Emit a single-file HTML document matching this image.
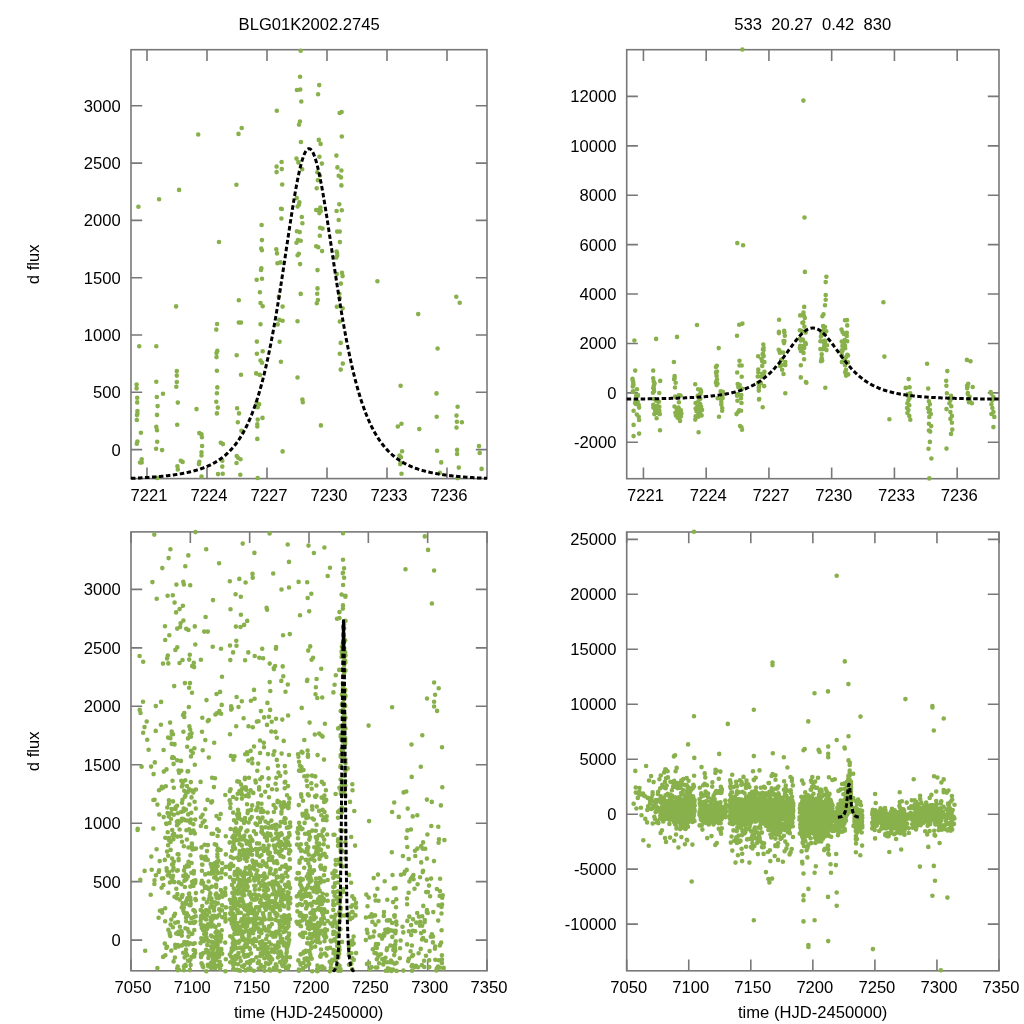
<!DOCTYPE html><html><head><meta charset="utf-8"><style>html,body{margin:0;padding:0;background:#fff}svg{display:block;will-change:transform}</style></head><body>
<svg width="1024" height="1024" viewBox="0 0 1024 1024" font-family="Liberation Sans, Arial, sans-serif" font-size="16.6">
<rect width="1024" height="1024" fill="#fff"/>
<path d="M147.00 478.6v-11.2M147.00 49.7v11.2M207.00 478.6v-11.2M207.00 49.7v11.2M267.00 478.6v-11.2M267.00 49.7v11.2M327.00 478.6v-11.2M327.00 49.7v11.2M387.00 478.6v-11.2M387.00 49.7v11.2M447.00 478.6v-11.2M447.00 49.7v11.2M131.0 449.60h11.2M487.0 449.60h-11.2M131.0 392.30h11.2M487.0 392.30h-11.2M131.0 335.00h11.2M487.0 335.00h-11.2M131.0 277.70h11.2M487.0 277.70h-11.2M131.0 220.40h11.2M487.0 220.40h-11.2M131.0 163.10h11.2M487.0 163.10h-11.2M131.0 105.80h11.2M487.0 105.80h-11.2" stroke="#787878" stroke-width="1.6" fill="none"/>
<rect x="131.0" y="49.7" width="356.00" height="428.90" fill="none" stroke="#787878" stroke-width="1.6"/>
<path d="M300.7 50.7h0M300.1 76.7h0M296.9 90h0M300.3 89.5h0M301.3 101.5h0M276.8 110.8h0M299.9 121.5h0M299 124.6h0M241.7 128h0M238.5 133.9h0M198.2 134.5h0M300.9 142h0M296.5 158.6h0M298.4 162.4h0M281.6 162h0M276.6 166.6h0M281.8 169.1h0M276.6 172.1h0M302.2 169.3h0M236.4 184.7h0M282.2 184.5h0M179.1 189.9h0M159.1 199.2h0M296.7 198.1h0M299.4 202.3h0M299 204.8h0M297.6 206.5h0M138.4 206.7h0M281 208.8h0M281.8 209h0M281.4 218.5h0M301.8 217h0M302.4 223.3h0M261.6 225h0M296.9 231.3h0M299.7 232.1h0M219 242h0M261.9 240.1h0M300.7 240.8h0M298 240.1h0M296.5 242.7h0M261.2 248.5h0M261.9 250.2h0M276.3 249.2h0M277 253.4h0M298.8 253.8h0M297.6 255.2h0M277.4 263.2h0M280.5 262.4h0M300.1 264.1h0M319.2 85.1h0M318.1 94.3h0M339.7 113h0M341.6 112h0M341.8 136.5h0M318.8 139.9h0M320.6 143.9h0M336.4 155.6h0M319.4 156.7h0M321.9 163.6h0M337.4 167.4h0M341.4 170.5h0M338.7 175.8h0M341 177.4h0M317.3 172.2h0M320 175.5h0M317.9 180.2h0M341.4 185.4h0M316.7 188.3h0M339.3 204.3h0M336.6 211h0M341.8 210.2h0M316.2 210h0M319.4 209.5h0M320.4 207.5h0M319.4 213.1h0M320.8 211h0M338.7 220h0M320 227.8h0M322.5 228.6h0M337.2 231.6h0M339.7 231.6h0M319.8 235.8h0M339.9 242.1h0M316.2 246.3h0M318.3 247.3h0M322.1 251.1h0M336.6 251.5h0M337.2 253.6h0M336.2 257.4h0M337.2 255.7h0M261.4 268.2h0M261 269.9h0M256.7 279.8h0M262 278.7h0M259.9 292.2h0M300.7 293.9h0M278.8 296.5h0M238.8 300.2h0M260.5 303h0M262.7 306.2h0M176.1 306.4h0M282.6 306.6h0M279.2 319.7h0M282.6 320.8h0M277.7 324.4h0M297.5 321.2h0M238.8 322.5h0M241 322.5h0M260.5 324.2h0M217.1 324h0M216.3 329.6h0M139.2 346.3h0M156.3 346.3h0M256.9 341.6h0M279.6 341.8h0M217.3 350.9h0M216.5 353h0M216.5 357.1h0M236.7 355.2h0M256.9 353.7h0M262.7 351.3h0M260.5 360.5h0M262 362.7h0M280.9 361.8h0M176.8 371.1h0M176.8 375.6h0M176.8 382h0M176.3 386.7h0M216.9 370.8h0M241 374.7h0M256.2 373.4h0M259.9 374.9h0M297.5 377.5h0M136.6 384.6h0M136.6 388.4h0M156.3 381.8h0M217.3 387.4h0M216.9 393.2h0M137.2 397.7h0M137.2 402.4h0M156.8 397h0M163 393.8h0M157.6 406.1h0M177.8 402.6h0M216.3 401.8h0M217.8 407.6h0M216.9 413.4h0M196.5 409.1h0M237.1 408.2h0M239 413.4h0M256.7 402.8h0M259.2 404.3h0M257.7 407.3h0M302.4 399.6h0M302.8 402.2h0M137.4 411h0M137.4 413.6h0M137 415.1h0M136.8 420h0M157 414.9h0M262.5 417.9h0M257.7 419.6h0M237.8 422.2h0M257.3 424.3h0M257.3 426.5h0M177.2 424.8h0M156.3 426.9h0M157 430.3h0M140.9 432.7h0M199.3 433.1h0M201.5 434.4h0M201.9 437.2h0M241.4 430.8h0M257.3 438.9h0M137.4 441.5h0M136.8 443.7h0M157.2 441.7h0M220.8 442.8h0M222.9 444.1h0M202.1 446h0M156.1 448.8h0M162.1 450.1h0M282.6 451.4h0M201.5 452.2h0M201.5 455.5h0M236.7 456.1h0M240.5 459.3h0M237.8 457.6h0M141.7 459.3h0M140 462.5h0M141.7 462.5h0M180.8 460.8h0M182.6 461.9h0M222.3 460.8h0M199.3 461.9h0M198.9 464.1h0M236.5 463h0M177.4 466.2h0M177.8 469.4h0M222.3 466.6h0M218 474.1h0M222.7 473.7h0M240.3 474.8h0M201.5 476.5h0M257.7 478h0M317.5 270.1h0M336.8 274h0M342 272.9h0M342.6 276.1h0M340.9 283.6h0M377.4 281.3h0M317.5 288.4h0M317.2 293.7h0M317.9 300h0M316.8 303.2h0M339.4 293.7h0M339.8 298.2h0M336.8 306.8h0M342.6 308.3h0M339.8 321.5h0M418.2 314.1h0M456.3 296.7h0M459.7 302.8h0M340.7 342.9h0M437.6 348.5h0M339.8 353.7h0M342.8 363.6h0M340.7 369.6h0M400.6 385.7h0M436.5 393.4h0M457.6 406.8h0M436.7 416.8h0M456.5 415.6h0M456.9 421.8h0M461.9 422.2h0M456.5 427.6h0M320.9 425.4h0M397.8 426.5h0M401.5 423.7h0M419.3 429.1h0M479 446.1h0M479.7 452.9h0M402.1 451.2h0M399.5 455.5h0M401 457.2h0M400.2 464.1h0M401 463.1h0M437.1 450.8h0M457.1 449.9h0M457.1 454h0M441.2 462.4h0M458.8 467.6h0M481.6 468.9h0M401.5 473.8h0M439.9 472.7h0M457.6 478.1h0M157.2 478h0" stroke="#88b04b" stroke-width="4.6" stroke-linecap="round" fill="none"/>
<clipPath id="cTL"><rect x="129.5" y="48.2" width="359.00" height="431.90"/></clipPath>
<polyline clip-path="url(#cTL)" points="131.00,478.36 131.59,478.33 132.19,478.30 132.78,478.28 133.38,478.25 133.97,478.22 134.57,478.19 135.16,478.17 135.75,478.14 136.35,478.11 136.94,478.08 137.54,478.05 138.13,478.02 138.73,477.99 139.32,477.95 139.91,477.92 140.51,477.89 141.10,477.86 141.70,477.82 142.29,477.79 142.89,477.75 143.48,477.72 144.08,477.68 144.67,477.65 145.26,477.61 145.86,477.57 146.45,477.54 147.05,477.50 147.64,477.46 148.24,477.42 148.83,477.38 149.42,477.34 150.02,477.29 150.61,477.25 151.21,477.21 151.80,477.16 152.40,477.12 152.99,477.07 153.58,477.03 154.18,476.98 154.77,476.93 155.37,476.89 155.96,476.84 156.56,476.79 157.15,476.74 157.74,476.68 158.34,476.63 158.93,476.58 159.53,476.52 160.12,476.47 160.72,476.41 161.31,476.35 161.90,476.30 162.50,476.24 163.09,476.18 163.69,476.11 164.28,476.05 164.88,475.99 165.47,475.92 166.07,475.86 166.66,475.79 167.25,475.72 167.85,475.65 168.44,475.58 169.04,475.51 169.63,475.44 170.23,475.36 170.82,475.29 171.41,475.21 172.01,475.13 172.60,475.05 173.20,474.97 173.79,474.89 174.39,474.80 174.98,474.72 175.57,474.63 176.17,474.54 176.76,474.45 177.36,474.36 177.95,474.26 178.55,474.17 179.14,474.07 179.73,473.97 180.33,473.87 180.92,473.76 181.52,473.66 182.11,473.55 182.71,473.44 183.30,473.33 183.89,473.22 184.49,473.10 185.08,472.98 185.68,472.86 186.27,472.74 186.87,472.61 187.46,472.48 188.06,472.35 188.65,472.22 189.24,472.08 189.84,471.95 190.43,471.80 191.03,471.66 191.62,471.51 192.22,471.36 192.81,471.21 193.40,471.06 194.00,470.90 194.59,470.73 195.19,470.57 195.78,470.40 196.38,470.23 196.97,470.05 197.56,469.87 198.16,469.69 198.75,469.50 199.35,469.31 199.94,469.11 200.54,468.91 201.13,468.71 201.72,468.50 202.32,468.29 202.91,468.07 203.51,467.85 204.10,467.62 204.70,467.39 205.29,467.15 205.88,466.91 206.48,466.67 207.07,466.41 207.67,466.16 208.26,465.89 208.86,465.62 209.45,465.35 210.05,465.07 210.64,464.78 211.23,464.49 211.83,464.19 212.42,463.88 213.02,463.57 213.61,463.24 214.21,462.92 214.80,462.58 215.39,462.24 215.99,461.89 216.58,461.53 217.18,461.16 217.77,460.78 218.37,460.40 218.96,460.00 219.55,459.60 220.15,459.19 220.74,458.77 221.34,458.34 221.93,457.89 222.53,457.44 223.12,456.98 223.71,456.51 224.31,456.02 224.90,455.53 225.50,455.02 226.09,454.50 226.69,453.97 227.28,453.42 227.87,452.86 228.47,452.29 229.06,451.71 229.66,451.11 230.25,450.49 230.85,449.86 231.44,449.22 232.04,448.56 232.63,447.88 233.22,447.19 233.82,446.48 234.41,445.76 235.01,445.01 235.60,444.25 236.20,443.47 236.79,442.67 237.38,441.85 237.98,441.01 238.57,440.14 239.17,439.26 239.76,438.36 240.36,437.43 240.95,436.48 241.54,435.51 242.14,434.51 242.73,433.49 243.33,432.44 243.92,431.37 244.52,430.27 245.11,429.14 245.70,427.99 246.30,426.80 246.89,425.59 247.49,424.35 248.08,423.08 248.68,421.77 249.27,420.43 249.86,419.06 250.46,417.66 251.05,416.22 251.65,414.75 252.24,413.24 252.84,411.70 253.43,410.11 254.03,408.49 254.62,406.83 255.21,405.13 255.81,403.39 256.40,401.60 257.00,399.78 257.59,397.91 258.19,396.00 258.78,394.04 259.37,392.04 259.97,389.99 260.56,387.90 261.16,385.75 261.75,383.56 262.35,381.32 262.94,379.03 263.53,376.69 264.13,374.30 264.72,371.85 265.32,369.36 265.91,366.81 266.51,364.21 267.10,361.55 267.69,358.84 268.29,356.08 268.88,353.26 269.48,350.39 270.07,347.46 270.67,344.48 271.26,341.44 271.85,338.35 272.45,335.20 273.04,332.00 273.64,328.75 274.23,325.45 274.83,322.09 275.42,318.68 276.02,315.23 276.61,311.72 277.20,308.17 277.80,304.57 278.39,300.92 278.99,297.24 279.58,293.51 280.18,289.74 280.77,285.94 281.36,282.11 281.96,278.24 282.55,274.34 283.15,270.43 283.74,266.49 284.34,262.53 284.93,258.56 285.52,254.57 286.12,250.58 286.71,246.59 287.31,242.61 287.90,238.63 288.50,234.66 289.09,230.71 289.68,226.79 290.28,222.89 290.87,219.02 291.47,215.20 292.06,211.43 292.66,207.70 293.25,204.03 293.84,200.43 294.44,196.90 295.03,193.45 295.63,190.08 296.22,186.80 296.82,183.61 297.41,180.53 298.01,177.56 298.60,174.70 299.19,171.96 299.79,169.35 300.38,166.88 300.98,164.54 301.57,162.34 302.17,160.29 302.76,158.40 303.35,156.66 303.95,155.08 304.54,153.67 305.14,152.43 305.73,151.36 306.33,150.46 306.92,149.74 307.51,149.20 308.11,148.84 308.70,148.66 309.30,148.66 309.89,148.84 310.49,149.20 311.08,149.74 311.67,150.46 312.27,151.36 312.86,152.43 313.46,153.67 314.05,155.08 314.65,156.66 315.24,158.40 315.83,160.29 316.43,162.34 317.02,164.54 317.62,166.88 318.21,169.35 318.81,171.96 319.40,174.70 319.99,177.56 320.59,180.53 321.18,183.61 321.78,186.80 322.37,190.08 322.97,193.45 323.56,196.90 324.16,200.43 324.75,204.03 325.34,207.70 325.94,211.43 326.53,215.20 327.13,219.02 327.72,222.89 328.32,226.79 328.91,230.71 329.50,234.66 330.10,238.63 330.69,242.61 331.29,246.59 331.88,250.58 332.48,254.57 333.07,258.56 333.66,262.53 334.26,266.49 334.85,270.43 335.45,274.34 336.04,278.24 336.64,282.11 337.23,285.94 337.82,289.74 338.42,293.51 339.01,297.24 339.61,300.92 340.20,304.57 340.80,308.17 341.39,311.72 341.98,315.23 342.58,318.68 343.17,322.09 343.77,325.45 344.36,328.75 344.96,332.00 345.55,335.20 346.15,338.35 346.74,341.44 347.33,344.48 347.93,347.46 348.52,350.39 349.12,353.26 349.71,356.08 350.31,358.84 350.90,361.55 351.49,364.21 352.09,366.81 352.68,369.36 353.28,371.85 353.87,374.30 354.47,376.69 355.06,379.03 355.65,381.32 356.25,383.56 356.84,385.75 357.44,387.90 358.03,389.99 358.63,392.04 359.22,394.04 359.81,396.00 360.41,397.91 361.00,399.78 361.60,401.60 362.19,403.39 362.79,405.13 363.38,406.83 363.97,408.49 364.57,410.11 365.16,411.70 365.76,413.24 366.35,414.75 366.95,416.22 367.54,417.66 368.14,419.06 368.73,420.43 369.32,421.77 369.92,423.08 370.51,424.35 371.11,425.59 371.70,426.80 372.30,427.99 372.89,429.14 373.48,430.27 374.08,431.37 374.67,432.44 375.27,433.49 375.86,434.51 376.46,435.51 377.05,436.48 377.64,437.43 378.24,438.36 378.83,439.26 379.43,440.14 380.02,441.01 380.62,441.85 381.21,442.67 381.80,443.47 382.40,444.25 382.99,445.01 383.59,445.76 384.18,446.48 384.78,447.19 385.37,447.88 385.96,448.56 386.56,449.22 387.15,449.86 387.75,450.49 388.34,451.11 388.94,451.71 389.53,452.29 390.13,452.86 390.72,453.42 391.31,453.97 391.91,454.50 392.50,455.02 393.10,455.53 393.69,456.02 394.29,456.51 394.88,456.98 395.47,457.44 396.07,457.89 396.66,458.34 397.26,458.77 397.85,459.19 398.45,459.60 399.04,460.00 399.63,460.40 400.23,460.78 400.82,461.16 401.42,461.53 402.01,461.89 402.61,462.24 403.20,462.58 403.79,462.92 404.39,463.24 404.98,463.57 405.58,463.88 406.17,464.19 406.77,464.49 407.36,464.78 407.95,465.07 408.55,465.35 409.14,465.62 409.74,465.89 410.33,466.16 410.93,466.41 411.52,466.67 412.12,466.91 412.71,467.15 413.30,467.39 413.90,467.62 414.49,467.85 415.09,468.07 415.68,468.29 416.28,468.50 416.87,468.71 417.46,468.91 418.06,469.11 418.65,469.31 419.25,469.50 419.84,469.69 420.44,469.87 421.03,470.05 421.62,470.23 422.22,470.40 422.81,470.57 423.41,470.73 424.00,470.90 424.60,471.06 425.19,471.21 425.78,471.36 426.38,471.51 426.97,471.66 427.57,471.80 428.16,471.95 428.76,472.08 429.35,472.22 429.94,472.35 430.54,472.48 431.13,472.61 431.73,472.74 432.32,472.86 432.92,472.98 433.51,473.10 434.11,473.22 434.70,473.33 435.29,473.44 435.89,473.55 436.48,473.66 437.08,473.76 437.67,473.87 438.27,473.97 438.86,474.07 439.45,474.17 440.05,474.26 440.64,474.36 441.24,474.45 441.83,474.54 442.43,474.63 443.02,474.72 443.61,474.80 444.21,474.89 444.80,474.97 445.40,475.05 445.99,475.13 446.59,475.21 447.18,475.29 447.77,475.36 448.37,475.44 448.96,475.51 449.56,475.58 450.15,475.65 450.75,475.72 451.34,475.79 451.93,475.86 452.53,475.92 453.12,475.99 453.72,476.05 454.31,476.11 454.91,476.18 455.50,476.24 456.10,476.30 456.69,476.35 457.28,476.41 457.88,476.47 458.47,476.52 459.07,476.58 459.66,476.63 460.26,476.68 460.85,476.74 461.44,476.79 462.04,476.84 462.63,476.89 463.23,476.93 463.82,476.98 464.42,477.03 465.01,477.07 465.60,477.12 466.20,477.16 466.79,477.21 467.39,477.25 467.98,477.29 468.58,477.34 469.17,477.38 469.76,477.42 470.36,477.46 470.95,477.50 471.55,477.54 472.14,477.57 472.74,477.61 473.33,477.65 473.92,477.68 474.52,477.72 475.11,477.75 475.71,477.79 476.30,477.82 476.90,477.86 477.49,477.89 478.09,477.92 478.68,477.95 479.27,477.99 479.87,478.02 480.46,478.05 481.06,478.08 481.65,478.11 482.25,478.14 482.84,478.17 483.43,478.19 484.03,478.22 484.62,478.25 485.22,478.28 485.81,478.30 486.41,478.33 487.00,478.36" fill="none" stroke="#000" stroke-width="3" stroke-dasharray="4.5 2.5"/>
<text x="149.00" y="500.6" text-anchor="middle">7221</text>
<text x="209.00" y="500.6" text-anchor="middle">7224</text>
<text x="269.00" y="500.6" text-anchor="middle">7227</text>
<text x="329.00" y="500.6" text-anchor="middle">7230</text>
<text x="389.00" y="500.6" text-anchor="middle">7233</text>
<text x="449.00" y="500.6" text-anchor="middle">7236</text>
<text x="120.70" y="455.60" text-anchor="end">0</text>
<text x="120.70" y="398.30" text-anchor="end">500</text>
<text x="120.70" y="341.00" text-anchor="end">1000</text>
<text x="120.70" y="283.70" text-anchor="end">1500</text>
<text x="120.70" y="226.40" text-anchor="end">2000</text>
<text x="120.70" y="169.10" text-anchor="end">2500</text>
<text x="120.70" y="111.80" text-anchor="end">3000</text>
<path d="M643.43 478.7v-11.2M643.43 49.7v11.2M706.18 478.7v-11.2M706.18 49.7v11.2M768.93 478.7v-11.2M768.93 49.7v11.2M831.67 478.7v-11.2M831.67 49.7v11.2M894.42 478.7v-11.2M894.42 49.7v11.2M957.17 478.7v-11.2M957.17 49.7v11.2M626.7 442.31h11.2M999.0 442.31h-11.2M626.7 392.90h11.2M999.0 392.90h-11.2M626.7 343.49h11.2M999.0 343.49h-11.2M626.7 294.07h11.2M999.0 294.07h-11.2M626.7 244.66h11.2M999.0 244.66h-11.2M626.7 195.24h11.2M999.0 195.24h-11.2M626.7 145.83h11.2M999.0 145.83h-11.2M626.7 96.42h11.2M999.0 96.42h-11.2" stroke="#787878" stroke-width="1.6" fill="none"/>
<rect x="626.7" y="49.7" width="372.30" height="429.00" fill="none" stroke="#787878" stroke-width="1.6"/>
<path d="M804.2 306.9h0M803.5 312.5h0M800.2 315.4h0M803.7 315.3h0M804.8 317.9h0M779.1 319.8h0M803.3 322.2h0M802.4 322.8h0M742.4 323.6h0M739.2 324.8h0M697 325h0M804.4 326.6h0M799.8 330.2h0M801.8 331h0M784.2 330.9h0M778.9 331.9h0M784.4 332.4h0M778.9 333.1h0M805.7 332.5h0M737 335.8h0M784.8 335.7h0M677 336.9h0M656.1 338.9h0M800 338.7h0M802.9 339.6h0M802.4 340.1h0M800.9 340.5h0M634.4 340.5h0M783.5 341h0M784.4 341h0M784 343.1h0M805.3 342.8h0M805.9 344.1h0M763.3 344.5h0M800.2 345.8h0M803.1 346h0M718.7 348.1h0M763.6 347.7h0M804.2 347.9h0M801.3 347.7h0M799.8 348.3h0M762.9 349.6h0M763.6 349.9h0M778.7 349.7h0M779.4 350.6h0M802.2 350.7h0M800.9 351h0M779.8 352.7h0M783.1 352.5h0M803.5 352.9h0M823.5 314.3h0M822.4 316.3h0M845 320.3h0M847 320.1h0M847.2 325.4h0M823.1 326.1h0M825 327h0M841.5 329.5h0M823.7 329.7h0M826.3 331.2h0M842.6 332.1h0M846.8 332.7h0M843.9 333.9h0M846.3 334.2h0M821.5 333.1h0M824.4 333.8h0M822.2 334.8h0M846.8 335.9h0M820.9 336.6h0M844.6 340h0M841.7 341.5h0M847.2 341.3h0M820.4 341.2h0M823.7 341.1h0M824.8 340.7h0M823.7 341.9h0M825.2 341.5h0M843.9 343.4h0M824.4 345.1h0M827 345.3h0M842.4 345.9h0M845 345.9h0M824.1 346.8h0M845.2 348.2h0M820.4 349.1h0M822.6 349.3h0M826.5 350.1h0M841.7 350.2h0M842.4 350.6h0M841.3 351.5h0M842.4 351.1h0M763 353.8h0M762.6 354.2h0M758.1 356.3h0M763.7 356.1h0M761.5 359h0M804.1 359.3h0M781.2 359.9h0M739.5 360.7h0M762.2 361.3h0M764.4 362h0M673.9 362h0M785.3 362.1h0M781.7 364.9h0M785.3 365.1h0M780.1 365.9h0M800.8 365.2h0M739.5 365.5h0M741.7 365.5h0M762.2 365.9h0M716.8 365.8h0M715.9 367h0M635.2 370.6h0M653.2 370.6h0M758.3 369.6h0M782.1 369.7h0M717 371.6h0M716.1 372.1h0M716.1 373h0M737.2 372.5h0M758.3 372.2h0M764.4 371.7h0M762.2 373.7h0M763.7 374.2h0M783.5 374h0M674.6 376h0M674.6 376.9h0M674.6 378.3h0M674.1 379.3h0M716.6 375.9h0M741.7 376.8h0M757.7 376.5h0M761.5 376.8h0M800.8 377.4h0M632.5 378.9h0M632.5 379.7h0M653.2 378.3h0M717 379.5h0M716.6 380.7h0M633.2 381.7h0M633.2 382.7h0M653.7 381.6h0M660.2 380.9h0M654.6 383.5h0M675.7 382.8h0M715.9 382.6h0M717.5 383.8h0M716.6 385.1h0M695.2 384.2h0M737.7 384h0M739.7 385.1h0M758.1 382.8h0M760.8 383.1h0M759.2 383.8h0M805.9 382.1h0M806.4 382.7h0M633.4 384.6h0M633.4 385.1h0M633 385.5h0M632.8 386.5h0M653.9 385.4h0M764.2 386.1h0M759.2 386.4h0M738.3 387h0M758.8 387.4h0M758.8 387.9h0M675 387.5h0M653.2 388h0M653.9 388.7h0M637 389.3h0M698.1 389.3h0M700.4 389.6h0M700.8 390.2h0M742.2 388.8h0M758.8 390.6h0M633.4 391.2h0M632.8 391.6h0M654.1 391.2h0M720.6 391.4h0M722.8 391.7h0M701.1 392.1h0M653 392.7h0M659.3 393h0M785.3 393.3h0M700.4 393.5h0M700.4 394.2h0M737.2 394.3h0M741.3 395h0M738.3 394.6h0M637.9 395h0M636.1 395.7h0M637.9 395.7h0M678.8 395.3h0M680.6 395.6h0M722.2 395.3h0M698.1 395.6h0M697.7 396h0M737 395.8h0M675.2 396.5h0M675.7 397.2h0M722.2 396.6h0M717.7 398.2h0M722.6 398.1h0M741 398.3h0M700.4 398.7h0M759.2 399h0M821.7 354.2h0M841.9 355h0M847.3 354.8h0M848 355.5h0M846.2 357.1h0M884.4 356.6h0M821.7 358.1h0M821.5 359.3h0M822.2 360.6h0M821 361.3h0M844.6 359.3h0M845.1 360.3h0M841.9 362.1h0M848 362.4h0M845.1 365.3h0M927.1 363.7h0M966.9 359.9h0M970.5 361.2h0M846 369.9h0M947.3 371.1h0M845.1 372.2h0M848.2 374.4h0M846 375.6h0M908.7 379.1h0M946.2 380.8h0M968.2 383.7h0M946.4 385.8h0M967.1 385.6h0M967.5 386.9h0M972.7 387h0M967.1 388.2h0M825.3 387.7h0M905.7 387.9h0M909.6 387.3h0M928.2 388.5h0M990.7 392.1h0M991.3 393.6h0M910.2 393.3h0M907.5 394.2h0M909.1 394.5h0M908.2 396h0M909.1 395.8h0M946.9 393.2h0M967.8 393h0M967.8 393.9h0M951.1 395.7h0M969.6 396.8h0M993.4 397.1h0M909.6 398.1h0M949.8 397.9h0M968.2 399h0M635.9 400.3h0M637.7 401.7h0M635 403h0M638.7 404.9h0M639.1 407.6h0M633.6 410.8h0M636.8 414.5h0M638.7 416.8h0M639.1 420h0M633.6 424.9h0M639.1 433.6h0M633.6 436.1h0M637.3 402.6h0M635.9 404h0M656.1 400.8h0M658.9 401.7h0M653.3 404.9h0M657 405.8h0M659.3 406.7h0M654.3 407.6h0M657.5 408.6h0M655.2 410.8h0M659.3 410.8h0M654.3 414.1h0M657.9 413.1h0M659.8 414.1h0M656.6 418.2h0M660 430.3h0M653.3 407.6h0M656.1 412.2h0M678.9 402.3h0M674.5 406.5h0M678.6 407.6h0M676.8 409.5h0M680.9 410.4h0M675.4 412.7h0M679.1 413.1h0M681.4 413.6h0M675.9 415.4h0M678.6 415.9h0M680.9 416.4h0M680 420.9h0M677.7 417.7h0M698.4 401.2h0M695.6 403h0M700.2 404h0M697.4 406.3h0M701.1 406.7h0M695.6 408.6h0M699.3 409h0M702 409.9h0M696.5 411.3h0M700.2 411.8h0M698.4 413.6h0M701.6 415.4h0M695.6 416.4h0M698.4 416.8h0M695.3 419.6h0M698.6 432.2h0M721.3 399.4h0M721.3 402.1h0M721.3 404.4h0M722.2 408.1h0M722.2 410.8h0M719 416.8h0M737.4 400.8h0M741.5 403h0M739.2 410.4h0M741.1 410.8h0M736.5 414.1h0M737.9 412.2h0M740.1 426h0M742 429.7h0M741.5 427.4h0M759 399.4h0M762.7 407.2h0M908.4 400.3h0M907.4 403.2h0M909.3 405.2h0M907 408.1h0M908.4 410.1h0M907.4 413h0M909.3 415.9h0M910.3 419.8h0M889.4 419.3h0M928.9 401.3h0M929.9 404.2h0M927.9 408.1h0M929.9 410.1h0M928.9 412h0M930.8 414h0M929.3 416.9h0M928.9 423.7h0M931.2 426.1h0M928.9 430.6h0M930.2 431.6h0M929.9 441.9h0M928.5 448.8h0M931.4 458.5h0M929.3 478.4h0M950.4 400.3h0M949.4 403.2h0M951.3 406.2h0M946.5 409.1h0M950.4 412h0M951.9 415.9h0M950.4 418.9h0M951.9 422.8h0M952.3 429.6h0M951 433.9h0M946.5 448.6h0M969.9 401.3h0M971.9 403.2h0M968.9 402.3h0M992.4 400.3h0M991.4 404.2h0M992.4 408.1h0M993.4 412h0M991.4 414h0M994.3 416.9h0M993.4 427.1h0M742.4 49.5h0M803.4 100.6h0M804.5 217.5h0M737.3 243.1h0M743.1 245.3h0M804.9 271.9h0M826.4 276.7h0M825.7 282.1h0M825.7 295h0M825.7 299.7h0M825 305.2h0M883.4 302.2h0M654.1 399h0" stroke="#88b04b" stroke-width="4.6" stroke-linecap="round" fill="none"/>
<clipPath id="cTR"><rect x="625.2" y="48.2" width="375.30" height="432.00"/></clipPath>
<polyline clip-path="url(#cTR)" points="626.70,399.10 627.32,399.09 627.94,399.09 628.56,399.08 629.19,399.08 629.81,399.07 630.43,399.06 631.05,399.06 631.67,399.05 632.29,399.05 632.92,399.04 633.54,399.03 634.16,399.03 634.78,399.02 635.40,399.01 636.02,399.01 636.64,399.00 637.27,398.99 637.89,398.98 638.51,398.98 639.13,398.97 639.75,398.96 640.37,398.95 641.00,398.95 641.62,398.94 642.24,398.93 642.86,398.92 643.48,398.91 644.10,398.91 644.72,398.90 645.35,398.89 645.97,398.88 646.59,398.87 647.21,398.86 647.83,398.85 648.45,398.84 649.08,398.83 649.70,398.82 650.32,398.81 650.94,398.80 651.56,398.79 652.18,398.78 652.80,398.77 653.43,398.76 654.05,398.75 654.67,398.74 655.29,398.73 655.91,398.72 656.53,398.70 657.16,398.69 657.78,398.68 658.40,398.67 659.02,398.66 659.64,398.64 660.26,398.63 660.88,398.62 661.51,398.60 662.13,398.59 662.75,398.58 663.37,398.56 663.99,398.55 664.61,398.53 665.24,398.52 665.86,398.50 666.48,398.49 667.10,398.47 667.72,398.45 668.34,398.44 668.96,398.42 669.59,398.40 670.21,398.39 670.83,398.37 671.45,398.35 672.07,398.33 672.69,398.32 673.32,398.30 673.94,398.28 674.56,398.26 675.18,398.24 675.80,398.22 676.42,398.20 677.04,398.18 677.67,398.15 678.29,398.13 678.91,398.11 679.53,398.09 680.15,398.06 680.77,398.04 681.40,398.02 682.02,397.99 682.64,397.97 683.26,397.94 683.88,397.91 684.50,397.89 685.12,397.86 685.75,397.83 686.37,397.81 686.99,397.78 687.61,397.75 688.23,397.72 688.85,397.69 689.48,397.66 690.10,397.62 690.72,397.59 691.34,397.56 691.96,397.53 692.58,397.49 693.20,397.46 693.83,397.42 694.45,397.38 695.07,397.35 695.69,397.31 696.31,397.27 696.93,397.23 697.56,397.19 698.18,397.15 698.80,397.11 699.42,397.06 700.04,397.02 700.66,396.97 701.28,396.93 701.91,396.88 702.53,396.83 703.15,396.79 703.77,396.74 704.39,396.68 705.01,396.63 705.64,396.58 706.26,396.53 706.88,396.47 707.50,396.41 708.12,396.35 708.74,396.30 709.36,396.23 709.99,396.17 710.61,396.11 711.23,396.04 711.85,395.98 712.47,395.91 713.09,395.84 713.72,395.77 714.34,395.70 714.96,395.62 715.58,395.55 716.20,395.47 716.82,395.39 717.44,395.31 718.07,395.23 718.69,395.14 719.31,395.06 719.93,394.97 720.55,394.88 721.17,394.78 721.79,394.69 722.42,394.59 723.04,394.49 723.66,394.39 724.28,394.28 724.90,394.18 725.52,394.07 726.15,393.96 726.77,393.84 727.39,393.72 728.01,393.60 728.63,393.48 729.25,393.35 729.87,393.22 730.50,393.09 731.12,392.96 731.74,392.82 732.36,392.68 732.98,392.53 733.60,392.38 734.23,392.23 734.85,392.07 735.47,391.91 736.09,391.75 736.71,391.58 737.33,391.41 737.95,391.23 738.58,391.05 739.20,390.86 739.82,390.67 740.44,390.48 741.06,390.28 741.68,390.07 742.31,389.86 742.93,389.65 743.55,389.43 744.17,389.20 744.79,388.97 745.41,388.73 746.03,388.49 746.66,388.24 747.28,387.99 747.90,387.72 748.52,387.46 749.14,387.18 749.76,386.90 750.39,386.61 751.01,386.32 751.63,386.01 752.25,385.70 752.87,385.39 753.49,385.06 754.11,384.73 754.74,384.39 755.36,384.04 755.98,383.68 756.60,383.31 757.22,382.94 757.84,382.55 758.47,382.16 759.09,381.76 759.71,381.34 760.33,380.92 760.95,380.49 761.57,380.05 762.19,379.60 762.82,379.14 763.44,378.66 764.06,378.18 764.68,377.69 765.30,377.18 765.92,376.67 766.55,376.14 767.17,375.60 767.79,375.05 768.41,374.49 769.03,373.92 769.65,373.33 770.27,372.74 770.90,372.13 771.52,371.51 772.14,370.88 772.76,370.24 773.38,369.58 774.00,368.91 774.63,368.24 775.25,367.55 775.87,366.85 776.49,366.13 777.11,365.41 777.73,364.68 778.35,363.93 778.98,363.17 779.60,362.41 780.22,361.63 780.84,360.85 781.46,360.05 782.08,359.25 782.71,358.44 783.33,357.62 783.95,356.79 784.57,355.96 785.19,355.12 785.81,354.27 786.43,353.42 787.06,352.57 787.68,351.71 788.30,350.85 788.92,349.99 789.54,349.13 790.16,348.27 790.79,347.42 791.41,346.56 792.03,345.71 792.65,344.86 793.27,344.02 793.89,343.19 794.51,342.37 795.14,341.55 795.76,340.75 796.38,339.96 797.00,339.18 797.62,338.42 798.24,337.68 798.87,336.95 799.49,336.24 800.11,335.55 800.73,334.89 801.35,334.25 801.97,333.63 802.59,333.04 803.22,332.48 803.84,331.95 804.46,331.44 805.08,330.97 805.70,330.53 806.32,330.12 806.95,329.74 807.57,329.40 808.19,329.10 808.81,328.83 809.43,328.60 810.05,328.41 810.67,328.25 811.30,328.14 811.92,328.06 812.54,328.02 813.16,328.02 813.78,328.06 814.40,328.14 815.03,328.25 815.65,328.41 816.27,328.60 816.89,328.83 817.51,329.10 818.13,329.40 818.75,329.74 819.38,330.12 820.00,330.53 820.62,330.97 821.24,331.44 821.86,331.95 822.48,332.48 823.11,333.04 823.73,333.63 824.35,334.25 824.97,334.89 825.59,335.55 826.21,336.24 826.83,336.95 827.46,337.68 828.08,338.42 828.70,339.18 829.32,339.96 829.94,340.75 830.56,341.55 831.19,342.37 831.81,343.19 832.43,344.02 833.05,344.86 833.67,345.71 834.29,346.56 834.91,347.42 835.54,348.27 836.16,349.13 836.78,349.99 837.40,350.85 838.02,351.71 838.64,352.57 839.27,353.42 839.89,354.27 840.51,355.12 841.13,355.96 841.75,356.79 842.37,357.62 842.99,358.44 843.62,359.25 844.24,360.05 844.86,360.85 845.48,361.63 846.10,362.41 846.72,363.17 847.35,363.93 847.97,364.68 848.59,365.41 849.21,366.13 849.83,366.85 850.45,367.55 851.07,368.24 851.70,368.91 852.32,369.58 852.94,370.24 853.56,370.88 854.18,371.51 854.80,372.13 855.43,372.74 856.05,373.33 856.67,373.92 857.29,374.49 857.91,375.05 858.53,375.60 859.15,376.14 859.78,376.67 860.40,377.18 861.02,377.69 861.64,378.18 862.26,378.66 862.88,379.14 863.51,379.60 864.13,380.05 864.75,380.49 865.37,380.92 865.99,381.34 866.61,381.76 867.23,382.16 867.86,382.55 868.48,382.94 869.10,383.31 869.72,383.68 870.34,384.04 870.96,384.39 871.59,384.73 872.21,385.06 872.83,385.39 873.45,385.70 874.07,386.01 874.69,386.32 875.31,386.61 875.94,386.90 876.56,387.18 877.18,387.46 877.80,387.72 878.42,387.99 879.04,388.24 879.67,388.49 880.29,388.73 880.91,388.97 881.53,389.20 882.15,389.43 882.77,389.65 883.39,389.86 884.02,390.07 884.64,390.28 885.26,390.48 885.88,390.67 886.50,390.86 887.12,391.05 887.75,391.23 888.37,391.41 888.99,391.58 889.61,391.75 890.23,391.91 890.85,392.07 891.47,392.23 892.10,392.38 892.72,392.53 893.34,392.68 893.96,392.82 894.58,392.96 895.20,393.09 895.83,393.22 896.45,393.35 897.07,393.48 897.69,393.60 898.31,393.72 898.93,393.84 899.55,393.96 900.18,394.07 900.80,394.18 901.42,394.28 902.04,394.39 902.66,394.49 903.28,394.59 903.91,394.69 904.53,394.78 905.15,394.88 905.77,394.97 906.39,395.06 907.01,395.14 907.63,395.23 908.26,395.31 908.88,395.39 909.50,395.47 910.12,395.55 910.74,395.62 911.36,395.70 911.98,395.77 912.61,395.84 913.23,395.91 913.85,395.98 914.47,396.04 915.09,396.11 915.71,396.17 916.34,396.23 916.96,396.30 917.58,396.35 918.20,396.41 918.82,396.47 919.44,396.53 920.06,396.58 920.69,396.63 921.31,396.68 921.93,396.74 922.55,396.79 923.17,396.83 923.79,396.88 924.42,396.93 925.04,396.97 925.66,397.02 926.28,397.06 926.90,397.11 927.52,397.15 928.14,397.19 928.77,397.23 929.39,397.27 930.01,397.31 930.63,397.35 931.25,397.38 931.87,397.42 932.50,397.46 933.12,397.49 933.74,397.53 934.36,397.56 934.98,397.59 935.60,397.62 936.22,397.66 936.85,397.69 937.47,397.72 938.09,397.75 938.71,397.78 939.33,397.81 939.95,397.83 940.58,397.86 941.20,397.89 941.82,397.91 942.44,397.94 943.06,397.97 943.68,397.99 944.30,398.02 944.93,398.04 945.55,398.06 946.17,398.09 946.79,398.11 947.41,398.13 948.03,398.15 948.66,398.18 949.28,398.20 949.90,398.22 950.52,398.24 951.14,398.26 951.76,398.28 952.38,398.30 953.01,398.32 953.63,398.33 954.25,398.35 954.87,398.37 955.49,398.39 956.11,398.40 956.74,398.42 957.36,398.44 957.98,398.45 958.60,398.47 959.22,398.49 959.84,398.50 960.46,398.52 961.09,398.53 961.71,398.55 962.33,398.56 962.95,398.58 963.57,398.59 964.19,398.60 964.82,398.62 965.44,398.63 966.06,398.64 966.68,398.66 967.30,398.67 967.92,398.68 968.54,398.69 969.17,398.70 969.79,398.72 970.41,398.73 971.03,398.74 971.65,398.75 972.27,398.76 972.90,398.77 973.52,398.78 974.14,398.79 974.76,398.80 975.38,398.81 976.00,398.82 976.62,398.83 977.25,398.84 977.87,398.85 978.49,398.86 979.11,398.87 979.73,398.88 980.35,398.89 980.98,398.90 981.60,398.91 982.22,398.91 982.84,398.92 983.46,398.93 984.08,398.94 984.70,398.95 985.33,398.95 985.95,398.96 986.57,398.97 987.19,398.98 987.81,398.98 988.43,398.99 989.06,399.00 989.68,399.01 990.30,399.01 990.92,399.02 991.54,399.03 992.16,399.03 992.78,399.04 993.41,399.05 994.03,399.05 994.65,399.06 995.27,399.06 995.89,399.07 996.51,399.08 997.14,399.08 997.76,399.09 998.38,399.09 999.00,399.10" fill="none" stroke="#000" stroke-width="3" stroke-dasharray="4.5 2.5"/>
<text x="645.43" y="500.7" text-anchor="middle">7221</text>
<text x="708.18" y="500.7" text-anchor="middle">7224</text>
<text x="770.93" y="500.7" text-anchor="middle">7227</text>
<text x="833.67" y="500.7" text-anchor="middle">7230</text>
<text x="896.42" y="500.7" text-anchor="middle">7233</text>
<text x="959.17" y="500.7" text-anchor="middle">7236</text>
<text x="616.40" y="448.31" text-anchor="end">-2000</text>
<text x="616.40" y="398.90" text-anchor="end">0</text>
<text x="616.40" y="349.49" text-anchor="end">2000</text>
<text x="616.40" y="300.07" text-anchor="end">4000</text>
<text x="616.40" y="250.66" text-anchor="end">6000</text>
<text x="616.40" y="201.24" text-anchor="end">8000</text>
<text x="616.40" y="151.83" text-anchor="end">10000</text>
<text x="616.40" y="102.42" text-anchor="end">12000</text>
<path d="M131.00 970.8v-11.2M131.00 531.9v11.2M190.33 970.8v-11.2M190.33 531.9v11.2M249.67 970.8v-11.2M249.67 531.9v11.2M309.00 970.8v-11.2M309.00 531.9v11.2M368.33 970.8v-11.2M368.33 531.9v11.2M427.67 970.8v-11.2M427.67 531.9v11.2M487.00 970.8v-11.2M487.00 531.9v11.2M131.0 940.10h11.2M487.0 940.10h-11.2M131.0 881.65h11.2M487.0 881.65h-11.2M131.0 823.20h11.2M487.0 823.20h-11.2M131.0 764.75h11.2M487.0 764.75h-11.2M131.0 706.30h11.2M487.0 706.30h-11.2M131.0 647.85h11.2M487.0 647.85h-11.2M131.0 589.40h11.2M487.0 589.40h-11.2" stroke="#787878" stroke-width="1.6" fill="none"/>
<rect x="131.0" y="531.9" width="356.00" height="438.90" fill="none" stroke="#787878" stroke-width="1.6"/>
<path d="M343 533.2h0M343 559.7h0M342.8 573.2h0M343 572.8h0M343.1 585h0M341.6 594.5h0M343 605.4h0M342.9 608.6h0M339.5 612h0M339.4 618h0M337 618.7h0M343.1 626.4h0M342.8 643.3h0M342.9 647.2h0M341.9 646.7h0M341.6 651.4h0M341.9 654h0M341.6 657h0M343.1 654.2h0M339.2 669.9h0M341.9 669.7h0M335.8 675.2h0M334.6 684.7h0M342.8 683.6h0M343 687.9h0M342.9 690.4h0M342.9 692.1h0M333.4 692.4h0M341.9 694.5h0M341.9 694.7h0M341.9 704.4h0M343.1 702.9h0M343.1 709.3h0M340.7 711h0M342.8 717.4h0M343 718.3h0M338.2 728.4h0M340.7 726.4h0M343 727.1h0M342.9 726.4h0M342.8 729h0M340.7 735h0M340.7 736.7h0M341.6 735.6h0M341.6 739.9h0M342.9 740.4h0M342.9 741.8h0M341.7 750h0M341.8 749.1h0M343 750.9h0M344.1 568.3h0M344.1 577.7h0M345.4 596.8h0M345.5 595.7h0M345.5 620.7h0M344.1 624.2h0M344.2 628.2h0M345.2 640.2h0M344.1 641.3h0M344.3 648.3h0M345.2 652.2h0M345.5 655.4h0M345.3 660.8h0M345.4 662.5h0M344 657.1h0M344.2 660.5h0M344.1 665.3h0M345.5 670.6h0M344 673.6h0M345.3 689.9h0M345.2 696.7h0M345.5 695.9h0M344 695.7h0M344.1 695.2h0M344.2 693.1h0M344.1 698.9h0M344.2 696.7h0M345.3 705.9h0M344.2 713.9h0M344.3 714.7h0M345.2 717.7h0M345.4 717.7h0M344.2 722h0M345.4 728.4h0M344 732.7h0M344.1 733.8h0M344.3 737.6h0M345.2 738h0M345.2 740.2h0M345.1 744h0M345.2 742.3h0M340.7 755h0M340.7 756.8h0M340.4 766.9h0M340.7 765.8h0M340.6 779.6h0M343 781.3h0M341.7 783.9h0M339.4 787.7h0M340.7 790.5h0M340.8 793.8h0M335.6 794h0M342 794.2h0M341.8 807.6h0M342 808.7h0M341.7 812.4h0M342.8 809.1h0M339.4 810.5h0M339.5 810.5h0M340.7 812.2h0M338.1 812h0M338 817.7h0M333.5 834.8h0M334.5 834.8h0M340.4 830h0M341.8 830.2h0M338.1 839.4h0M338 841.6h0M338 845.7h0M339.2 843.8h0M340.4 842.2h0M340.8 839.8h0M340.7 849.2h0M340.7 851.4h0M341.9 850.6h0M335.7 860h0M335.7 864.6h0M335.7 871.2h0M335.7 876h0M338.1 859.8h0M339.5 863.7h0M340.4 862.4h0M340.6 863.9h0M342.8 866.5h0M333.3 873.8h0M333.3 877.7h0M334.5 870.9h0M338.1 876.6h0M338.1 882.5h0M333.3 887.1h0M333.3 892h0M334.5 886.5h0M334.9 883.2h0M334.6 895.7h0M335.7 892.2h0M338 891.3h0M338.1 897.2h0M338.1 903.1h0M336.9 898.8h0M339.3 897.9h0M339.4 903.1h0M340.4 892.4h0M340.6 893.9h0M340.5 897h0M343.1 889.1h0M343.2 891.7h0M333.4 900.7h0M333.4 903.4h0M333.3 904.9h0M333.3 909.9h0M334.5 904.7h0M340.8 907.7h0M340.5 909.5h0M339.3 912.1h0M340.5 914.3h0M340.5 916.5h0M335.7 914.8h0M334.5 916.9h0M334.5 920.4h0M333.6 922.9h0M337 923.3h0M337.2 924.6h0M337.2 927.5h0M339.5 920.9h0M340.5 929.2h0M333.4 931.8h0M333.3 934h0M334.5 932.1h0M338.3 933.2h0M338.4 934.5h0M337.2 936.4h0M334.5 939.3h0M334.8 940.6h0M342 941.9h0M337.2 942.8h0M337.2 946.1h0M339.2 946.7h0M339.5 950h0M339.3 948.3h0M333.6 950h0M333.5 953.3h0M333.6 953.3h0M335.9 951.6h0M336 952.7h0M338.4 951.6h0M337 952.7h0M337 954.9h0M339.2 953.8h0M335.7 957h0M335.7 960.3h0M338.4 957.5h0M338.1 965.1h0M338.4 964.7h0M339.5 965.8h0M337.2 967.6h0M340.5 969.1h0M344 757h0M345.2 760.9h0M345.5 759.8h0M345.5 763.1h0M345.4 770.8h0M347.6 768.4h0M344 775.6h0M344 781.1h0M344.1 787.5h0M344 790.7h0M345.3 781.1h0M345.4 785.7h0M345.2 794.5h0M345.5 796h0M345.4 809.4h0M350 801.9h0M352.3 784.2h0M352.5 790.3h0M345.4 831.3h0M351.2 837h0M345.4 842.3h0M345.5 852.3h0M345.4 858.5h0M349 874.9h0M351.1 882.8h0M352.3 896.4h0M351.1 906.7h0M352.3 905.4h0M352.3 911.7h0M352.6 912.2h0M352.3 917.7h0M344.2 915.5h0M348.8 916.6h0M349 913.7h0M350.1 919.2h0M353.6 936.5h0M353.7 943.5h0M349.1 941.8h0M348.9 946.1h0M349 947.9h0M348.9 954.9h0M349 953.8h0M351.1 941.3h0M352.3 940.5h0M352.3 944.6h0M351.4 953.2h0M352.4 958.4h0M353.8 959.7h0M349 964.8h0M351.3 963.7h0M352.3 969.2h0M338.3 970.7h0M340.5 970.7h0M334.5 969.1h0M144.5 727.1h0M143.2 661.8h0M143 701.8h0M140.3 879.7h0M137.7 828.9h0M139.6 656h0M145.2 950.8h0M139.7 709.9h0M141.6 766.7h0M137.6 829.9h0M146.7 721.5h0M140.5 713h0M147.2 739.8h0M143.2 732.7h0M144.6 870.9h0M159.3 814.5h0M150.7 894.8h0M161.6 887.7h0M148.6 749.8h0M159.1 870.3h0M159.9 910.7h0M154.4 884h0M157.4 804.6h0M159.7 861.1h0M155.7 730.9h0M158.7 872h0M151.7 869.8h0M151.3 856.6h0M153.6 774.1h0M151.1 766.6h0M153.4 800h0M161.8 786.8h0M156.6 849.2h0M153.3 828.6h0M152.4 582.1h0M161.9 878.6h0M154.8 762.4h0M162.3 568.1h0M155.8 706.1h0M155.9 875.2h0M161.1 701.9h0M159 790.3h0M156.7 598.8h0M154.5 880.2h0M160.9 724.8h0M154.3 534.6h0M161.5 788.4h0M154.6 799.8h0M161.9 910.4h0M158.6 917.7h0M157.4 968.1h0M162.2 912.6h0M174.9 957.5h0M163.1 956.9h0M165.8 786.3h0M168.9 803.7h0M174.5 896.8h0M172.9 927.2h0M173.8 861.6h0M172.9 875.9h0M172.1 858.5h0M171.8 809.5h0M172.5 870.5h0M166.6 868.2h0M164.8 859.9h0M164.8 943.6h0M175 913.9h0M170.6 924.6h0M167 851.5h0M175.2 922.7h0M169.5 823h0M163.8 771.6h0M175.6 807.3h0M170.3 936.1h0M173.4 839.3h0M166.4 948h0M171.3 950.6h0M175.4 947.7h0M168.4 929.9h0M168.2 855.8h0M173.9 915.9h0M167.1 946.8h0M171.6 881.7h0M165.4 955.2h0M173 801.4h0M163.4 885.1h0M172.4 878.2h0M162.8 787.7h0M175.5 808.9h0M168.1 845.2h0M169.6 933.1h0M172.5 780.7h0M163.7 817.1h0M175.2 944.9h0M168.7 816.5h0M171.1 813.5h0M170 935h0M163.6 750h0M170.6 849.9h0M165.2 908.3h0M174.5 744h0M165.2 921.3h0M168.7 839.4h0M172.7 835.1h0M172.1 864.5h0M173.5 867.8h0M168.9 872.3h0M171 819h0M173.6 763.9h0M171.7 743.9h0M171.2 877.6h0M168.1 737.6h0M170.1 722.6h0M172.6 757.1h0M167.7 875.2h0M168.9 800.3h0M172.8 595.2h0M169.4 875.4h0M167.1 658.4h0M173.8 787.8h0M167.7 832.2h0M174 833.9h0M173.2 863.9h0M172.2 830.1h0M163 663.6h0M167.8 655.5h0M174.2 686.1h0M170.4 738.2h0M171.6 809h0M171.7 731.6h0M170.5 841.9h0M168.3 892.8h0M165 626.2h0M166.5 769.4h0M166.5 823.9h0M168.4 838.8h0M176.1 612.4h0M167.3 807.5h0M168.6 558.1h0M167.6 595.7h0M170.4 549.3h0M175.4 649.9h0M174.6 602.6h0M166.2 823.6h0M174.5 744.5h0M169.2 840.4h0M171.8 733.9h0M174.3 882.1h0M169.3 635.3h0M165.2 640h0M168.3 663.4h0M173.8 757.8h0M173.8 814.8h0M169 838.1h0M173 835.7h0M168.8 813.6h0M167.6 813h0M169.9 882.5h0M165.3 837.8h0M166.8 870.8h0M172.1 758h0M173 734.2h0M163.3 878.3h0M173.6 961.4h0M171.3 919.6h0M192.1 881.8h0M187.3 942.2h0M178.8 882.4h0M186.9 913.4h0M188.6 944.4h0M184.6 957.4h0M193.3 830.5h0M183.9 966.4h0M191.4 872.7h0M190.7 832.9h0M181.2 812h0M195.9 893.1h0M184.4 880.7h0M191.6 957.1h0M179.6 829.5h0M188.8 866.3h0M190.4 959.5h0M186.4 830.2h0M193.5 910h0M185.4 928.3h0M185.4 964.7h0M181.8 932h0M194.4 910.5h0M190 943.4h0M184.3 942.1h0M195 911.7h0M176.7 898.1h0M195.9 900.1h0M188.2 771.3h0M186 917.8h0M187 913.7h0M183.4 910.8h0M188.1 960.8h0M192.5 883h0M182.6 785.1h0M187.5 929.1h0M176.2 933.5h0M183.5 811.3h0M195.2 953h0M178.5 854.4h0M193.4 824.2h0M189.1 829.2h0M191.6 863h0M181.9 818.7h0M193.9 871h0M177.7 966.6h0M178.5 823.4h0M191 756.4h0M182 802.8h0M187 786h0M190.9 736.8h0M193.2 944h0M177.3 836.6h0M187.9 876.5h0M195.7 916.3h0M185.3 780.2h0M191.4 918.2h0M193.5 917.3h0M193.8 880.7h0M191.8 845.8h0M193.4 910.2h0M177.2 760.3h0M190.4 855.2h0M188.6 931.7h0M194.7 943.3h0M176.3 888.8h0M179.9 926.8h0M183.3 819.1h0M192.4 849.5h0M187.1 820.5h0M186.3 901.1h0M189.2 789.3h0M181.9 945.4h0M177.8 970.2h0M185.3 820.3h0M193.6 922.3h0M177.2 968.4h0M184.9 796.8h0M187.7 792.2h0M195.1 883.1h0M184.2 912.9h0M193.8 923h0M190.2 822.6h0M192.3 933.7h0M185.8 874.6h0M195.3 882.1h0M181.7 907.5h0M178.6 770.5h0M192.6 956.5h0M182 841.8h0M188.2 814.4h0M186.2 921.2h0M177.8 870.3h0M191.8 933.9h0M177.4 894h0M195.3 899.1h0M193.6 950h0M178.6 859.1h0M193.7 873.4h0M185.7 966h0M178.6 860.2h0M181 931h0M184.2 790.7h0M188.9 894.1h0M194.3 956.4h0M177.8 945h0M186.3 903.8h0M194.3 922.4h0M184 870.4h0M181.3 770.7h0M182.5 895.1h0M194.6 801.8h0M177.8 970.1h0M177.8 821.1h0M190.3 897.5h0M181.9 786.4h0M193.9 954.7h0M194.8 833.5h0M181.2 821.1h0M183.8 846.2h0M195.3 921.8h0M191.3 812.7h0M190.1 922.9h0M194.4 748.3h0M195.4 880.3h0M190.4 905.3h0M193.3 792.4h0M192.9 872.8h0M178.1 934h0M190.6 964.9h0M178.8 969.5h0M183.8 907.5h0M195.9 789.5h0M187.3 898.4h0M186.5 866.7h0M195 950.5h0M181.8 935.6h0M196 848.6h0M194.3 848.9h0M183.3 875.9h0M182.6 903.4h0M178.6 946.4h0M194.3 930h0M179.8 899.6h0M193.8 831.6h0M188 738.4h0M189.5 905.1h0M190.7 903.8h0M176.9 821.7h0M177.9 922.1h0M186.1 953.1h0M177.1 870.7h0M186.1 949.5h0M190.8 819.5h0M189.2 893.6h0M188.4 936.6h0M177 825.2h0M180.8 836.3h0M178.5 931.8h0M177.1 805.8h0M194.8 764.8h0M179.5 663h0M184.3 717h0M187 865.2h0M190.4 886.6h0M194.8 626.4h0M190.8 782.1h0M183 715.1h0M177.6 854.3h0M190.2 585.3h0M195.5 532.1h0M176.4 584.6h0M191.5 733.2h0M179.6 609.1h0M185.3 566.2h0M186.5 879h0M188.3 555.4h0M195.8 808.6h0M189.8 654.7h0M183.9 584.5h0M190.3 790.2h0M185.4 795.8h0M184.3 713h0M183.4 731.7h0M185.9 809.6h0M181.7 896.5h0M180.9 760.9h0M179.1 772.7h0M184.9 887h0M181.9 897h0M192.8 753h0M193 790.5h0M182.9 605.7h0M188.4 847.5h0M194.1 667.1h0M183.3 581.9h0M187.2 746.7h0M184.9 683.1h0M189.1 687.7h0M195.2 819.5h0M195.3 644.5h0M189.4 726.4h0M192 692.7h0M188.8 707h0M193.4 886h0M182.6 782.7h0M190.2 729.5h0M181.4 884.1h0M186.2 628.8h0M189.7 734.6h0M180.1 627h0M177.3 647.3h0M191.9 843.5h0M192.2 666.1h0M189.4 804.5h0M182.5 660h0M189.2 659.6h0M189.3 897.9h0M187.6 771.4h0M188.4 630h0M185 866.9h0M180.6 623.3h0M190.6 900.2h0M185.3 879.9h0M191 750.8h0M183.4 620.5h0M177.8 813.2h0M186.9 839.5h0M188.5 861.8h0M194.5 882.8h0M193.8 662.9h0M177.2 628.6h0M191.5 797.4h0M181.3 780.7h0M190 683.1h0M183.7 808.6h0M182.5 799.7h0M185.8 791.9h0M189.9 970.1h0M188.2 915.8h0M185.3 913.7h0M187.3 955.2h0M186 944.6h0M183.8 970.2h0M193.9 943.5h0M183.2 952.8h0M204.3 915.8h0M206.1 919.4h0M221.2 950.3h0M200.9 817.3h0M207 851.1h0M213 957.2h0M215.9 868.2h0M217.4 947.7h0M208.8 956.3h0M205.3 932.2h0M219.1 956.8h0M201.8 910.7h0M211.2 967.9h0M221.1 965.3h0M216.4 893.5h0M212.8 918.8h0M211.9 886.5h0M215.6 927.1h0M214.2 877.5h0M207.8 964.9h0M202.5 966h0M204.8 886.6h0M217.6 945h0M214.3 906.7h0M217.9 903.3h0M201.4 955.2h0M208.8 899.2h0M220.8 890h0M218.4 954.6h0M214.1 956.5h0M215.2 967.9h0M213.7 925.6h0M208.2 940.9h0M202.1 954.7h0M203.3 953.1h0M211 962.8h0M206.2 949.8h0M217.2 829.3h0M203.1 882.8h0M200.7 910h0M222.3 896.7h0M207.3 951.9h0M211.6 948.8h0M205 859.6h0M205 939.6h0M209.3 912.2h0M217.8 861.9h0M201.3 915.8h0M218.8 941h0M222.2 953.8h0M212.7 960.9h0M208.3 966.2h0M205.6 856.9h0M207.5 950.9h0M219.1 964.7h0M200.5 943.1h0M217.7 866h0M215.1 902.3h0M200.8 826h0M201.9 870.7h0M216.6 897.8h0M215.2 916.3h0M207.3 944.9h0M205 888h0M202.9 912.3h0M202.3 891.5h0M204.4 914.1h0M217.2 952.3h0M211.4 953.7h0M215 937.2h0M216.5 942.7h0M215.8 867.1h0M203 939.1h0M206.3 971.3h0M210.3 907.4h0M202.7 883.6h0M214.7 844.3h0M216.7 956.8h0M208.6 873.4h0M209 924.5h0M211.9 936.5h0M201.3 938.3h0M220.4 941.5h0M222.2 892.1h0M208 927.1h0M216.4 960.1h0M214.7 942.6h0M214.1 910.5h0M219.7 961.7h0M200.9 954.2h0M219 932.8h0M217.5 953.7h0M201.4 883.5h0M215.6 932.4h0M203.2 967.2h0M211.9 906.4h0M207.8 859.9h0M211.5 898.6h0M221.8 930.3h0M214.4 958.1h0M211.4 886.7h0M201.9 941.3h0M203.1 925.6h0M219.1 953.8h0M216.7 903.6h0M218.8 830.9h0M213.1 907.7h0M213.1 833.8h0M212.1 901.5h0M216.6 943.5h0M211.3 946.2h0M210.7 917.5h0M205.2 874.4h0M201 957.1h0M202.4 939.7h0M219.2 914.8h0M216.2 887.1h0M216.9 936.9h0M210.2 964.7h0M210.6 920.3h0M211.6 866.9h0M214.3 953.9h0M208.6 881.5h0M214.2 915.9h0M211.1 935.6h0M208 910.8h0M206.1 827h0M213.1 926.2h0M206.1 933.4h0M217 895.8h0M208.7 889.1h0M216.2 844.9h0M216.6 870.5h0M207.9 845.1h0M218.9 924.7h0M222.1 905.4h0M220.1 968.7h0M218.7 898.2h0M212.4 942h0M216.5 816.1h0M203.2 930.3h0M218 848.6h0M203.5 858.1h0M205.7 886.5h0M217.2 955.7h0M203.7 898.8h0M222.3 917.2h0M216.9 931.3h0M208.4 957.9h0M202.5 927.3h0M202.3 964.7h0M214.2 964.1h0M217.4 850.2h0M220.3 895.9h0M221 935.3h0M206.9 887.4h0M221.1 937.9h0M220.6 850h0M203.8 918.1h0M215.9 938.5h0M215.8 932.8h0M212.2 870.6h0M211.5 921.8h0M208.5 910.7h0M219.4 948.9h0M203.9 941.1h0M217.4 947.1h0M206.5 937.2h0M204.7 914.3h0M213 949.7h0M206.6 938.5h0M205.7 937h0M202.6 965.4h0M217.4 856.7h0M200.9 917.4h0M211 873.6h0M213.7 873h0M201.5 847.4h0M206.9 929.1h0M220.3 910.4h0M219.1 932.8h0M204.1 925.9h0M217.2 965.9h0M210.3 893.4h0M204.2 934.1h0M211 941.8h0M220.7 814h0M219.7 963.7h0M201.8 858.2h0M220.2 940.8h0M222.1 869.2h0M211.6 873.1h0M212.4 916.1h0M215.7 894.8h0M211 926.5h0M205.9 933.9h0M201.5 963.2h0M221.3 949.1h0M200.6 921h0M217.7 916h0M209.3 952.7h0M213.5 967.5h0M216 944.3h0M216.5 938h0M211.2 924.4h0M221.7 704.9h0M219.4 711.1h0M213 600.1h0M215.4 866.1h0M206.5 700.1h0M221.1 713.7h0M214.6 863.3h0M220.1 691.9h0M206.8 926.1h0M222 676.8h0M202.7 750.3h0M212.1 777.7h0M202.8 822.5h0M204.6 844.7h0M217.2 879.4h0M201.9 880.9h0M208.8 720h0M204.6 820.7h0M219.1 563.2h0M202.2 906.1h0M207.8 721.1h0M219.2 909.4h0M215.5 876.5h0M222.2 863.3h0M200.9 659.7h0M215 778.2h0M216.8 861.7h0M216.1 884.9h0M202 731.7h0M202.3 717.7h0M217.4 854.2h0M213.9 787.1h0M206.2 549.3h0M200.6 781.9h0M212.1 801.4h0M202.4 864.7h0M216.8 713.4h0M207.9 924.3h0M218.1 873h0M211.3 802.4h0M202.6 814.7h0M217.6 836h0M212.7 646.8h0M205.6 617h0M221.6 872.4h0M215.4 714.5h0M207.8 631.6h0M219.2 818.8h0M208.8 757.5h0M221.1 877.7h0M206.9 915.2h0M222 910.4h0M201.8 928.1h0M216.5 694h0M206.8 902.4h0M209.7 896.1h0M214.4 870.2h0M201.4 856.6h0M205.3 740.1h0M202.7 822.6h0M216.7 917.4h0M205.3 809.3h0M211.4 903.5h0M207.6 799.9h0M221 648.8h0M211.6 833.7h0M214.7 917.1h0M218.4 860.5h0M206.2 910.1h0M202.1 864.6h0M210.7 864h0M204.2 631.6h0M200.9 924.4h0M214.2 742.8h0M204.2 938.6h0M207 952.5h0M214.7 946.2h0M217.5 948.8h0M214.9 954.1h0M289.6 845.2h0M283 925.4h0M245.6 922.5h0M255.9 898.3h0M264 944h0M239.6 957.5h0M255.5 823.6h0M246.8 956.3h0M235.2 848.6h0M289.8 859.4h0M243.8 954.9h0M249.7 841.7h0M234.1 892.6h0M279.9 927.6h0M233.6 947.5h0M261.6 818.7h0M253.3 792.9h0M266.4 889.4h0M249.9 909.3h0M287.7 892.3h0M242.8 850.5h0M279.4 930.4h0M245.8 955.2h0M255.5 885.7h0M261.5 827.2h0M261.3 832h0M267.6 833.3h0M233.6 835.5h0M233.1 945h0M288.6 923.1h0M244.9 777.9h0M251.2 809.9h0M244.1 923.7h0M268.8 896.4h0M289.4 850.7h0M254 866.4h0M249.1 941.1h0M250.8 875.2h0M235 916h0M232.4 892.9h0M249.2 941.8h0M238.1 818.4h0M262.9 903.8h0M242.1 899.4h0M280.4 955.6h0M237.2 857.8h0M237.7 793.7h0M279.2 907.7h0M241.6 919.4h0M286.9 867.4h0M241.3 855.5h0M280.1 910h0M248.2 921.7h0M263.9 926.7h0M248.4 854h0M250.1 845.1h0M286.2 886.8h0M240.1 970.7h0M273.6 911.3h0M238 809.9h0M247.7 857.3h0M233.8 888.2h0M268.9 860h0M273.7 874.3h0M274.9 901.6h0M276.6 916.6h0M253.5 928h0M286.3 898.6h0M267 866.6h0M282 866.5h0M274.5 902.8h0M243.6 879.5h0M275.1 847.1h0M254.9 889.7h0M272.5 909.9h0M243.1 885.3h0M286.8 951.8h0M239.5 854.1h0M277.6 844.4h0M283.7 932h0M238.7 942.7h0M282.2 939h0M268.7 827.7h0M266.2 863.6h0M245 820.8h0M243.8 907.6h0M256.4 940.9h0M268.9 905.2h0M273.9 890h0M272.5 881.9h0M250.6 790.2h0M250 836.5h0M276 897.8h0M288.8 935.5h0M243 931.8h0M254.6 911.5h0M246.3 855.4h0M288.8 826.8h0M283.8 944.9h0M276.2 907h0M270.9 826.8h0M252 910.8h0M285.2 804.8h0M278.9 942.9h0M264.6 970.8h0M252.2 919h0M288.3 944.2h0M241.4 839.4h0M284.8 818.1h0M289.2 940.1h0M281.2 953.4h0M267.4 850.1h0M286 844.5h0M255.9 899.5h0M279.7 802.3h0M276.6 893.6h0M281.8 897.8h0M256.3 924.5h0M269.2 931.2h0M235.1 919h0M233.9 920.2h0M236 923.4h0M274.3 903.1h0M284.8 966.3h0M240 927.6h0M280.4 851.2h0M255 918.3h0M242.9 923h0M277 882.8h0M243.8 932.3h0M246.2 789.7h0M281.8 834.6h0M258.7 968.5h0M286.4 953.4h0M247.5 830.6h0M285.8 872.9h0M247.9 810.7h0M256.8 897.7h0M268 898.7h0M263.2 811h0M271.9 924.1h0M245.8 867.7h0M230 868.9h0M273.5 908.1h0M266 952.7h0M263.8 850.9h0M259.7 856.6h0M286 968.6h0M247.6 813.1h0M285 884.7h0M239.7 851h0M271.8 949.3h0M286.8 938.1h0M238.9 860h0M276.4 824.7h0M246.1 930.4h0M233.1 846.4h0M272 859.9h0M246.7 843.7h0M287.3 920.1h0M229.6 865.4h0M245.8 795.9h0M250.3 968.6h0M252.1 867.7h0M247.7 886.9h0M230.8 856.9h0M242.3 935h0M270.4 970.5h0M252.5 850h0M256.4 957.3h0M239.2 887.6h0M243.4 891.5h0M284.4 806.4h0M257.2 851.8h0M248.6 793.7h0M242.8 880.7h0M282.9 896.4h0M271.8 826.9h0M278.5 953.8h0M244.2 855.3h0M233.8 845.5h0M249.1 879.1h0M243.3 887.7h0M251 953.4h0M270.3 827.5h0M250.2 961.1h0M239.8 870.8h0M237.1 933.7h0M270.4 884h0M283.9 802.4h0M230.5 907.7h0M250.5 929.8h0M239.8 906h0M287.6 946.4h0M237.5 923.1h0M233.7 904.9h0M276.2 829.2h0M290.3 826.4h0M276.6 851.4h0M236.5 948.3h0M254.3 885.7h0M261.2 795.4h0M284.2 906.4h0M275.4 936.4h0M233.1 847.3h0M257.1 928.2h0M276.9 904h0M270.1 870.8h0M288.4 904.6h0M289.1 965.8h0M280.4 951.5h0M264.3 946.5h0M248.2 918.3h0M239.7 940.9h0M268.5 904.1h0M276.5 861.1h0M281.8 850.1h0M247 804.3h0M249.9 874.1h0M241.4 792.5h0M287.1 944.4h0M275.6 852.1h0M256.1 861.7h0M239.2 781.8h0M276.3 777.8h0M247.3 939.6h0M253.3 960.4h0M265 837.3h0M285.4 962.2h0M244.3 835.7h0M255 946.2h0M233.2 965h0M244.3 895.3h0M278.7 946.8h0M270.6 856.7h0M254.4 938.8h0M245.6 955.4h0M276.1 897.2h0M259.2 843.5h0M233.8 899.1h0M267.7 851h0M290 867.9h0M233.9 924.7h0M290.2 903.3h0M235.6 828.6h0M248.2 954.9h0M288.9 802.7h0M288.7 892.8h0M240.7 961.1h0M253.7 927.9h0M277.2 892.3h0M268.1 889.7h0M243.2 950.9h0M259.3 876.4h0M267.3 935.6h0M262.5 817.5h0M237.7 893.6h0M231.5 910.3h0M255.9 916.4h0M280.4 905.8h0M288.6 807.7h0M236.3 926.4h0M262.8 861.3h0M284.9 919.4h0M266 963.1h0M248.1 931.6h0M269.9 852.7h0M249.5 892h0M235.5 893.3h0M263.8 886.1h0M268.8 845.6h0M274.4 862.4h0M237.6 910.1h0M275.2 846.9h0M267.5 930.2h0M253.8 920.6h0M234.7 933h0M285.6 818.7h0M279.8 889h0M288.9 853.5h0M257.5 864.5h0M283.4 894.5h0M282.5 956.7h0M263 913.2h0M235.7 959.3h0M254.3 930.1h0M261.9 829.8h0M269.2 942.2h0M282.8 921h0M278.2 942.2h0M235.7 835.4h0M250.1 851h0M283.5 857.1h0M275.5 934.9h0M230.5 913.9h0M237.2 955.6h0M260.1 902.2h0M290 957.3h0M234.1 881.6h0M279.6 942.7h0M258.9 961.3h0M289.1 933.6h0M281.8 893.5h0M233.4 913.9h0M268.7 958.7h0M281.9 875.5h0M246.5 910.3h0M272.4 894.2h0M245 850.7h0M242 873.9h0M249.7 866.3h0M247.3 906.4h0M288.1 837.4h0M243.8 940h0M255.3 922.6h0M259.1 865.5h0M271.6 934.9h0M288.5 908.1h0M266.9 838.5h0M237.5 873.8h0M269.8 926.7h0M240 859h0M282.5 878.7h0M265.7 903.8h0M237.8 814.1h0M281.2 899.4h0M261.5 855h0M259.1 931.8h0M234.4 933.7h0M284.7 923.3h0M260.8 942h0M282.1 904h0M234.1 962.1h0M270.9 884.5h0M252.4 840.8h0M267.5 948.2h0M285.7 846.3h0M239.6 893.3h0M281.8 893.3h0M230.2 962.3h0M247.8 905.3h0M246.8 884.9h0M276.4 969.1h0M263.6 845.7h0M253.1 913.4h0M277.6 837.5h0M286.5 957.3h0M268.5 904.9h0M269.2 907.4h0M281.9 927.3h0M247.3 923.5h0M290.1 888.1h0M240.2 836.5h0M232.3 958h0M279.6 833.7h0M240.1 898.7h0M249.9 911.1h0M260.7 968.1h0M236.3 901.9h0M255.3 939.5h0M251 874.2h0M266.2 938.9h0M257 843.4h0M239.2 970.4h0M277.5 876.5h0M254.5 869.2h0M231.1 863.7h0M254.4 880.5h0M235.1 945.1h0M247.1 962.2h0M245 818.1h0M232.2 937.4h0M242.5 884.1h0M270.5 858.2h0M239.1 815.6h0M247.5 849.9h0M239.5 933.4h0M265.9 930.4h0M283 844.4h0M280.1 887.3h0M258.1 803.3h0M277.3 863.2h0M278.4 877h0M252.5 860.6h0M275 945.6h0M261.3 866.1h0M274.5 894.2h0M274.5 907.2h0M233.5 926.1h0M231.7 923.7h0M265.5 898.2h0M279.6 930.6h0M233 927.1h0M270.4 907.5h0M250.5 810h0M232 884.9h0M249.7 869.8h0M268.5 964.1h0M234.5 829.5h0M281.1 892.6h0M232.1 850.7h0M244 918h0M249.6 921.8h0M233.4 939.6h0M285.8 842.2h0M284.6 898.9h0M241.6 900.7h0M280.2 775.8h0M250.1 841.1h0M271.5 951.6h0M234.7 873.1h0M229.8 842.3h0M286.2 866.7h0M251 839.7h0M277.9 884.5h0M255.4 919.9h0M235.1 901.5h0M258.4 928.2h0M239.9 891.4h0M234.4 934h0M230.6 829h0M253.9 831.2h0M245.2 754.3h0M249.9 949h0M288 937h0M280 842.3h0M244.4 915.5h0M272 907h0M261.6 905.5h0M242.1 925.9h0M255 920.8h0M246.3 831.5h0M283.4 927.1h0M257.8 963h0M270.7 883.9h0M284.1 897.3h0M267.3 952.2h0M248.9 934.2h0M285.7 918.7h0M243 849.9h0M267.1 902.7h0M281.5 916.8h0M279.4 835.7h0M274 862.6h0M272.2 959.4h0M233.2 969.3h0M268.2 823h0M233.9 929h0M278.1 884.5h0M237.5 875.6h0M231 866.4h0M290.3 850.9h0M239.7 947.7h0M264.9 849h0M233.2 880.2h0M230.5 803.8h0M280.9 843.2h0M230 877.3h0M231.7 948.4h0M233.2 812.6h0M275.4 913.7h0M261.7 919.5h0M284.1 942.3h0M268 952.8h0M265.7 929.4h0M241.8 845.4h0M243.1 966.8h0M289.1 915.3h0M287.5 917.5h0M256.1 907.3h0M277.9 957.5h0M273.3 887.3h0M246.4 919.6h0M241.7 921.5h0M275.1 901h0M288.1 842.3h0M251.2 897.2h0M233.5 949.4h0M289.6 835.1h0M281.1 896.4h0M244.5 787.6h0M287.9 869.7h0M259.3 883h0M266 888.2h0M276.1 931.8h0M233.9 882.1h0M234.8 908.1h0M282.9 890.4h0M284.8 943.5h0M272.8 901.2h0M265.9 909.8h0M232.5 917.2h0M269.7 873.5h0M280.8 822h0M243.9 876.7h0M267.2 887.8h0M271.1 944.5h0M275.5 807.9h0M284.4 931.4h0M267.7 947.2h0M239.8 891.3h0M285.4 916h0M243.5 854.4h0M281.5 856.1h0M249.9 893.3h0M278.4 933.1h0M268.9 858.6h0M236.7 890.8h0M243.6 890.9h0M278.8 951.8h0M278.9 853.6h0M234 901.4h0M261.2 947.2h0M272.9 887.1h0M249.3 894.6h0M233.3 865.8h0M254.9 913h0M273.9 812h0M242.5 894.7h0M280.9 805.8h0M247.2 926.1h0M245.8 787.4h0M254.1 909.8h0M246.9 881.8h0M282.7 960.1h0M275.8 905.2h0M259.5 923.5h0M288.1 902.4h0M270.5 902.5h0M287.4 876.4h0M279.7 924.5h0M268.1 853.6h0M276.7 946.2h0M275.6 919.9h0M282.7 899.7h0M244.5 946h0M285.6 865.1h0M284.5 845.8h0M256.4 874.3h0M253.9 970.8h0M288.9 884.6h0M270.4 908.4h0M288.2 926.3h0M268 754.1h0M260.8 953.3h0M275.1 825h0M283.5 890.3h0M280.9 842.1h0M250.6 903.5h0M260.3 956.1h0M287 795.3h0M260.3 848.6h0M278.3 836h0M261.4 808.9h0M280.2 892.8h0M233.6 919.4h0M235 871.7h0M251.9 894.8h0M287.9 968.2h0M290.2 897.7h0M237.7 925.5h0M280.3 935.3h0M280.7 901.5h0M252 854.8h0M276.5 966.6h0M229.8 791.3h0M258 876h0M249.7 948.3h0M244.8 858.7h0M247.8 906h0M255 915.7h0M259.7 907.1h0M261.5 930.2h0M279.8 971.1h0M288 899.1h0M245.1 924.5h0M264.7 875.6h0M256.2 810.2h0M243.8 948h0M249.7 880.8h0M243.4 878.8h0M262.3 949.6h0M233.5 842.4h0M262.6 885.4h0M229.9 868.4h0M246.3 873.6h0M288.6 942.5h0M264.8 863.5h0M233.4 759.7h0M264.7 878.4h0M272.3 857.1h0M237.7 869h0M254 941h0M262.5 954.5h0M279.6 826.2h0M244.1 878.6h0M238 831.6h0M266.9 836.6h0M233.7 896.4h0M261.5 933.1h0M278.8 891.4h0M270.3 962.7h0M230.2 913.3h0M255.8 782.5h0M244.3 839.4h0M260.9 965h0M238.7 884.7h0M237.7 878.8h0M283.1 877.6h0M235.4 898.8h0M279.9 921h0M250.1 872.9h0M290 919.1h0M286.8 948.8h0M272.2 827.8h0M252.8 943.7h0M281.2 940h0M248.7 796.5h0M242.1 966.3h0M238.3 839.9h0M263.4 811.8h0M284.4 819h0M238.4 873.3h0M278.5 921.4h0M275 881.2h0M236.5 798.8h0M234.8 957.3h0M275.7 870.2h0M256.8 907.2h0M270.8 835.8h0M235.5 955.8h0M277.8 838.7h0M266.8 954.9h0M241.1 921h0M272 789.2h0M250.8 931.7h0M261.4 903.2h0M263.4 918.3h0M254.9 894.3h0M277.4 914.4h0M282.1 941.5h0M281.2 833.2h0M264.1 947.2h0M282.6 966h0M238 886.8h0M289.4 850h0M232.2 958.3h0M284.2 945.4h0M253.2 921.2h0M277.6 800.8h0M287.8 894.8h0M269 883.6h0M229.8 954.5h0M233.2 858.2h0M270.1 901.2h0M231.1 920.6h0M254 899.8h0M282.3 875.9h0M248.1 914h0M288.5 926.3h0M258.2 949h0M240.6 930.1h0M265.7 865.2h0M286.9 948.2h0M286.8 947.3h0M263.3 834h0M242.4 922.1h0M260 821.9h0M247.3 873.8h0M248.6 922.5h0M248.8 935.9h0M241.8 794.4h0M275.2 969.5h0M230.3 807.9h0M264.4 966.7h0M251.8 960.4h0M269.1 919.2h0M264.8 919.4h0M258.7 895.3h0M276.8 789.6h0M264.3 958.3h0M284.2 915.4h0M265.1 884.4h0M282.8 942.4h0M282.1 964.7h0M272.5 840.1h0M249.5 912.9h0M259.1 787.2h0M234.3 893.8h0M273.6 805.1h0M234.6 874.7h0M237.3 910.6h0M268.8 957.1h0M274.1 949.5h0M234 961.5h0M231.4 951.8h0M249.3 935.9h0M250.2 910.2h0M232.7 943.2h0M238.5 953.1h0M231.1 956.6h0M252 899h0M266.3 865.1h0M258 817.8h0M240.9 827.9h0M232.4 837.3h0M240.8 912.8h0M287.2 927.9h0M264.2 894.7h0M266.8 877.3h0M274.9 902.7h0M279.5 841.7h0M244.2 885.1h0M278.3 885.4h0M269 926.2h0M246.4 946.6h0M247 945.6h0M239.9 829.9h0M262.8 880.8h0M288.5 882.2h0M277.6 838.2h0M239.6 844h0M236.8 929.9h0M246.6 881.7h0M239.5 881.8h0M238.2 913h0M248.6 822.5h0M263.9 890.2h0M248.7 962.9h0M289.4 798.4h0M265.5 821.5h0M238 964.3h0M276.8 877.6h0M247.1 920.1h0M257.2 855h0M247 851.7h0M259.3 889.2h0M248.2 955.7h0M249 867.8h0M239.1 888.1h0M287.9 967.9h0M246.7 889.9h0M254.5 877.5h0M236.7 905.2h0M243.4 893.1h0M254.3 865h0M265 907.6h0M262.1 923.2h0M251.9 839.7h0M270.7 901.4h0M274.9 848.5h0M245.6 943.9h0M244.1 924.6h0M267.6 956.9h0M280 962h0M230.1 919.4h0M262.5 876h0M250.7 907.1h0M242.4 892.8h0M282.3 719.6h0M242.7 543.6h0M277.5 802.1h0M281.5 811.5h0M288.4 908.4h0M236.6 697h0M239 813.5h0M234.6 841h0M249 777.7h0M268.7 778.4h0M238.9 833.4h0M235.9 626.6h0M275.1 666h0M267.4 702.9h0M229.6 842.6h0M265.2 791.7h0M241.1 784.6h0M247.4 853.1h0M235.6 594.2h0M289.8 634.1h0M257.3 770.7h0M267 840.6h0M241.9 798.6h0M252.3 763.3h0M268.9 716.7h0M275 847.4h0M284.7 782.4h0M244.6 871.5h0M244.1 624.9h0M254 689.9h0M248.3 760.6h0M279.4 888.2h0M252.1 758.8h0M252.2 805.4h0M260.1 753h0M263.8 742.8h0M251 840.2h0M230 734.2h0M274.3 884.5h0M236.5 645.8h0M281.5 589.5h0M244.5 879.5h0M245.1 660.3h0M262.1 832.6h0M284.7 788.2h0M252.7 577.8h0M258.7 849h0M254.7 656h0M236.3 640.7h0M247 752.3h0M285.3 866.9h0M286.7 886.5h0M245 909.3h0M285.5 847.8h0M230.5 609.2h0M273.2 573.5h0M231.1 902.9h0M255.4 780.5h0M254.6 698.7h0M256 833.9h0M286.8 827.7h0M250.9 838.5h0M230.6 789.3h0M236.2 726.2h0M275.1 838.5h0M237.3 901.9h0M233.1 652.4h0M241.4 855.3h0M289 755h0M256.6 809.8h0M238.5 707h0M269.6 533.5h0M252.5 573.9h0M263.1 658.2h0M290.1 822.6h0M272.1 907.5h0M262.1 896.5h0M290.3 898.7h0M260.3 779.2h0M257.1 824.9h0M281.3 680.9h0M287.8 684.5h0M254 878.8h0M230 645.5h0M244.1 822.9h0M276.8 759.9h0M259.3 910.5h0M281.6 753.6h0M270.3 691h0M264 747.2h0M278.5 772.5h0M259.8 864.9h0M270.1 709.9h0M259.3 657.8h0M251 848.4h0M276.1 647h0M233.8 838.8h0M289 587.5h0M288 786.1h0M280 869h0M256.9 721.6h0M254 746.5h0M257.5 807h0M243 901.8h0M278.1 894.6h0M283.1 635.2h0M260 740.5h0M281.4 813.5h0M247.2 620.9h0M281.8 822.2h0M288.7 827.5h0M270.3 834.1h0M288.1 715.5h0M273.7 845.5h0M271.7 721.8h0M258.3 879.1h0M233.1 797h0M237.1 814.7h0M279.9 846.6h0M240.5 627h0M271.3 731.5h0M239.2 879.8h0M275.5 731.9h0M287.7 544.5h0M267.1 609.7h0M274.4 751.3h0M258.5 721.2h0M282.2 807.9h0M238.6 904.7h0M246.6 887h0M285.5 772.4h0M280.5 855.9h0M284.8 838.8h0M261.2 885.4h0M286.3 840.8h0M269.7 663.6h0M234.8 838.8h0M238.9 884.8h0M229.7 800.4h0M236.3 822.7h0M231.1 706.3h0M252.9 862.1h0M267 724.9h0M281.9 806.6h0M254.4 552.9h0M239.3 578.9h0M284.8 766.1h0M285.3 781.9h0M289 561.9h0M230.9 755.9h0M265.5 827.3h0M267.9 768.3h0M262 777.2h0M240.9 614.8h0M285.5 691.7h0M262.2 648.8h0M231.8 708.6h0M250.6 750.9h0M273.8 668.1h0M241.8 701.3h0M276.8 737.7h0M242.3 875.3h0M255.8 849h0M247.3 753.9h0M237.3 781.4h0M283.3 676.2h0M250.2 819.1h0M275.2 904.5h0M283.7 740.9h0M246.7 861h0M229.8 581.2h0M261.5 803.8h0M243.8 904.3h0M282.7 666.4h0M239.5 791.1h0M273.4 754.7h0M231.1 709.6h0M246 840.7h0M241.5 819.7h0M281.4 881.2h0M266 906h0M269.7 682.1h0M234.5 756.2h0M248.3 652.4h0M283.8 905.5h0M266.8 895.5h0M275.6 783.8h0M260 866h0M242 789h0M285.1 823h0M245.6 582.5h0M239.8 901.4h0M269 797.3h0M234.7 831.1h0M276 718.8h0M272.8 826.1h0M252.8 727.2h0M260.9 711.1h0M259.1 789.4h0M234 820.2h0M234.3 836.2h0M250.9 700.8h0M229.9 899.7h0M240.8 596.8h0M251.7 817.1h0M267.7 812.5h0M260.9 811.9h0M240.1 885.3h0M275.7 871.7h0M277.9 765.8h0M269.8 883.6h0M271.4 820.6h0M244.9 779.1h0M280.5 891.1h0M265.1 849.7h0M240.3 859.3h0M271.2 827.1h0M267.7 848.4h0M264.1 717.4h0M258.2 763.6h0M276.2 833.4h0M273.9 669.1h0M265.4 892.5h0M233.6 879.8h0M243.6 718.2h0M289.1 833h0M254 864.5h0M268 785.7h0M237.5 815.7h0M264.3 873.5h0M266.6 607.9h0M275.9 648.7h0M288.5 805h0M257.3 870.6h0M248.5 726.3h0M239.2 818h0M249.8 908.9h0M256.5 879.4h0M288.2 808.1h0M260.6 900.1h0M270.6 868.8h0M274.1 862.2h0M230.3 660.1h0M243.7 853.8h0M280.8 954.2h0M244.6 956.7h0M259.8 930.3h0M237.1 925.6h0M271.6 919h0M248.2 968.9h0M276.5 965.7h0M253.1 933.2h0M250.7 969.4h0M262.3 941.4h0M269.1 955.8h0M240.8 947.7h0M235 963.7h0M260.1 943.6h0M233.5 940.4h0M235 924.2h0M255.3 925.5h0M269.7 913.8h0M274.4 952.1h0M286.1 960.5h0M243.6 938.4h0M230.2 936.3h0M272.5 933.1h0M259 918.5h0M236.8 941.7h0M233.6 968.8h0M254.2 941.1h0M270.5 957h0M250 962.9h0M253.8 924.2h0M256.9 913.8h0M285.6 931.1h0M239.5 927.4h0M274 967.9h0M263.4 915h0M251 940.2h0M266.5 951.2h0M265.6 948.6h0M280.8 938.3h0M256.2 918h0M242.6 921.6h0M242.2 937h0M255.1 919.4h0M242.6 951.1h0M265.3 944.1h0M244.4 965.1h0M259 936.7h0M261.5 954.4h0M264.3 917.9h0M285.9 920.3h0M245.5 970.4h0M263.9 952.4h0M269.5 969.3h0M275.6 913h0M281.1 940h0M275.8 964.4h0M273.2 936.8h0M269.6 915.7h0M245.1 927h0M237.2 969.9h0M276.5 948.1h0M297 844.6h0M297.4 905.4h0M297.6 923.8h0M297.6 873.1h0M296.6 921.7h0M296.5 878.8h0M297.3 832.1h0M297.4 911.4h0M296.8 896.4h0M315.9 882.6h0M316.9 847.8h0M321.1 930.7h0M322 909.3h0M308.3 847.5h0M308.8 795.5h0M323.3 930.7h0M299.8 915.6h0M301.9 915.5h0M311.3 783.2h0M314.9 932.1h0M324.9 953.5h0M308.3 951.1h0M307.2 921.9h0M316.8 839.3h0M317.6 851.7h0M301.1 935.6h0M300.4 881h0M324.3 909.4h0M321.1 868.8h0M305 833.7h0M319.5 897.1h0M308 754.8h0M299.6 904h0M301.3 829.3h0M315 910.4h0M315.3 886.6h0M320.9 865.6h0M318.6 854.5h0M306.4 843.9h0M321.6 966.6h0M311.7 917.5h0M307.9 938.2h0M318.8 933.5h0M318.7 924.9h0M305.1 932.9h0M316.4 851.5h0M301.4 887.1h0M324.6 853.8h0M301 926.2h0M312.2 971.2h0M317 969.5h0M321.1 919.3h0M303.8 951.7h0M309.3 929.1h0M312.3 809.5h0M312.5 818.5h0M311.8 934.2h0M312 775.5h0M298.1 833.5h0M306.8 958.4h0M309.5 951.3h0M307.9 794.4h0M317.7 970.9h0M303.8 894.5h0M317 970.9h0M318.9 848.9h0M321.1 955.3h0M314.3 847.2h0M316.6 931.9h0M312.3 830.6h0M304.3 740h0M310.8 924.8h0M301.9 904.9h0M318 844.7h0M323.8 899h0M301.7 850.3h0M305.3 851.8h0M301 851h0M324.4 817.5h0M312.7 856.4h0M315.9 687.3h0M322.8 931.2h0M307.4 960.2h0M306.6 780.6h0M323.7 783.9h0M318 932.7h0M300.1 934.5h0M313.8 888.6h0M314 870.4h0M306 893.6h0M306.8 876.5h0M302.2 879.3h0M305.6 902.1h0M322.6 899.4h0M316.9 940.2h0M317.3 890.1h0M309.9 866.6h0M316.5 795.5h0M321 949.5h0M320.4 882.4h0M325 867.7h0M313.8 901.7h0M314 914.6h0M306.1 908.4h0M323.9 854.1h0M303.5 770h0M314.9 925h0M308.3 924.4h0M302.9 969h0M316.1 878.5h0M322.1 922.1h0M324.5 941.2h0M324.4 968.4h0M316.9 849.5h0M300.1 895.7h0M306.1 916.1h0M299.5 862.7h0M298.9 969.5h0M298.9 873.1h0M320.2 866.6h0M304.5 958.8h0M323.3 913.6h0M314.4 860.6h0M299.5 848h0M321.1 954.3h0M300.8 844.2h0M312.2 913.2h0M310.2 921.4h0M309.3 839.6h0M298.3 960.5h0M317.1 889.5h0M301.5 899.1h0M311.7 924.4h0M302.7 920.3h0M305.6 950.8h0M324.2 912.1h0M320.1 924.2h0M308.8 832.2h0M300.1 884.4h0M319 933.6h0M299 770.6h0M304.9 814.1h0M308.3 873.7h0M308.2 885.3h0M308.6 877.9h0M298.1 922.3h0M318.2 936.4h0M315.2 929.6h0M298.9 970.8h0M317.6 968.6h0M311.7 958.7h0M323.5 798.4h0M306.2 812.7h0M300 921.5h0M324 881.3h0M300.4 913h0M319.1 810.9h0M307.2 943.3h0M318.5 888.2h0M312.1 806.4h0M301.4 767.1h0M310.2 869.6h0M307.6 750.6h0M299.8 826.6h0M308 928.2h0M313.7 925.8h0M302.4 828.8h0M311.5 888.1h0M316.9 938.6h0M310.7 896.9h0M308.4 943.2h0M310.6 859.3h0M310.4 913h0M324.5 869.9h0M321.8 921.9h0M311.7 905.6h0M307.6 922.4h0M323.9 935.7h0M319.1 843.6h0M301.3 770.7h0M302.7 932.9h0M321.6 797.6h0M319.6 923.6h0M308.7 854.6h0M319.9 942.6h0M302.8 815.6h0M301.7 857.8h0M299.1 893.9h0M303.1 937h0M315.2 946.6h0M322.3 968.1h0M307.6 775.8h0M310.7 945.1h0M298.4 960.2h0M308.3 817.4h0M307.5 850.7h0M320.5 878.9h0M318.4 908.1h0M312.1 942.3h0M324 875.3h0M308.1 878.8h0M310.7 957.1h0M323.1 915.5h0M321.8 781.9h0M302.8 915.6h0M323.5 901.3h0M320.2 956.3h0M319.7 904.1h0M323.7 844.2h0M318 885.6h0M317.9 899.4h0M321.7 855.6h0M319.1 926h0M303.5 962.7h0M301.1 794.2h0M310.5 903.8h0M299.6 860.5h0M323 819.9h0M324.5 811.9h0M316.4 785.5h0M321.3 967.8h0M306.6 859.9h0M298 828.3h0M303.4 897h0M317.4 971.2h0M310.6 878h0M310.6 918.3h0M321.9 904.1h0M317.2 887.2h0M299.1 822.8h0M322.6 809.9h0M319.9 908.7h0M314.1 933.6h0M305 895.7h0M309.7 875.8h0M318.3 938.8h0M319.2 733.6h0M319.5 858.9h0M307.9 756.7h0M316.9 892.5h0M312.1 873h0M316 902.7h0M316.8 842.8h0M304.2 867.8h0M322.2 912.5h0M311.6 937.9h0M315.8 837.1h0M300.3 891.8h0M310.3 954.3h0M313.8 919.5h0M316.9 902h0M300.4 963.2h0M324 918.3h0M319.9 900.8h0M319.7 878h0M308.2 847h0M306.9 848.9h0M302.2 916.4h0M313.9 819.6h0M311.7 788.8h0M300.6 964.5h0M306.5 903.5h0M315.3 776.4h0M322.6 831h0M319.3 909.7h0M309.5 893.7h0M304.7 918.5h0M309.1 833.5h0M311.5 880.6h0M300.9 885.6h0M305.7 859.7h0M322.7 836.5h0M316.1 852.4h0M304.3 776.3h0M301.6 751.9h0M315.5 941h0M311.8 917.7h0M314.3 928.3h0M314.6 891h0M318.7 835.2h0M306.3 810.9h0M324.4 795.6h0M322.8 854.4h0M305.4 952h0M320.2 933.5h0M318.1 882.9h0M322.5 897.7h0M320.5 956.7h0M315.4 797h0M306.7 896h0M311.3 948h0M307 888.1h0M309.3 870.5h0M305.7 966.4h0M303 800.8h0M300.4 925.8h0M304.6 822.9h0M300.6 954.4h0M320.2 902h0M309.7 934h0M319.7 890.9h0M307.3 833.8h0M313 856.4h0M324.4 923.7h0M301.5 850.4h0M322.7 893.8h0M315.8 830.7h0M322.1 910.2h0M309.1 832.4h0M302.5 888.2h0M321.3 815.3h0M324.2 839.8h0M309.2 964.1h0M317.5 928.5h0M316.8 934.5h0M311.3 593.7h0M310.9 928.2h0M312.9 910.2h0M307.3 786.1h0M318.1 922.7h0M309.2 611.3h0M311.6 659.7h0M302.8 879.4h0M324.4 547.5h0M300 765.7h0M317.3 698h0M315.8 917.6h0M307.2 582.2h0M324.4 930.7h0M298.8 805.1h0M305.3 890.2h0M307 924.3h0M313.9 553h0M317.2 837.1h0M321.2 668.8h0M298.4 756.7h0M313.1 657.8h0M308.7 963.2h0M316.6 679h0M312.2 775.8h0M307.3 679.8h0M298 838.3h0M306.3 818.1h0M310 837h0M307 894.6h0M308.2 650.6h0M315.5 694.3h0M307 681h0M321 849.9h0M307.7 598h0M309.7 881.9h0M309.6 722.6h0M322.4 966.5h0M314.3 855.3h0M324.1 802h0M298 754.2h0M323.8 829.4h0M303.1 953.2h0M322.2 697.5h0M299 761.7h0M321.1 834.7h0M315 796.3h0M316.5 824.7h0M308.5 545.6h0M308.4 863.4h0M302.1 889.6h0M301.7 707.9h0M314.8 734.5h0M307.1 905.9h0M298.6 581.9h0M302.5 752.6h0M302.5 813.8h0M303.1 968.2h0M310.2 646.4h0M322.6 736.6h0M313.7 891.5h0M318 902.4h0M300.7 878.6h0M316.7 806.6h0M321.4 735.5h0M324.9 723.8h0M317.2 942h0M314.3 935.9h0M324 759.6h0M301.4 796.7h0M319.4 844.4h0M317.4 965.6h0M317.6 755.1h0M307.5 815h0M300 615.2h0M327.4 948.6h0M326.2 937.1h0M327.9 846.7h0M327 930.1h0M326.5 820.3h0M327.7 900.8h0M325.1 936.1h0M326.4 955.6h0M325.2 934.1h0M327.7 921h0M325.2 937.7h0M327.1 911.9h0M325.9 790.3h0M327.7 880h0M326.8 894.7h0M327.7 576h0M325.2 801.4h0M326.8 948.2h0M326.3 856.9h0M325.3 929.2h0M326.2 799.9h0M327.2 834.5h0M326.7 816.3h0M375.1 895.6h0M365.8 940.1h0M367.5 906.2h0M374.5 952.9h0M371.6 914.2h0M370 969.6h0M366.3 894.6h0M373.7 878.1h0M367.5 933.1h0M375.1 915.4h0M372.8 949.3h0M372.4 916.5h0M369 963h0M375.4 924.8h0M365.9 917.5h0M374.2 931.6h0M371.4 967.1h0M369.8 916.8h0M366.8 929.7h0M369.8 937.4h0M368.7 897.6h0M373.3 936.5h0M367 963.9h0M369.1 821.1h0M372.4 921.9h0M391.8 852.3h0M394.2 915.5h0M395.7 930.9h0M384.2 961.7h0M394.8 947.8h0M393.2 946h0M385.5 957.7h0M395.7 941.2h0M390.4 945.5h0M393.1 902.1h0M393 969.5h0M375.6 900.5h0M378.1 944.1h0M389.9 920.3h0M378.5 900.7h0M377.4 888.8h0M387.1 948.2h0M383.9 934.1h0M382.4 935.7h0M392.1 923h0M391.5 970.9h0M396.6 962.8h0M387.2 962.3h0M379.5 935.4h0M396.5 924.6h0M390.6 930.4h0M376.6 953.6h0M393.3 930.9h0M386.9 920.5h0M395.4 933.2h0M378.4 956.5h0M385.3 929.8h0M395.2 944.6h0M396.3 899.3h0M384.7 881.3h0M394.9 951.3h0M376.8 959.2h0M390.5 962.3h0M392.5 875h0M380.9 954.2h0M396.2 921.5h0M395.6 888.1h0M375.7 967.5h0M384 912h0M384.3 935.6h0M385.8 970.8h0M394.7 915.4h0M394.2 955.1h0M383.3 964.4h0M377.3 967.5h0M387.9 929.3h0M394.6 916.8h0M393.9 888.5h0M387.7 932.3h0M378 874.6h0M387.8 968.2h0M390.9 960.6h0M375.7 946.1h0M387.3 899.7h0M393.3 949.9h0M386.7 950.1h0M376 944h0M387.7 970.7h0M394.7 963.8h0M376.8 947.9h0M378.5 921.3h0M383.8 915.9h0M379.1 963.3h0M392.3 936.9h0M392.3 962.4h0M395.3 950.4h0M392.1 812h0M382.3 959.3h0M396 907.3h0M390.1 969.4h0M388.5 920.4h0M392.1 707.3h0M394.2 802.5h0M384.6 933.5h0M382.1 938.6h0M396.6 970.9h0M400.6 940.5h0M399.8 958.3h0M400.1 948.2h0M401 874.7h0M398.8 816.9h0M406.7 869.9h0M412 877.3h0M424.3 967h0M412 956.3h0M422.2 916.3h0M402.9 856h0M422.7 872.1h0M406.4 837.9h0M426.9 858.6h0M421.2 846.1h0M408.7 859h0M423.1 842.4h0M404.9 871.5h0M426.2 892.1h0M414.5 888.8h0M418.9 916.6h0M429 885.6h0M424.8 920.1h0M408.9 931.3h0M412.2 965h0M411.7 966.2h0M442.2 897.8h0M429.3 967.1h0M427 879.5h0M440 891.1h0M426 955.8h0M438.6 905.2h0M431.1 878.6h0M435.2 946.6h0M436.8 968.2h0M431.3 826h0M416 965.8h0M413.6 879.3h0M410.8 878.8h0M402.5 926.7h0M427.7 912.9h0M438.9 960.3h0M441.2 942.6h0M442 959.6h0M429.6 951.1h0M417.6 884.3h0M404.1 873.7h0M440.1 944.8h0M435.3 959.8h0M439 839.3h0M413 919.3h0M438.1 966.5h0M430.1 896.2h0M407 898.5h0M434.9 948.7h0M439.7 967.6h0M417.4 848.6h0M426.9 910h0M417.2 913h0M418.6 953.2h0M422 939.5h0M426.9 799.6h0M411.1 925.1h0M428 892h0M443.6 967.8h0M412.7 816.4h0M407.1 944.4h0M407.1 904.3h0M419.9 925.6h0M443.6 968.6h0M439.9 945.4h0M415.2 931.3h0M407.3 847h0M429.2 960.3h0M422.5 848.6h0M432.9 942.4h0M422.1 925.8h0M414.7 967.1h0M440.9 805.4h0M442.7 895.4h0M441.5 906.9h0M434 861.1h0M426.9 912.3h0M415.3 856h0M426 940.8h0M423.1 870.9h0M444.4 840.1h0M417.3 815.3h0M433 936.5h0M441.6 930.3h0M440.1 878.7h0M424.1 960.7h0M408.6 892.7h0M426.9 912.1h0M420.1 877.2h0M403.3 932.4h0M441.9 963h0M411.9 945.5h0M442.1 904.6h0M408.2 961.1h0M415 850.8h0M420.7 948.9h0M424 931.2h0M441.9 955.2h0M416.3 922.6h0M423.1 938h0M420.2 921.8h0M438.6 842.8h0M418 967.2h0M421.1 933.1h0M408.8 958.9h0M421.2 862.4h0M427.4 834.5h0M410.9 829.5h0M438.2 920.6h0M424.6 922.3h0M409.3 916.6h0M421.9 965.1h0M403.4 970.6h0M411.2 935h0M439.7 896h0M412 970.7h0M407.7 808.6h0M438.3 826.8h0M431.9 934.3h0M412.9 930.7h0M420.8 766.7h0M441.5 913.5h0M436.9 889h0M442 747.3h0M423.3 905.9h0M410.6 951.2h0M425.2 848.7h0M407.3 920.9h0M407.4 830.4h0M406.3 791.5h0M413.1 955.1h0M409.4 881.5h0M413.4 875.1h0M431.8 801.9h0M430.8 936.7h0M403.6 792.4h0M438.7 688.2h0M437.1 710.9h0M442.3 787.3h0M411.7 776.9h0M433.3 912.1h0M436.3 970.5h0M225.4 888.2h0M225.7 874.3h0M225.5 921.5h0M225.9 907.4h0M225.8 854.4h0M225.4 971.2h0M225.2 942.6h0M225.3 918.1h0M225.4 895.1h0M225.3 795h0M225.7 866.9h0M225.8 836.2h0M225.8 959.3h0M225.2 914h0M225.1 892.4h0M225.6 919.7h0M330.6 940.5h0M331.1 941.4h0M329.8 971.2h0M330.5 923.6h0M331.5 916.7h0M332.2 959.9h0M330.8 967.6h0M330.1 947.7h0M331.1 963.9h0M332.7 926.3h0M332.2 961.1h0M330 567.7h0M329.7 961.8h0M332.4 873.4h0M354.2 898.9h0M356 902.9h0M356.1 907.4h0M355.5 915.4h0M356.1 953.1h0M354.3 811h0M355.1 845.6h0M424.8 536.4h0M428.1 549.9h0M405.5 569.2h0M434.1 570.5h0M431.9 603.5h0M434.1 682.5h0M435.1 694.7h0M427 698.5h0M434.1 701.7h0M434.1 706.5h0M368.6 725.6h0M422.3 735.3h0M411.5 744.5h0" stroke="#88b04b" stroke-width="4.6" stroke-linecap="round" fill="none"/>
<clipPath id="cBL"><rect x="129.5" y="530.4" width="359.00" height="441.90"/></clipPath>
<polyline clip-path="url(#cBL)" points="332.97,971.93 333.01,971.90 333.04,971.88 333.08,971.85 333.11,971.82 333.15,971.79 333.18,971.76 333.22,971.73 333.25,971.70 333.29,971.67 333.32,971.64 333.36,971.60 333.39,971.57 333.43,971.54 333.46,971.50 333.50,971.47 333.53,971.44 333.57,971.40 333.61,971.37 333.64,971.33 333.68,971.29 333.71,971.25 333.75,971.22 333.78,971.18 333.82,971.14 333.85,971.10 333.89,971.06 333.92,971.02 333.96,970.98 333.99,970.93 334.03,970.89 334.06,970.85 334.10,970.80 334.13,970.76 334.17,970.71 334.20,970.66 334.24,970.62 334.28,970.57 334.31,970.52 334.35,970.47 334.38,970.42 334.42,970.37 334.45,970.31 334.49,970.26 334.52,970.21 334.56,970.15 334.59,970.10 334.63,970.04 334.66,969.98 334.70,969.92 334.73,969.86 334.77,969.80 334.80,969.74 334.84,969.68 334.87,969.61 334.91,969.55 334.95,969.48 334.98,969.41 335.02,969.34 335.05,969.27 335.09,969.20 335.12,969.13 335.16,969.06 335.19,968.98 335.23,968.90 335.26,968.83 335.30,968.75 335.33,968.67 335.37,968.58 335.40,968.50 335.44,968.42 335.47,968.33 335.51,968.24 335.54,968.15 335.58,968.06 335.62,967.97 335.65,967.87 335.69,967.77 335.72,967.68 335.76,967.58 335.79,967.47 335.83,967.37 335.86,967.26 335.90,967.15 335.93,967.04 335.97,966.93 336.00,966.82 336.04,966.70 336.07,966.58 336.11,966.46 336.14,966.34 336.18,966.21 336.21,966.08 336.25,965.95 336.29,965.82 336.32,965.68 336.36,965.54 336.39,965.40 336.43,965.26 336.46,965.11 336.50,964.96 336.53,964.81 336.57,964.65 336.60,964.49 336.64,964.33 336.67,964.16 336.71,963.99 336.74,963.82 336.78,963.64 336.81,963.46 336.85,963.28 336.88,963.09 336.92,962.90 336.96,962.70 336.99,962.50 337.03,962.30 337.06,962.09 337.10,961.88 337.13,961.66 337.17,961.44 337.20,961.22 337.24,960.98 337.27,960.75 337.31,960.51 337.34,960.26 337.38,960.01 337.41,959.75 337.45,959.49 337.48,959.22 337.52,958.95 337.55,958.67 337.59,958.38 337.63,958.09 337.66,957.79 337.70,957.48 337.73,957.17 337.77,956.85 337.80,956.52 337.84,956.19 337.87,955.85 337.91,955.50 337.94,955.14 337.98,954.77 338.01,954.40 338.05,954.02 338.08,953.63 338.12,953.23 338.15,952.82 338.19,952.40 338.22,951.97 338.26,951.53 338.30,951.08 338.33,950.62 338.37,950.15 338.40,949.67 338.44,949.18 338.47,948.67 338.51,948.16 338.54,947.63 338.58,947.09 338.61,946.54 338.65,945.97 338.68,945.39 338.72,944.80 338.75,944.19 338.79,943.56 338.82,942.93 338.86,942.27 338.89,941.60 338.93,940.92 338.97,940.22 339.00,939.50 339.04,938.76 339.07,938.00 339.11,937.23 339.14,936.44 339.18,935.63 339.21,934.79 339.25,933.94 339.28,933.07 339.32,932.18 339.35,931.26 339.39,930.32 339.42,929.36 339.46,928.37 339.49,927.36 339.53,926.32 339.56,925.26 339.60,924.17 339.64,923.06 339.67,921.92 339.71,920.75 339.74,919.55 339.78,918.32 339.81,917.06 339.85,915.77 339.88,914.44 339.92,913.09 339.95,911.70 339.99,910.28 340.02,908.82 340.06,907.33 340.09,905.79 340.13,904.23 340.16,902.62 340.20,900.97 340.23,899.29 340.27,897.56 340.31,895.80 340.34,893.99 340.38,892.13 340.41,890.23 340.45,888.29 340.48,886.30 340.52,884.27 340.55,882.18 340.59,880.05 340.62,877.87 340.66,875.64 340.69,873.36 340.73,871.03 340.76,868.64 340.80,866.20 340.83,863.71 340.87,861.17 340.90,858.56 340.94,855.91 340.98,853.19 341.01,850.42 341.05,847.60 341.08,844.71 341.12,841.77 341.15,838.77 341.19,835.71 341.22,832.60 341.26,829.42 341.29,826.19 341.33,822.90 341.36,819.55 341.40,816.15 341.43,812.69 341.47,809.17 341.50,805.60 341.54,801.97 341.57,798.29 341.61,794.56 341.65,790.77 341.68,786.94 341.72,783.06 341.75,779.14 341.79,775.17 341.82,771.16 341.86,767.12 341.89,763.03 341.93,758.92 341.96,754.77 342.00,750.60 342.03,746.41 342.07,742.19 342.10,737.96 342.14,733.73 342.17,729.48 342.21,725.23 342.24,720.99 342.28,716.75 342.32,712.53 342.35,708.33 342.39,704.15 342.42,700.00 342.46,695.89 342.49,691.82 342.53,687.80 342.56,683.83 342.60,679.93 342.63,676.10 342.67,672.34 342.70,668.66 342.74,665.07 342.77,661.58 342.81,658.19 342.84,654.91 342.88,651.75 342.91,648.71 342.95,645.79 342.99,643.01 343.02,640.38 343.06,637.89 343.09,635.55 343.13,633.37 343.16,631.35 343.20,629.50 343.23,627.82 343.27,626.32 343.30,625.00 343.34,623.86 343.37,622.91 343.41,622.14 343.44,621.56 343.48,621.18 343.51,620.99 343.55,620.99 343.58,621.18 343.62,621.56 343.66,622.14 343.69,622.91 343.73,623.86 343.76,625.00 343.80,626.32 343.83,627.82 343.87,629.50 343.90,631.35 343.94,633.37 343.97,635.55 344.01,637.89 344.04,640.38 344.08,643.01 344.11,645.79 344.15,648.71 344.18,651.75 344.22,654.91 344.25,658.19 344.29,661.58 344.33,665.07 344.36,668.66 344.40,672.34 344.43,676.10 344.47,679.93 344.50,683.83 344.54,687.80 344.57,691.82 344.61,695.89 344.64,700.00 344.68,704.15 344.71,708.33 344.75,712.53 344.78,716.75 344.82,720.99 344.85,725.23 344.89,729.48 344.92,733.73 344.96,737.96 345.00,742.19 345.03,746.41 345.07,750.60 345.10,754.77 345.14,758.92 345.17,763.03 345.21,767.12 345.24,771.16 345.28,775.17 345.31,779.14 345.35,783.06 345.38,786.94 345.42,790.77 345.45,794.56 345.49,798.29 345.52,801.97 345.56,805.60 345.59,809.17 345.63,812.69 345.67,816.15 345.70,819.55 345.74,822.90 345.77,826.19 345.81,829.42 345.84,832.60 345.88,835.71 345.91,838.77 345.95,841.77 345.98,844.71 346.02,847.60 346.05,850.42 346.09,853.19 346.12,855.91 346.16,858.56 346.19,861.17 346.23,863.71 346.26,866.20 346.30,868.64 346.34,871.03 346.37,873.36 346.41,875.64 346.44,877.87 346.48,880.05 346.51,882.18 346.55,884.27 346.58,886.30 346.62,888.29 346.65,890.23 346.69,892.13 346.72,893.99 346.76,895.80 346.79,897.56 346.83,899.29 346.86,900.97 346.90,902.62 346.93,904.23 346.97,905.79 347.01,907.33 347.04,908.82 347.08,910.28 347.11,911.70 347.15,913.09 347.18,914.44 347.22,915.77 347.25,917.06 347.29,918.32 347.32,919.55 347.36,920.75 347.39,921.92 347.43,923.06 347.46,924.17 347.50,925.26 347.53,926.32 347.57,927.36 347.60,928.37 347.64,929.36 347.68,930.32 347.71,931.26 347.75,932.18 347.78,933.07 347.82,933.94 347.85,934.79 347.89,935.63 347.92,936.44 347.96,937.23 347.99,938.00 348.03,938.76 348.06,939.50 348.10,940.22 348.13,940.92 348.17,941.60 348.20,942.27 348.24,942.93 348.27,943.56 348.31,944.19 348.35,944.80 348.38,945.39 348.42,945.97 348.45,946.54 348.49,947.09 348.52,947.63 348.56,948.16 348.59,948.67 348.63,949.18 348.66,949.67 348.70,950.15 348.73,950.62 348.77,951.08 348.80,951.53 348.84,951.97 348.87,952.40 348.91,952.82 348.94,953.23 348.98,953.63 349.02,954.02 349.05,954.40 349.09,954.77 349.12,955.14 349.16,955.50 349.19,955.85 349.23,956.19 349.26,956.52 349.30,956.85 349.33,957.17 349.37,957.48 349.40,957.79 349.44,958.09 349.47,958.38 349.51,958.67 349.54,958.95 349.58,959.22 349.61,959.49 349.65,959.75 349.69,960.01 349.72,960.26 349.76,960.51 349.79,960.75 349.83,960.98 349.86,961.22 349.90,961.44 349.93,961.66 349.97,961.88 350.00,962.09 350.04,962.30 350.07,962.50 350.11,962.70 350.14,962.90 350.18,963.09 350.21,963.28 350.25,963.46 350.28,963.64 350.32,963.82 350.36,963.99 350.39,964.16 350.43,964.33 350.46,964.49 350.50,964.65 350.53,964.81 350.57,964.96 350.60,965.11 350.64,965.26 350.67,965.40 350.71,965.54 350.74,965.68 350.78,965.82 350.81,965.95 350.85,966.08 350.88,966.21 350.92,966.34 350.95,966.46 350.99,966.58 351.03,966.70 351.06,966.82 351.10,966.93 351.13,967.04 351.17,967.15 351.20,967.26 351.24,967.37 351.27,967.47 351.31,967.58 351.34,967.68 351.38,967.77 351.41,967.87 351.45,967.97 351.48,968.06 351.52,968.15 351.55,968.24 351.59,968.33 351.62,968.42 351.66,968.50 351.70,968.58 351.73,968.67 351.77,968.75 351.80,968.83 351.84,968.90 351.87,968.98 351.91,969.06 351.94,969.13 351.98,969.20 352.01,969.27 352.05,969.34 352.08,969.41 352.12,969.48 352.15,969.55 352.19,969.61 352.22,969.68 352.26,969.74 352.29,969.80 352.33,969.86 352.37,969.92 352.40,969.98 352.44,970.04 352.47,970.10 352.51,970.15 352.54,970.21 352.58,970.26 352.61,970.31 352.65,970.37 352.68,970.42 352.72,970.47 352.75,970.52 352.79,970.57 352.82,970.62 352.86,970.66 352.89,970.71 352.93,970.76 352.96,970.80 353.00,970.85 353.04,970.89 353.07,970.93 353.11,970.98 353.14,971.02 353.18,971.06 353.21,971.10 353.25,971.14 353.28,971.18 353.32,971.22 353.35,971.25 353.39,971.29 353.42,971.33 353.46,971.37 353.49,971.40 353.53,971.44 353.56,971.47 353.60,971.50 353.63,971.54 353.67,971.57 353.71,971.60 353.74,971.64 353.78,971.67 353.81,971.70 353.85,971.73 353.88,971.76 353.92,971.79 353.95,971.82 353.99,971.85 354.02,971.88 354.06,971.90 354.09,971.93" fill="none" stroke="#000" stroke-width="3" stroke-dasharray="4.5 2.5"/>
<polyline points="342.92,648.41 342.94,646.34 342.97,644.33 342.99,642.39 343.02,640.53 343.04,638.74 343.07,637.02 343.09,635.39 343.12,633.83 343.14,632.36 343.17,630.96 343.19,629.66 343.22,628.44 343.24,627.30 343.27,626.26 343.29,625.31 343.32,624.45 343.34,623.68 343.37,623.01 343.39,622.43 343.42,621.95 343.44,621.56 343.47,621.27 343.49,621.07 343.52,620.98 343.54,620.98 343.57,621.07 343.59,621.27 343.62,621.56 343.64,621.95 343.67,622.43 343.69,623.01 343.72,623.68 343.74,624.45 343.77,625.31 343.79,626.26 343.82,627.30 343.85,628.44 343.87,629.66 343.90,630.96 343.92,632.36 343.95,633.83 343.97,635.39 344.00,637.02 344.02,638.74 344.05,640.53 344.07,642.39 344.10,644.33 344.12,646.34 344.15,648.41" fill="none" stroke="#000" stroke-width="2.6" stroke-linejoin="miter" stroke-miterlimit="20"/>
<text x="133.00" y="992.8" text-anchor="middle">7050</text>
<text x="192.33" y="992.8" text-anchor="middle">7100</text>
<text x="251.67" y="992.8" text-anchor="middle">7150</text>
<text x="311.00" y="992.8" text-anchor="middle">7200</text>
<text x="370.33" y="992.8" text-anchor="middle">7250</text>
<text x="429.67" y="992.8" text-anchor="middle">7300</text>
<text x="489.00" y="992.8" text-anchor="middle">7350</text>
<text x="120.70" y="946.10" text-anchor="end">0</text>
<text x="120.70" y="887.65" text-anchor="end">500</text>
<text x="120.70" y="829.20" text-anchor="end">1000</text>
<text x="120.70" y="770.75" text-anchor="end">1500</text>
<text x="120.70" y="712.30" text-anchor="end">2000</text>
<text x="120.70" y="653.85" text-anchor="end">2500</text>
<text x="120.70" y="595.40" text-anchor="end">3000</text>
<path d="M626.70 970.8v-11.2M626.70 532.0v11.2M688.75 970.8v-11.2M688.75 532.0v11.2M750.80 970.8v-11.2M750.80 532.0v11.2M812.85 970.8v-11.2M812.85 532.0v11.2M874.90 970.8v-11.2M874.90 532.0v11.2M936.95 970.8v-11.2M936.95 532.0v11.2M999.00 970.8v-11.2M999.00 532.0v11.2M626.7 924.14h11.2M999.0 924.14h-11.2M626.7 869.17h11.2M999.0 869.17h-11.2M626.7 814.20h11.2M999.0 814.20h-11.2M626.7 759.23h11.2M999.0 759.23h-11.2M626.7 704.26h11.2M999.0 704.26h-11.2M626.7 649.29h11.2M999.0 649.29h-11.2M626.7 594.32h11.2M999.0 594.32h-11.2M626.7 539.35h11.2M999.0 539.35h-11.2" stroke="#787878" stroke-width="1.6" fill="none"/>
<rect x="626.7" y="532.0" width="372.30" height="438.80" fill="none" stroke="#787878" stroke-width="1.6"/>
<path d="M848.4 775.9h0M848.4 778.4h0M848.2 779.7h0M848.4 779.7h0M848.5 780.8h0M847 781.7h0M848.4 782.7h0M848.3 783h0M844.8 783.3h0M844.6 783.9h0M842.1 784h0M848.5 784.7h0M848.2 786.3h0M848.3 786.7h0M847.3 786.6h0M847 787.1h0M847.3 787.3h0M847 787.6h0M848.5 787.3h0M844.5 788.8h0M847.3 788.8h0M840.9 789.3h0M839.7 790.2h0M848.2 790.1h0M848.4 790.5h0M848.3 790.7h0M848.3 790.9h0M838.4 790.9h0M847.2 791.1h0M847.3 791.1h0M847.2 792h0M848.5 791.9h0M848.6 792.5h0M846 792.7h0M848.2 793.3h0M848.4 793.3h0M843.4 794.3h0M846 794.1h0M848.4 794.2h0M848.3 794.1h0M848.2 794.3h0M846 794.9h0M846 795.1h0M846.9 795h0M847 795.4h0M848.3 795.4h0M848.3 795.6h0M847 796.3h0M847.2 796.2h0M848.4 796.4h0M849.6 779.2h0M849.5 780.1h0M850.9 781.9h0M851 781.8h0M851 784.2h0M849.6 784.5h0M849.7 784.9h0M850.7 786h0M849.6 786.1h0M849.8 786.8h0M850.7 787.1h0M851 787.4h0M850.8 787.9h0M850.9 788.1h0M849.5 787.6h0M849.6 787.9h0M849.5 788.4h0M851 788.9h0M849.4 789.1h0M850.8 790.7h0M850.7 791.3h0M851 791.2h0M849.4 791.2h0M849.6 791.2h0M849.7 791h0M849.6 791.5h0M849.7 791.3h0M850.8 792.2h0M849.6 792.9h0M849.8 793h0M850.7 793.3h0M850.9 793.3h0M849.6 793.7h0M850.9 794.3h0M849.4 794.7h0M849.5 794.8h0M849.8 795.2h0M850.7 795.2h0M850.7 795.4h0M850.6 795.8h0M850.7 795.6h0M846 796.8h0M846 797h0M845.7 797.9h0M846 797.8h0M845.9 799.1h0M848.4 799.3h0M847.1 799.5h0M844.6 799.9h0M846 800.1h0M846.1 800.4h0M840.7 800.5h0M847.3 800.5h0M847.1 801.7h0M847.3 801.8h0M847 802.2h0M848.2 801.9h0M844.6 802h0M844.7 802h0M846 802.2h0M843.3 802.2h0M843.2 802.7h0M838.4 804.3h0M839.5 804.3h0M845.7 803.8h0M847.1 803.9h0M843.3 804.7h0M843.2 804.9h0M843.2 805.3h0M844.5 805.1h0M845.7 805h0M846.1 804.8h0M846 805.7h0M846 805.9h0M847.2 805.8h0M840.8 806.7h0M840.8 807.1h0M840.8 807.7h0M840.7 808.2h0M843.2 806.6h0M844.7 807h0M845.7 806.9h0M845.9 807h0M848.2 807.3h0M838.3 808h0M838.3 808.3h0M839.5 807.7h0M843.3 808.2h0M843.2 808.8h0M838.3 809.2h0M838.3 809.7h0M839.5 809.2h0M839.9 808.8h0M839.6 810h0M840.8 809.7h0M843.2 809.6h0M843.3 810.2h0M843.2 810.7h0M842 810.3h0M844.5 810.2h0M844.6 810.7h0M845.7 809.7h0M845.9 809.9h0M845.8 810.1h0M848.6 809.4h0M848.6 809.7h0M838.3 810.5h0M838.3 810.7h0M838.3 810.9h0M838.3 811.4h0M839.5 810.9h0M846.1 811.2h0M845.8 811.3h0M844.5 811.6h0M845.8 811.8h0M845.8 812h0M840.8 811.8h0M839.5 812h0M839.5 812.4h0M838.5 812.6h0M842.2 812.6h0M842.3 812.7h0M842.3 813h0M844.8 812.4h0M845.8 813.2h0M838.3 813.4h0M838.3 813.6h0M839.5 813.4h0M843.5 813.5h0M843.6 813.7h0M842.3 813.9h0M839.5 814.1h0M839.9 814.2h0M847.3 814.4h0M842.3 814.5h0M842.3 814.8h0M844.5 814.8h0M844.7 815.1h0M844.5 815h0M838.6 815.1h0M838.5 815.4h0M838.6 815.4h0M841 815.3h0M841.1 815.4h0M843.6 815.3h0M842.2 815.4h0M842.1 815.6h0M844.5 815.5h0M840.8 815.8h0M840.8 816.1h0M843.6 815.8h0M843.3 816.6h0M843.6 816.5h0M844.7 816.6h0M842.3 816.8h0M845.8 816.9h0M849.5 797h0M850.7 797.4h0M851 797.2h0M851 797.6h0M850.9 798.3h0M853.2 798.1h0M849.5 798.7h0M849.5 799.2h0M849.5 799.8h0M849.4 800.2h0M850.8 799.2h0M850.9 799.7h0M850.7 800.5h0M851 800.6h0M850.9 801.9h0M855.7 801.2h0M858.1 799.5h0M858.3 800.1h0M850.9 804h0M856.9 804.5h0M850.9 805h0M851.1 805.9h0M850.9 806.5h0M854.6 808.1h0M856.9 808.8h0M858.2 810.1h0M856.9 811.1h0M858.1 810.9h0M858.1 811.5h0M858.4 811.6h0M858.1 812.1h0M849.7 811.9h0M854.5 812h0M854.7 811.7h0M855.8 812.2h0M859.5 813.9h0M859.6 814.5h0M854.7 814.4h0M854.6 814.8h0M854.7 814.9h0M854.6 815.6h0M854.7 815.5h0M856.9 814.3h0M858.2 814.2h0M858.2 814.6h0M857.2 815.4h0M858.3 815.9h0M859.7 816h0M854.7 816.5h0M857.1 816.4h0M858.2 816.9h0M838.5 817.5h0M838.6 818.1h0M838.4 818.7h0M838.6 819.5h0M838.7 820.8h0M838.3 822.2h0M838.5 823.8h0M838.6 824.8h0M838.7 826.3h0M838.3 828.4h0M838.7 832.3h0M838.3 833.4h0M838.5 818.5h0M838.5 819.1h0M839.7 817.7h0M839.8 818.1h0M839.5 819.5h0M839.7 819.9h0M839.9 820.3h0M839.6 820.8h0M839.7 821.2h0M839.6 822.2h0M839.9 822.2h0M839.6 823.6h0M839.8 823.2h0M839.9 823.6h0M839.7 825.5h0M839.9 830.8h0M839.5 820.8h0M839.7 822.8h0M841 818.4h0M840.8 820.3h0M841 820.8h0M840.9 821.6h0M841.1 822h0M840.8 823h0M841 823.2h0M841.2 823.4h0M840.8 824.2h0M841 824.4h0M841.1 824.6h0M841.1 826.7h0M840.9 825.3h0M842.2 817.9h0M842 818.7h0M842.3 819.1h0M842.1 820.1h0M842.3 820.3h0M842 821.2h0M842.2 821.4h0M842.4 821.8h0M842.1 822.4h0M842.3 822.6h0M842.2 823.4h0M842.4 824.2h0M842 824.6h0M842.2 824.8h0M842 826.1h0M842.2 831.7h0M843.5 817.1h0M843.5 818.3h0M843.5 819.3h0M843.6 821h0M843.6 822.2h0M843.4 824.8h0M844.5 817.7h0M844.7 818.7h0M844.6 822h0M844.7 822.2h0M844.4 823.6h0M844.5 822.8h0M844.6 828.9h0M844.8 830.6h0M844.7 829.5h0M845.8 817.1h0M846 820.6h0M854.6 817.5h0M854.6 818.8h0M854.7 819.7h0M854.5 821h0M854.6 821.8h0M854.6 823.1h0M854.7 824.5h0M854.7 826.2h0M853.5 825.9h0M855.8 817.9h0M855.9 819.2h0M855.8 821h0M855.9 821.8h0M855.8 822.7h0M856 823.6h0M855.9 824.9h0M855.8 827.9h0M856 829h0M855.8 831h0M855.9 831.4h0M855.9 836h0M855.8 839.1h0M856 843.4h0M855.9 852.3h0M857.1 817.5h0M857.1 818.8h0M857.2 820.1h0M856.9 821.4h0M857.1 822.7h0M857.2 824.5h0M857.1 825.8h0M857.2 827.5h0M857.2 830.5h0M857.2 832.4h0M856.9 839h0M858.3 817.9h0M858.4 818.8h0M858.2 818.4h0M859.6 817.5h0M859.6 819.2h0M859.6 821h0M859.7 822.7h0M859.6 823.6h0M859.7 824.9h0M859.7 829.4h0M844.8 661.4h0M848.4 684.1h0M848.5 736.2h0M844.5 747.5h0M844.8 748.5h0M848.5 760.4h0M849.8 762.5h0M849.7 764.9h0M849.7 770.6h0M849.7 772.7h0M849.7 775.2h0M853.2 773.8h0M839.5 816.9h0M640.8 794.2h0M639.5 788h0M639.3 791.8h0M636.4 808.5h0M633.7 803.7h0M635.7 787.5h0M641.5 815.2h0M635.8 792.5h0M637.8 797.9h0M633.6 803.8h0M643.1 793.6h0M635.3 770.9h0M636.6 792.8h0M643.7 795.4h0M639.4 794.7h0M643.3 840.3h0M640.9 807.7h0M656.3 802.4h0M658.4 823.1h0M647.3 809.9h0M658.7 809.3h0M645.1 796.3h0M656.1 807.6h0M656.9 811.4h0M647.1 822.4h0M651.2 808.9h0M657 820.6h0M645.3 818.9h0M654.3 801.5h0M656.7 806.8h0M652.6 794.5h0M655.7 807.8h0M648.4 807.6h0M648 806.3h0M650.4 798.6h0M647.7 797.9h0M650.1 801h0M659 799.8h0M653.5 805.6h0M650 803.7h0M649 780.5h0M659 808.4h0M651.6 797.5h0M659.4 779.2h0M652.6 792.2h0M652.7 808.1h0M658.2 791.8h0M655.9 800.1h0M653.6 782.1h0M651.3 808.6h0M657.9 794h0M651.1 776.1h0M658.6 799.9h0M646.1 766h0M651.4 801h0M652.7 823.5h0M659 811.4h0M648.7 845.7h0M656.9 822.4h0M655 819h0M655.6 812.1h0M654.3 816.8h0M659.3 811.6h0M672.7 815.8h0M660.3 815.8h0M664.2 819.4h0M668.2 818.5h0M660.7 818.8h0M663.1 799.7h0M666.3 801.4h0M672.2 810.1h0M670.5 813h0M671.4 806.8h0M670.5 808.2h0M669.7 806.5h0M671.7 819.4h0M669.4 801.9h0M670.1 807.7h0M664 807.4h0M662.1 806.7h0M670.4 817.5h0M662.1 814.5h0M672.7 811.7h0M668.2 812.7h0M664.4 805.9h0M673 812.6h0M661.9 830.4h0M667 803.2h0M661 798.3h0M673.4 801.7h0M667.9 813.8h0M671.1 804.7h0M663.7 814.9h0M671.1 819h0M669.7 819.7h0M668.8 815.2h0M673.2 814.9h0M665.8 813.2h0M665.6 806.3h0M669.5 818.6h0M671.5 811.9h0M664.5 814.8h0M669.2 808.7h0M662.7 815.6h0M667.5 818.7h0M670.6 801.2h0M660.6 809h0M670 808.4h0M659.9 799.9h0M673.3 801.9h0M666.3 818h0M665.5 805.3h0M669.9 818h0M667.1 813.5h0M670.1 799.2h0M660.9 802.6h0M667.7 818.9h0M667.6 817.3h0M672.9 814.6h0M660.3 818.6h0M666.1 802.6h0M668.6 802.3h0M667.5 813.7h0M660.8 796.3h0M668.1 805.7h0M662.9 819.1h0M662.5 811.2h0M672.1 795.8h0M662.5 812.4h0M666.1 804.7h0M670.3 804.3h0M669.7 807.1h0M667.5 817.4h0M671.1 807.4h0M666.3 807.8h0M668.5 802.8h0M671.3 797.6h0M669.3 795.8h0M668.8 808.3h0M665.5 795.2h0M667.6 793.7h0M665.3 769.3h0M670.2 797h0M665.1 808.1h0M666.3 801h0M670.4 781.8h0M666.8 808.1h0M664.5 787.7h0M671.4 799.9h0M665.1 804.1h0M671.7 804.2h0M670.8 807h0M666 769.5h0M669.8 803.9h0M660.2 788.2h0M665.2 787.4h0M671.9 790.3h0M667.9 795.2h0M667.6 771.3h0M669.1 801.9h0M669.3 794.6h0M668 805h0M665.7 809.8h0M662.3 784.7h0M663.9 798.1h0M663.9 803.3h0M665.8 804.7h0M673.8 783.4h0M664.7 801.7h0M666 778.3h0M665 781.8h0M667.9 777.4h0M673.1 786.9h0M672.3 782.5h0M665 771.3h0M663.5 803.2h0M672.2 795.8h0M666.7 804.8h0M669.4 794.8h0M660.7 775.6h0M672 808.7h0M664.1 772.4h0M666.7 785.5h0M662.5 786h0M665.7 788.2h0M671.4 797.1h0M671.4 802.4h0M666.4 804.6h0M670.6 804.4h0M666.2 802.3h0M665 802.2h0M667.4 808.8h0M662.6 804.6h0M664.2 807.7h0M669.7 797.1h0M670.6 794.8h0M660.5 808.4h0M670.1 837.6h0M671.3 816.2h0M666 841.9h0M660.6 833h0M669.4 823.9h0M663.2 821.4h0M668.8 812.3h0M665 838h0M690.6 808.7h0M685.6 814.4h0M676.7 808.8h0M685.2 811.7h0M687 814.6h0M682.8 815.8h0M691.9 803.9h0M682 816.7h0M684.5 817.4h0M676.2 817.4h0M685.6 829h0M689.8 807.9h0M689.1 804.1h0M679.2 802.2h0M694.5 809.8h0M688.9 818.6h0M682.7 821.6h0M682.5 808.6h0M690.1 815.8h0M677.5 803.8h0M687.2 807.3h0M688.8 816h0M684.6 803.9h0M692.1 811.4h0M683.6 813.1h0M683.6 816.5h0M679.8 813.4h0M693 811.4h0M680.5 820.6h0M688.4 814.5h0M682.4 814.4h0M693.4 818.8h0M693.6 811.5h0M674.5 810.2h0M694.6 810.4h0M686.5 798.3h0M675.4 823.6h0M684.2 812.1h0M674.9 818.3h0M685.3 811.7h0M677.7 822.4h0M681.5 811.4h0M680.2 819.8h0M686.4 816.1h0M691 808.8h0M693.4 819.1h0M680.7 799.6h0M685.7 813.2h0M674 813.6h0M681.6 802.1h0M693.9 815.4h0M676.3 806.1h0M692 803.3h0M687.5 803.8h0M680 819.5h0M690.1 806.9h0M679.9 802.8h0M692.5 807.7h0M675.6 816.7h0M676.3 803.2h0M689.5 796.9h0M683.2 826.6h0M676.9 817.4h0M684.6 822.9h0M680 801.3h0M685.3 799.7h0M689.4 795.1h0M691.7 814.6h0M675.1 804.5h0M686.2 808.2h0M694.4 812h0M683.4 799.2h0M689.9 812.1h0M675.9 822.4h0M692.1 812.1h0M686 826.9h0M692.4 808.6h0M690.3 805.3h0M692 811.4h0M675.1 797.3h0M688.8 806.2h0M678 820.3h0M679.4 822.8h0M680.6 822.3h0M686.2 822.3h0M686.9 813.4h0M693.3 814.5h0M674.1 809.4h0M677.9 813h0M681.4 802.8h0M690.9 805.7h0M685.3 802.9h0M684.5 810.5h0M689.7 821.4h0M687.5 800h0M679.9 814.7h0M675.7 817h0M683.5 802.9h0M692.2 812.5h0M686.3 817.7h0M675 816.9h0M683 800.7h0M681.9 821.1h0M686 800.3h0M686.1 818.4h0M693.7 808.8h0M680.9 825.6h0M682.4 811.6h0M686.6 821.2h0M692.3 812.6h0M688.6 803.1h0M683.7 822.2h0M690.8 813.6h0M684 808h0M693.9 808.7h0M679.7 811.1h0M676.5 798.3h0M691.2 815.7h0M680.1 805h0M691.5 818.6h0M686.6 802.4h0M684.5 812.4h0M675.7 807.6h0M690.3 813.6h0M675.2 809.9h0M694 810.3h0M692.1 815.1h0M680.2 829.1h0M676.5 806.6h0M692.3 807.9h0M683.9 816.6h0M676.5 806.7h0M684.3 822.5h0M679 813.3h0M682.4 800.1h0M687.2 809.9h0M692.9 815.7h0M690.6 818.5h0M677.2 817.5h0M683.8 819.1h0M684.1 820.3h0M694.5 821h0M675.7 814.7h0M684.5 810.8h0M692.9 812.5h0M682.2 807.6h0M679.3 798.3h0M685.4 818.1h0M680.5 810h0M693.2 801.2h0M675.6 817h0M678.2 820.8h0M675.6 803h0M688.7 810.2h0M680 799.7h0M692.6 822h0M692.5 815.6h0M693.4 804.2h0M679.2 803h0M673.9 821h0M681.9 805.4h0M693.9 812.5h0M689.8 802.2h0M675.1 824.3h0M688.5 812.6h0M693 796.2h0M694 808.6h0M688.8 810.9h0M691.9 800.3h0M691.4 807.9h0M681.3 824.3h0M675.9 813.6h0M689 816.5h0M676.7 817h0M681.9 811.1h0M694.6 800h0M685.5 810.3h0M684.7 807.3h0M693.6 815.2h0M679.8 813.8h0M694.7 805.6h0M692.9 805.6h0M681.4 808.2h0M680.7 810.8h0M676.5 814.8h0M692.9 813.3h0M677.7 810.4h0M674 822.1h0M692.4 804h0M686.3 795.2h0M687.9 810.9h0M689.1 810.8h0M674.7 803.1h0M675.8 812.5h0M684.3 815.4h0M674.9 807.7h0M684.4 815.1h0M689.2 802.9h0M687.6 809.8h0M686.7 813.9h0M674.8 803.4h0M678.8 804.4h0M692.6 818.3h0M676.4 813.4h0M685 817.7h0M674.9 801.6h0M693.4 797.7h0M677.4 788.1h0M682.4 793.2h0M685.3 807.2h0M688.8 809.2h0M693.4 784.7h0M689.2 799.3h0M681.1 793h0M675.4 806.1h0M688.6 780.8h0M694.1 775.8h0M674.2 780.8h0M690 794.7h0M677.5 783.1h0M683.4 779h0M684.8 808.5h0M686.7 778h0M694.5 801.8h0M688.2 787.4h0M682 780.8h0M688.8 800.1h0M683.6 800.6h0M682.5 792.8h0M681.5 794.6h0M684.1 801.9h0M679.7 810.1h0M678.9 797.3h0M677 798.5h0M683 809.2h0M680 810.1h0M691.3 796.6h0M691.5 800.1h0M681 782.7h0M686.8 805.5h0M692.7 788.5h0M681.3 780.5h0M685.4 796h0M683.1 790h0M687.4 790.5h0M693.9 802.9h0M676.7 767.9h0M694 786.4h0M687.7 794.1h0M690.5 790.9h0M687.1 792.3h0M692 809.1h0M680.7 799.4h0M688.6 794.4h0M679.4 808.9h0M684.5 784.9h0M688.1 794.9h0M678.1 784.8h0M675.1 786.7h0M690.3 805.1h0M690.7 788.4h0M687.7 801.4h0M680.6 787.9h0M687.6 787.8h0M675.6 771.3h0M687.7 810.2h0M685.9 798.3h0M686.7 785h0M683.2 807.3h0M678.6 784.4h0M689 810.4h0M683.5 808.5h0M689.4 796.4h0M681.5 784.1h0M675.7 802.3h0M685.2 804.7h0M686.8 806.8h0M693.1 808.8h0M692.4 788.1h0M675 784.9h0M690 800.8h0M679.3 799.2h0M688.4 790h0M681.8 801.8h0M680.6 801h0M684 800.3h0M684.9 844.2h0M688.3 817h0M687.2 840.2h0M688 826.7h0M681.9 821.8h0M688 817.2h0M681.1 818.1h0M686.5 811.9h0M683.4 811.7h0M685.6 815.6h0M674.2 840.7h0M684.3 814.6h0M678.4 847.5h0M681.9 817h0M675.4 822.9h0M687.6 822.7h0M692.5 814.5h0M681.3 815.4h0M676 834.5h0M686.8 839.7h0M676.5 828.5h0M692.4 844.6h0M676.4 826.8h0M681.4 837.1h0M684.2 828.3h0M703.4 811.9h0M705.2 812.3h0M721 815.2h0M699.8 802.7h0M706.2 805.8h0M712.5 815.8h0M715.4 807.4h0M717.1 814.9h0M708.1 815.7h0M704.4 813.5h0M718.9 815.8h0M702.1 817.8h0M700.8 811.4h0M704.6 817.7h0M710.6 816.8h0M720.9 816.6h0M716 809.8h0M712.2 812.2h0M711.3 809.2h0M715.2 813h0M713.7 808.3h0M707 816.5h0M701.4 816.6h0M703.9 809.2h0M717.3 814.7h0M713.9 811.1h0M717.6 810.7h0M700.3 815.6h0M720 818.8h0M708.1 810.4h0M720.6 809.5h0M712.9 819h0M711.9 818.9h0M718.1 815.6h0M713.7 815.7h0M714.8 816.8h0M702.9 819.4h0M713.2 812.8h0M707.5 814.3h0M701 815.6h0M702.4 815.4h0M710.3 816.3h0M705.3 815.1h0M716.9 803.8h0M702.1 808.8h0M699.6 811.4h0M722.2 810.1h0M706.5 815.3h0M711 815h0M704.1 806.6h0M704.1 814.2h0M708.5 811.6h0M717.4 806.8h0M700.2 811.9h0M718.5 814.3h0M722 815.5h0M712.1 816.2h0M707.6 816.7h0M704.7 806.4h0M703.5 818h0M706.7 815.2h0M718.9 816.5h0M699.4 814.5h0M717.3 807.2h0M714.6 810.6h0M699.7 803.5h0M700.9 807.7h0M716.2 810.2h0M714.8 812h0M706.5 814.6h0M719.1 819.7h0M704.1 809.3h0M709.1 817.3h0M701.9 811.6h0M714.1 817.9h0M701.3 809.6h0M703.4 811.8h0M716.9 815.3h0M710.8 815.5h0M714.5 813.9h0M716.1 814.4h0M713.2 819.8h0M703.8 818.5h0M715.3 807.3h0M702 814.1h0M705.5 817.1h0M709.6 811.1h0M701.9 819.8h0M701.7 808.9h0M714.3 805.2h0M716.3 815.8h0M707.8 807.9h0M708.2 812.7h0M704.1 818.6h0M711.3 813.9h0M712.6 820.2h0M720.7 820.6h0M700.2 814h0M720.2 814.3h0M722 809.7h0M707.2 813h0M716 816.1h0M718.2 820.8h0M714.2 814.4h0M705.9 822.9h0M713.6 811.4h0M719.4 816.2h0M701.8 820.5h0M710.3 822.2h0M699.8 815.5h0M718.7 813.5h0M717.2 815.5h0M700.4 808.9h0M716.4 819.2h0M715.2 813.5h0M702.2 816.8h0M711.4 811h0M715.1 821.3h0M707 806.7h0M710.9 810.3h0M721.7 813.3h0M713.9 815.9h0M710.8 809.2h0M700.8 814.3h0M702.1 812.8h0M718.8 815.5h0M716.3 810.8h0M718.5 803.9h0M712.6 811.2h0M712.5 804.2h0M711.5 810.6h0M716.2 814.5h0M706.9 817.7h0M710.7 814.8h0M710.1 812.1h0M714.5 818.9h0M704.3 808h0M699.9 815.8h0M701.3 814.2h0M703.4 821.8h0M719 811.8h0M715.8 809.2h0M716.5 813.9h0M709.5 816.5h0M701.7 825.3h0M710 812.3h0M719.1 817.7h0M711 807.3h0M713.8 815.5h0M707.9 808.7h0M702.7 818.5h0M713.7 811.9h0M710.4 813.8h0M707.2 811.4h0M705.2 803.6h0M715.3 817.7h0M706.6 817.2h0M712.5 812.9h0M705.3 813.6h0M716.6 810h0M707.9 809.4h0M710.3 820.5h0M720.6 823.2h0M715.8 805.2h0M716.2 807.6h0M707.1 805.3h0M718.6 812.7h0M708.2 817.7h0M722 810.9h0M719.9 816.9h0M714.4 822.7h0M718.4 810.3h0M711.8 814.4h0M716.1 802.5h0M702.2 813.3h0M722 818.5h0M717.7 805.6h0M702.6 806.5h0M704.9 809.2h0M712.5 817.5h0M716.8 815.7h0M702.7 810.3h0M721.4 819.2h0M707.2 819h0M722.1 812h0M716.6 813.4h0M710.4 819h0M707.6 815.9h0M701.5 813h0M701.3 816.5h0M713.7 816.5h0M717.1 805.7h0M720.1 810h0M707.7 819.7h0M720.8 813.8h0M706.1 809.2h0M720.9 814h0M720.4 805.7h0M702.9 812.1h0M719.1 818.5h0M715.5 814h0M715.4 813.5h0M718.6 823.3h0M711.6 807.7h0M710.9 812.5h0M707.7 811.4h0M719.2 815h0M720 818.3h0M703 814.3h0M717 814.9h0M705.6 813.9h0M703.5 822.1h0M703.8 811.8h0M712.5 815.1h0M705.7 814h0M704.9 813.9h0M701.6 816.6h0M706.8 820.1h0M717.1 806.4h0M699.8 812.1h0M710.4 807.9h0M713.1 807.9h0M700.4 805.5h0M706 813.2h0M720.1 811.4h0M722.1 817.2h0M718.8 813.5h0M703.2 812.9h0M716.8 816.6h0M709.6 809.8h0M703.2 813.6h0M710.3 814.4h0M720.5 802.3h0M719.4 816.4h0M708.3 818.8h0M700.8 806.5h0M720 814.3h0M721.9 807.5h0M711 807.9h0M704.5 817.9h0M711.8 811.9h0M715.3 809.9h0M710.4 812.9h0M707.4 820.1h0M705 813.6h0M706.1 822.1h0M700.4 816.4h0M705.2 818.8h0M721.2 815h0M699.5 812.4h0M716 819.9h0M717.4 811.9h0M708.6 815.4h0M713 816.8h0M704.4 817.2h0M714.6 817.7h0M715.5 814.6h0M716.2 814h0M710.6 812.7h0M721.6 792.1h0M719.2 792.7h0M712.4 782.2h0M715 807.2h0M705.6 791.6h0M721 792.9h0M714.1 807h0M719.8 790.9h0M705.9 812.9h0M721.9 789.4h0M701.7 796.4h0M711.5 798.9h0M701.8 803.1h0M703.7 805.2h0M716.8 808.5h0M700.8 808.6h0M708.1 793.5h0M703.7 803h0M718.8 778.8h0M701.2 811h0M707 793.6h0M719 811.3h0M715.1 808.2h0M715.4 772.9h0M722.1 807h0M699.8 787.8h0M714.6 799h0M716.4 806.8h0M716.5 770.5h0M715.7 809h0M701 794.6h0M701.2 793.3h0M717 806.1h0M713.3 799.8h0M705.3 777.4h0M699.5 799.3h0M711.5 801.2h0M701.4 807.1h0M716.5 792.9h0M707.1 812.7h0M717.8 807.9h0M701.5 767.1h0M710.6 801.3h0M701.6 802.4h0M717.2 804.4h0M712.2 786.6h0M704.7 783.8h0M721.4 807.8h0M715 793h0M707 785.2h0M718.9 802.8h0M708 797h0M720.9 808.3h0M706.1 811.9h0M721.9 811.4h0M700.7 813.1h0M716.2 791.1h0M706 810.7h0M709 810.1h0M713.9 807.6h0M700.4 806.3h0M704.4 795.4h0M701.7 803.2h0M716.3 812.1h0M704.4 801.9h0M710.7 810.8h0M706.8 801h0M704.7 773.4h0M720.8 786.8h0M711 804.2h0M714.2 812h0M715.5 769.7h0M718.2 806.7h0M705.3 811.4h0M701.1 807.1h0M710 807h0M703.2 785.2h0M699.8 812.7h0M720.4 771.6h0M713.7 795.6h0M708.8 824.5h0M702.4 829.6h0M716.8 843.1h0M711.5 818.6h0M703.3 814.1h0M721.8 828.3h0M721.1 833.8h0M720.6 831.4h0M718.3 818.8h0M711.5 836.1h0M706.2 815.4h0M714.3 814.8h0M702.8 818.9h0M713.5 824.4h0M700.8 819.5h0M699.6 825.4h0M715.7 821.8h0M707.2 838.1h0M715.3 844.9h0M717.2 815h0M718.5 820h0M713.4 821.2h0M718.7 828.8h0M714.4 815.5h0M720.6 830.2h0M792.5 805.3h0M785.6 812.8h0M746.5 812.5h0M757.3 810.3h0M765.8 814.6h0M740.3 815.8h0M756.9 803.2h0M747.8 815.7h0M781.3 819h0M735.7 805.6h0M792.8 806.6h0M744.7 815.6h0M750.8 804.9h0M734.5 809.7h0M787.8 817.4h0M782.4 813h0M734 814.9h0M763.3 802.8h0M754.6 800.4h0M768.3 809.4h0M751.1 811.3h0M790.6 809.7h0M743.6 805.8h0M781.9 813.3h0M746.7 815.6h0M771 819.1h0M756.9 809.1h0M763.2 803.6h0M762.9 804h0M769.6 804.2h0M734 804.4h0M733.5 814.7h0M791.5 812.6h0M745.8 798.9h0M752.4 802h0M745 812.7h0M770.8 810.1h0M792.3 805.8h0M755.3 807.3h0M750.2 814.3h0M752 808.1h0M731.4 820.4h0M735.4 811.9h0M732.8 809.8h0M750.3 814.4h0M792.4 822.4h0M738.7 802.8h0M764.6 810.8h0M742.9 810.4h0M732 820.7h0M783 815.7h0M737.8 806.5h0M738.3 800.4h0M781.7 811.2h0M745.2 820.4h0M742.4 812.3h0M789.8 807.4h0M742.1 806.2h0M782.6 811.4h0M749.2 812.5h0M765.7 812.9h0M749.5 806.1h0M751.3 805.3h0M789.1 809.2h0M787.5 818.3h0M740.8 817.1h0M775.8 811.5h0M738.6 802h0M748.8 806.4h0M734.2 809.3h0M771 806.7h0M776 808h0M777.2 810.6h0M779 812h0M754.8 813.1h0M741 817.9h0M730 818.4h0M757.7 820.4h0M789.1 810.3h0M758.3 818h0M768.9 807.3h0M788.1 818h0M784.6 807.3h0M776.8 810.7h0M767.4 819.7h0M744.5 808.5h0M777.4 805.5h0M756.3 809.5h0M774.7 811.4h0M743.9 809h0M789.6 815.3h0M740.1 806.1h0M780 805.2h0M786.4 813.4h0M739.4 814.4h0M784.8 814.1h0M770.7 803.6h0M768.1 807h0M745.9 803h0M750.6 818.2h0M744.7 811.1h0M757.8 814.3h0M770.9 810.9h0M776.1 809.5h0M774.6 808.7h0M751.8 800.1h0M751.1 804.5h0M778.3 810.2h0M791.7 813.8h0M743.8 813.4h0M756 811.5h0M747.3 806.2h0M791.8 803.5h0M730.8 818.2h0M786.5 814.7h0M778.6 811.1h0M750.8 822.7h0M773 803.5h0M753.2 811.4h0M770.2 817.9h0M756.8 820.3h0M788 801.5h0M758.8 817.4h0M781.4 814.5h0M766.4 817.1h0M753.4 812.2h0M791.2 814.6h0M742.1 804.7h0M787.5 802.7h0M792.2 814.2h0M783.8 815.5h0M768.6 818.2h0M769.3 805.7h0M788.8 805.2h0M757.3 810.4h0M782.2 801.2h0M779 809.8h0M784.4 810.2h0M757.8 812.7h0M771.2 813.4h0M735.6 812.2h0M734.3 812.3h0M736.5 812.6h0M776.5 810.7h0M752.3 819.1h0M787.5 816.7h0M734.7 817.8h0M740.7 813h0M782.9 805.8h0M756.3 812.1h0M743.7 812.6h0M779.4 808.8h0M744.6 813.5h0M791.7 819.6h0M747.2 800.1h0M784.4 804.3h0M760.2 816.9h0M789.2 815.4h0M748.6 803.9h0M788.6 807.9h0M749 802h0M758.2 810.2h0M770 810.3h0M765 802.1h0M772.4 819.3h0M774 812.7h0M746.8 807.4h0M730.3 807.5h0M775.8 811.2h0M767.9 815.4h0M765.6 805.8h0M761.3 806.4h0M788.8 816.9h0M748.6 802.3h0M787.8 809h0M740.4 805.8h0M773.9 815.1h0M789.6 814h0M739.5 806.7h0M778.7 803.3h0M747.1 813.3h0M733.5 805.4h0M757.2 817.7h0M774.2 806.7h0M747.7 805.1h0M790.2 812.3h0M729.8 807.2h0M746.8 800.6h0M751.5 816.9h0M753.3 807.4h0M748.8 809.2h0M731.1 806.4h0M743.1 813.7h0M746.4 819.1h0M772.5 817.1h0M753.7 805.7h0M775.7 819.5h0M757.9 815.8h0M751.4 818h0M739.8 809.3h0M744.2 809.6h0M787.1 801.6h0M758.7 805.9h0M749.7 800.4h0M743.6 808.6h0M785.5 810.1h0M774.5 817.9h0M773.9 803.6h0M780.9 815.5h0M745.1 806.2h0M776.2 822.3h0M734.3 805.3h0M772 821.4h0M750.2 808.5h0M771.8 822.8h0M744.1 809.3h0M752.2 815.5h0M772.4 803.6h0M789.5 818.9h0M751.4 816.2h0M740.5 807.7h0M737.6 813.6h0M772.4 808.9h0M786.6 801.2h0M730.8 811.2h0M751.7 813.2h0M740.5 811h0M790.5 814.8h0M738.1 812.6h0M734.1 810.9h0M778.6 803.8h0M793.3 803.5h0M779 805.9h0M737 815h0M755.7 809.1h0M762.8 800.6h0M786.9 811h0M777.7 813.9h0M733.5 805.5h0M758.5 813.1h0M779.3 810.8h0M764.3 823.4h0M772.2 807.7h0M791.3 810.9h0M792 816.6h0M783 815.3h0M766.1 814.8h0M749.3 812.2h0M739.9 821.8h0M740.4 814.3h0M770.5 810.8h0M778.9 806.8h0M784.4 805.7h0M787.9 817.2h0M748 801.4h0M751 808h0M742.2 800.3h0M764.3 818.5h0M790 814.6h0M777.9 805.9h0M757.5 806.8h0M739.8 799.3h0M783.4 824h0M786.8 821.7h0M778.6 798.9h0M748.3 814.1h0M754.5 816.1h0M766.9 804.5h0M788.1 816.3h0M745.2 804.4h0M756.4 814.8h0M733.5 816.5h0M729.9 817.3h0M745.2 810h0M781.2 814.8h0M772.7 806.4h0M760.1 819.1h0M755.8 814.1h0M746.6 815.6h0M778.5 810.2h0M760.8 805.1h0M734.2 810.3h0M769.6 805.8h0M792.9 807.4h0M734.3 812.8h0M793.2 810.7h0M736 803.7h0M749.3 815.6h0M791.9 801.3h0M791.6 809.8h0M741.5 816.2h0M775.6 824.5h0M768.7 822.4h0M755 813.1h0M779.6 809.7h0M770.1 809.5h0M744 815.2h0M760.9 808.2h0M774.9 820.7h0M769.3 813.8h0M764.3 802.7h0M776.7 821.8h0M738.3 809.8h0M732.4 819.1h0M731.8 811.4h0M769.2 820.4h0M757.4 812h0M782.9 811h0M791.6 801.8h0M736.8 812.9h0M753.8 820.2h0M756.4 817.5h0M764.5 806.8h0M787.6 812.3h0M767.9 816.4h0M749.1 813.4h0M771.9 806h0M750.7 809.7h0M765.1 818h0M736 809.8h0M765.6 809.1h0M760.2 820.4h0M770.8 805.3h0M765.8 820h0M766.2 817.7h0M776.6 806.9h0M738.2 811.4h0M777.6 805.4h0M769.4 813.3h0M773.5 818.9h0M755.1 812.4h0M735.1 813.5h0M788.4 802.8h0M782.3 809.4h0M791.8 806.1h0M759 807.1h0M786 809.9h0M785.2 815.8h0M764.7 811.7h0M787 822.4h0M781.6 817.7h0M736.2 816h0M738.2 818.2h0M755.6 813.3h0M763.6 803.8h0M771.3 814.4h0M765.6 823.2h0M785.5 812.4h0M780.7 814.4h0M736.2 804.4h0M751.3 805.8h0M786.2 806.4h0M777.8 813.7h0M730.7 811.7h0M769.6 817.8h0M737.7 815.7h0M761.7 810.6h0M793 815.8h0M734.5 808.7h0M782.1 814.4h0M760.5 816.2h0M792 813.6h0M784.4 809.8h0M733.8 811.7h0M770.7 816h0M784.5 808.1h0M747.5 811.4h0M774.6 809.9h0M745.9 805.8h0M742.8 808h0M750.9 807.3h0M748.4 811h0M791 804.5h0M744.7 814.2h0M756.7 812.6h0M760.6 807.2h0M773.7 813.7h0M791.5 811.2h0M768.8 804.6h0M784.5 818.9h0M738.1 808h0M771.8 812.9h0M740.7 806.6h0M785.2 808.4h0M767.6 810.8h0M738.4 802.4h0M783.8 810.4h0M763.1 806.2h0M760.6 813.4h0M734.9 813.6h0M787.4 812.6h0M762.4 814.4h0M784.7 810.8h0M734.5 816.3h0M773 809h0M753.6 804.9h0M763.9 821.1h0M769.4 815h0M782.3 826.7h0M788.5 805.4h0M740.3 809.8h0M784.4 809.8h0M737.1 818.5h0M730.4 816.3h0M748.9 810.9h0M747.8 809h0M778.8 816.9h0M765.4 805.3h0M754.4 811.7h0M780 804.6h0M789.3 815.8h0M770.5 810.9h0M771.3 811.1h0M784.6 813h0M748.3 812.6h0M793.1 809.3h0M740.9 804.5h0M732.6 815.9h0M782.1 804.2h0M740.8 810.3h0M751.1 811.5h0M762.4 816.8h0M736.8 810.6h0M756.7 814.1h0M752.2 808h0M735.2 821.6h0M768.1 814.1h0M758.4 805.1h0M739.9 817h0M779.9 808.2h0M755.8 807.5h0M731.3 807h0M785.7 826.6h0M755.8 808.6h0M735.6 814.7h0M748.1 816.3h0M745.9 802.7h0M732.5 813.9h0M750.8 818h0M740.4 821.3h0M743.3 808.9h0M772.6 806.5h0M739.8 802.5h0M731.1 822.5h0M741.1 822.9h0M748.5 805.7h0M740.2 813.6h0M767.7 813.3h0M785.7 805.2h0M782.6 809.2h0M759.7 801.3h0M779.7 807h0M780 817.6h0M770.1 819.3h0M780.8 808.3h0M753.8 806.7h0M777.3 814.7h0M763 807.2h0M776.7 809.9h0M776.8 811.1h0M733.9 812.9h0M782.8 824.6h0M732 812.7h0M756.9 818.7h0M767.3 810.3h0M782.1 813.3h0M733.4 813h0M772.5 811.1h0M751.7 802h0M732.3 809h0M750.9 807.6h0M770.5 816.5h0M735 803.8h0M783.7 809.7h0M732.4 805.8h0M744.9 812.1h0M750.7 812.5h0M733.8 814.2h0M788.6 805h0M791.2 822.9h0M787.3 810.3h0M742.4 810.5h0M782.7 798.7h0M751.2 804.9h0M748.1 820.8h0M773.6 815.3h0M735.1 807.9h0M730 805h0M789 807.3h0M752.2 804.8h0M780.3 809h0M756.8 812.3h0M735.6 810.6h0M759.9 813.1h0M740.6 809.6h0M734.8 813.6h0M730.9 803.8h0M755.2 804h0M746.2 796.7h0M751.1 815h0M790.9 813.9h0M782.5 805h0M774.6 819h0M745.2 811.9h0M777.4 825.1h0M774.1 811.1h0M763.3 810.9h0M744.9 822.4h0M742.9 812.9h0M756.4 812.4h0M747.3 804h0M786 813h0M759.4 816.4h0M772.8 808.9h0M786.8 810.2h0M769.2 815.3h0M739.9 818.8h0M750 813.6h0M788.4 812.2h0M732.6 818.7h0M743.8 805.7h0M769 810.7h0M784.1 812h0M781.9 804.4h0M776.2 806.9h0M774.4 816h0M753.5 818.3h0M733.6 816.9h0M770.2 803.2h0M734.3 813.2h0M780.5 809h0M738.1 808.1h0M731.3 807.3h0M793.3 805.8h0M740.4 814.9h0M766.8 805.6h0M733.6 808.6h0M792.1 819.6h0M730.8 801.4h0M773.5 818.5h0M783.4 805.1h0M748.6 823.2h0M730.2 808.3h0M732.1 815h0M733.6 802.2h0M777.7 811.7h0M763.3 812.3h0M786.8 814.4h0M770 815.4h0M767.5 813.2h0M742.6 805.3h0M743.9 816.7h0M792 811.9h0M790.3 812.1h0M757.6 811.1h0M780.3 815.8h0M775.5 809.2h0M747.4 812.3h0M742.4 812.5h0M777.4 810.5h0M791 805h0M792.3 822.6h0M752.4 810.2h0M733.9 815.1h0M750 825h0M734.2 818.5h0M792.6 804.3h0M749.3 817.8h0M783.7 810.1h0M745.4 799.9h0M790.8 807.6h0M760.8 808.8h0M782.8 818.3h0M767.9 809.3h0M778.5 813.4h0M734.3 808.7h0M735.3 811.2h0M752.4 818.5h0M785.6 809.5h0M787.6 814.5h0M774.9 810.5h0M767.8 811.3h0M732.8 812.1h0M788.8 818.7h0M771.7 807.9h0M768.9 822.7h0M783.3 803.1h0M744.8 808.2h0M769.2 809.3h0M773.2 814.6h0M777.8 801.8h0M735.7 818.6h0M776.1 828.7h0M787.2 813.4h0M769.7 814.9h0M740.5 809.6h0M788.2 811.9h0M736.2 819.6h0M744.4 806.1h0M784.1 806.3h0M767.2 819.4h0M751.1 809.8h0M780.9 813.5h0M770.9 806.5h0M737.2 809.6h0M744.5 809.6h0M781.3 815.3h0M781.3 806.1h0M734.4 810.6h0M762.9 814.9h0M775.1 809.2h0M750.4 809.9h0M733.7 807.2h0M756.3 811.7h0M789.2 822.9h0M776.2 802.1h0M743.3 809.9h0M783.5 801.6h0M772.2 819.8h0M748.2 812.9h0M746.8 799.8h0M741 818.9h0M755.5 811.3h0M752.6 817.2h0M747.9 808.7h0M785.3 816.1h0M778.1 810.9h0M761.1 812.6h0M791 810.7h0M772.6 810.7h0M790.3 808.2h0M782.2 812.7h0M770.1 806.1h0M773.9 825.3h0M779 814.8h0M777.9 812.3h0M785.3 810.4h0M751.3 817.9h0M752.8 820.4h0M745.4 814.8h0M788.4 807.1h0M787.2 805.3h0M757.8 808h0M755.2 817.1h0M738.1 818.4h0M791.8 809h0M772.5 811.2h0M791 812.9h0M769.9 796.7h0M762.4 815.4h0M777.4 803.4h0M786.2 809.5h0M783.5 805h0M751.7 810.8h0M762 815.7h0M789.9 800.6h0M761.9 805.6h0M780.8 804.4h0M763.1 801.9h0M782.7 809.8h0M734 812.2h0M729.8 818.8h0M735.5 807.8h0M757.5 818.3h0M753.1 809.9h0M790.8 816.8h0M793.2 810.2h0M738.3 812.8h0M782.8 813.7h0M762.1 821.5h0M783.3 810.6h0M753.2 806.2h0M778.9 816.7h0M730 800.2h0M759.5 808.2h0M750.9 815h0M745.7 806.5h0M748.8 811h0M756.4 811.9h0M761.3 811.1h0M763.1 813.3h0M776.5 817.8h0M782.3 817.1h0M790.9 810.3h0M772.3 819.3h0M746 812.7h0M766.6 808.1h0M757.6 802h0M744.7 814.9h0M750.9 808.6h0M744.3 808.4h0M764 815.1h0M733.9 805h0M764.3 809.1h0M755.9 820.5h0M730.1 807.5h0M747.3 807.9h0M791.5 814.4h0M766.6 807h0M733.8 797.2h0M766.5 808.4h0M774.5 806.4h0M738.3 807.5h0M755.3 814.3h0M743.3 821.6h0M764.2 815.6h0M782.1 803.5h0M745 808.4h0M738.6 804h0M738.6 818.4h0M768.8 804.5h0M734.1 810.1h0M763.2 813.5h0M781.3 809.6h0M778.5 819.7h0M772.4 816.3h0M730.4 811.7h0M757.2 799.4h0M745.2 804.7h0M762.5 816.5h0M739.4 809h0M738.3 808.4h0M790.3 819.9h0M785.8 808.3h0M735.9 810.3h0M782.4 812.4h0M733.9 820.1h0M751.3 807.9h0M793 812.2h0M789.6 815h0M759.5 818.8h0M774.4 803.6h0M754.1 814.5h0M783.7 814.2h0M749.8 800.7h0M742.8 816.7h0M738.9 804.8h0M769.9 818.1h0M765.2 802.1h0M787.2 802.8h0M739.1 807.9h0M780.9 812.4h0M789.8 818.8h0M777.3 808.7h0M737 800.9h0M739.5 819.6h0M735.3 815.8h0M751 821.1h0M778 807.6h0M738.9 825.6h0M758.3 811.1h0M732.5 817.6h0M772.9 804.4h0M736 815.7h0M780.2 804.7h0M768.7 815.6h0M741.8 812.4h0M774.2 800h0M751.9 813.4h0M763 810.7h0M765.1 812.1h0M747 822.2h0M756.3 809.9h0M779.8 811.8h0M784.7 814.3h0M783.7 804.1h0M765.9 814.9h0M785.2 816.6h0M738.6 809.2h0M792.3 805.7h0M732.6 815.9h0M786.9 814.7h0M780.1 818.3h0M754.5 812.4h0M780 801.1h0M790.7 809.9h0M740.1 818.4h0M771 808.9h0M730 815.6h0M772 819.6h0M733.6 806.5h0M772.2 810.5h0M731.4 812.4h0M755.4 810.4h0M784.9 808.2h0M749.2 811.7h0M791.4 812.9h0M759.7 815h0M741.3 813.3h0M789.3 824h0M739.6 820.8h0M767.5 807.2h0M789.7 815h0M789.6 814.9h0M765.1 804.2h0M743.2 812.5h0M761.6 803.1h0M748.3 808h0M749.7 812.5h0M749.9 813.8h0M742.5 800.5h0M732.2 819.8h0M777.5 817h0M730.5 801.8h0M766.2 816.7h0M753.1 816.1h0M771.1 812.2h0M766.7 812.3h0M760.2 810h0M779.2 800h0M766.1 815.9h0M786.9 811.9h0M767 809h0M785.5 814.4h0M784.7 816.5h0M774.7 804.8h0M750.7 811.6h0M760.7 799.8h0M734.7 809.8h0M775.9 801.5h0M770.8 817.5h0M781.8 819.5h0M735.1 808.1h0M737.9 811.4h0M770.8 815.8h0M776.3 815.1h0M734.4 816.2h0M731.7 815.3h0M750.4 813.8h0M751.3 811.4h0M733 814.5h0M735.9 818.3h0M742.7 819.3h0M730.6 819.1h0M739.1 815.4h0M731.3 815.8h0M753.3 810.3h0M777.4 819h0M771.8 818.2h0M768.2 807.1h0M759.5 802.7h0M741.6 803.7h0M732.8 804.5h0M741.5 811.6h0M790 813.1h0M781.5 818.2h0M766 809.9h0M768.7 808.3h0M777.1 810.7h0M782 804.9h0M745.1 809h0M780.8 809.1h0M771 812.9h0M747.4 814.8h0M748 814.7h0M740.6 803.8h0M764.6 808.6h0M791.4 808.8h0M780 804.6h0M740.3 805.2h0M737.3 813.2h0M747.6 808.7h0M740.2 808.7h0M738.8 811.7h0M776.3 819.5h0M749.7 803.1h0M765.7 809.5h0M749.8 816.3h0M792.4 800.9h0M767.4 803h0M738.6 816.5h0M779.2 808.3h0M748.1 812.3h0M758.7 806.2h0M748 805.9h0M760.9 809.4h0M749.3 815.7h0M750.1 807.4h0M739.7 809.3h0M790.8 816.8h0M742.9 824.4h0M747.7 809.5h0M755.8 808.3h0M737.2 810.9h0M744.3 809.8h0M755.6 807.1h0M766.9 811.1h0M763.8 812.6h0M753.2 804.8h0M772.8 810.6h0M777.2 805.6h0M746.6 814.6h0M745 812.7h0M769.5 815.8h0M755.9 819h0M782.6 816.3h0M730.3 812.2h0M764.2 808.2h0M751.9 811.1h0M743.2 809.8h0M785 793.5h0M743.5 776.9h0M779.9 801.2h0M784.1 802.1h0M791.3 811.2h0M737.1 791.3h0M739.6 802.3h0M735.1 804.9h0M750.1 798.9h0M787.4 767.5h0M770.7 799h0M739.6 804.2h0M736.4 784.7h0M777.4 788.4h0M769.4 791.9h0M729.9 805h0M767.1 800.2h0M741.8 799.6h0M748.4 806h0M736.1 781.7h0M792.8 785.4h0M758.8 798.3h0M769 804.8h0M742.7 800.9h0M753.6 797.6h0M770.9 793.2h0M777.2 805.5h0M787.4 799.4h0M745.5 807.7h0M745 784.6h0M755.4 790.7h0M749.3 797.3h0M781.9 809.3h0M753.3 797.1h0M753.5 801.5h0M761.7 796.6h0M765.6 795.6h0M752.2 804.8h0M730.3 794.8h0M776.5 809h0M737 786.5h0M784.1 781.2h0M745.4 808.5h0M746 787.9h0M763.8 804.1h0M787.5 799.9h0M753.9 780.1h0M760.3 805.6h0M756.1 787.5h0M736.8 786h0M748.1 796.5h0M788.1 807.3h0M789.5 809.2h0M745.9 811.3h0M788.3 805.5h0M730.7 783.1h0M775.5 779.7h0M731.3 810.7h0M756.8 799.2h0M756 791.5h0M757.4 804.2h0M789.6 803.6h0M752.1 804.6h0M730.9 800h0M736.7 794.1h0M777.4 804.6h0M737.9 810.6h0M733.4 787.1h0M742.1 806.2h0M792 796.8h0M758 801.9h0M739.1 792.3h0M771.6 776h0M753.7 779.8h0M764.9 787.7h0M793.1 803.2h0M774.2 811.1h0M763.8 810.1h0M793.3 810.3h0M761.9 799.1h0M758.5 803.4h0M783.9 789.8h0M790.7 790.2h0M775.5 775.3h0M753 771.2h0M755.3 808.4h0M730.3 786.5h0M745 803.2h0M779.2 797.3h0M760.8 811.4h0M784.2 796.7h0M772.4 790.8h0M765.7 796.1h0M781 798.4h0M761.4 807.1h0M772.2 792.5h0M760.9 787.7h0M752.1 805.6h0M778.4 786.6h0M734.2 804.7h0M791.9 781h0M790.9 799.7h0M782.6 807.5h0M759.5 770.4h0M758.4 793.6h0M755.3 796h0M758.9 801.7h0M743.8 810.6h0M780.6 809.9h0M785.8 785.5h0M761.6 795.4h0M784 802.3h0M748.3 784.2h0M784.4 803.1h0M791.7 803.6h0M772.4 804.2h0M791 793.1h0M775.9 805.3h0M773.9 793.7h0M759.8 808.5h0M733.5 800.7h0M737.7 802.4h0M782.4 805.4h0M741.3 784.8h0M773.4 794.6h0M739.9 808.5h0M777.8 794.6h0M790.5 777h0M769.1 783.1h0M732.2 774.8h0M776.6 796.4h0M760 793.6h0M784.8 801.8h0M739.2 810.9h0M747.6 809.2h0M788.2 798.4h0M783 806.3h0M787.6 804.7h0M762.8 809.1h0M772.6 774h0M789.1 804.9h0M771.7 788.2h0M735.3 804.7h0M739.6 809h0M729.9 801.1h0M736.8 803.2h0M731.4 792.2h0M754.2 806.9h0M769 794h0M784.5 801.6h0M755.7 777.8h0M739.9 780.2h0M787.6 797.8h0M788.1 799.3h0M791.9 778.6h0M731.2 796.9h0M767.3 803.6h0M769.8 798h0M763.7 798.9h0M741.7 783.6h0M788.3 790.8h0M763.9 786.8h0M732.1 792.4h0M751.7 796.4h0M776 788.6h0M742.6 791.7h0M779.1 795.2h0M743.1 808.1h0M757.2 805.6h0M748.3 796.7h0M737.8 799.3h0M786 789.4h0M751.4 802.8h0M777.5 810.9h0M786.4 795.5h0M747.7 806.8h0M730.1 780.4h0M763.1 801.4h0M744.7 810.8h0M785.3 788.5h0M740.2 800.2h0M775.6 796.8h0M731.3 792.5h0M747 804.9h0M742.2 802.9h0M784 808.7h0M767.8 811h0M771.7 789.9h0M734.9 796.9h0M749.4 787.1h0M786.5 810.9h0M768.7 810h0M777.9 799.5h0M761.6 807.2h0M742.8 800h0M787.9 803.2h0M746.5 780.6h0M740.5 810.6h0M771 800.8h0M735.2 803.9h0M778.4 793.4h0M775 803.5h0M754.1 794.2h0M762.5 792.7h0M760.7 800h0M734.5 802.9h0M734.8 804.4h0M752.1 791.7h0M730.1 810.4h0M741.5 781.9h0M753 802.6h0M769.6 802.2h0M762.5 802.1h0M740.8 809h0M778 807.8h0M780.3 797.8h0M771.9 808.9h0M773.5 803h0M745.8 799.1h0M783.1 809.6h0M767 805.7h0M741 806.6h0M773.3 803.6h0M769.6 805.6h0M765.9 793.3h0M759.7 797.6h0M778.5 804.2h0M776.2 788.7h0M767.2 809.7h0M734 808.5h0M744.5 793.3h0M792 804.1h0M755.3 807.1h0M770 799.7h0M738.1 802.5h0M766.1 807.9h0M768.5 783h0M778.2 786.8h0M791.4 801.5h0M758.7 807.7h0M749.6 794.1h0M739.9 802.7h0M751 811.3h0M757.9 808.5h0M791.1 801.8h0M762.3 810.4h0M772.7 807.5h0M776.4 806.9h0M730.6 787.9h0M744.5 806.1h0M764.1 843.3h0M733.4 830.4h0M739.3 841.9h0M777.6 827.1h0M772.6 821h0M738.5 818h0M737.2 823.5h0M783.4 815.5h0M759.8 826.5h0M749.8 838.8h0M775.5 838.6h0M772.3 828.4h0M793 837h0M736.3 837.4h0M778.6 833.7h0M759 835.3h0M745.5 815.8h0M761.4 813.3h0M731 823.8h0M737.6 812.8h0M736.6 822.8h0M773.8 812.2h0M774.8 829.1h0M745.2 832.6h0M749.3 816.9h0M778.9 816.6h0M754.4 813.6h0M751.9 817h0M789.9 833.2h0M764.4 818.1h0M764 814.3h0M768.6 828.5h0M732.3 850.6h0M755.1 830.5h0M779.9 828.6h0M771.2 815.7h0M786.4 848.6h0M749.5 827.2h0M760 840.9h0M744.6 830.5h0M741.5 814.9h0M735.5 816.4h0M742.4 831.1h0M740.1 825.5h0M757.7 832.6h0M755.9 821.4h0M778.3 821.2h0M779.2 831.3h0M764.1 821.6h0M771.5 823.9h0M759.5 839h0M749.5 825.1h0M761.8 814.5h0M769.9 824.5h0M790.5 826.8h0M781.7 837.9h0M733.9 814.2h0M770.5 834.5h0M735.5 812.7h0M769.3 825h0M783.8 835.8h0M774.2 820.1h0M737.3 827.6h0M756.7 812.8h0M742.1 835.1h0M771.8 811.7h0M774.9 820.6h0M776.6 815.3h0M752.4 848.5h0M767.8 818.8h0M743 819.9h0M788.9 816.1h0M789.4 832h0M731.6 836.5h0M765.6 820.2h0M775.4 824.7h0M744.4 814h0M731.8 818h0M729.8 823.2h0M774.7 823.3h0M730.5 813.8h0M754.3 834.3h0M780.5 838.9h0M733 820.8h0M774.7 813.5h0M757.2 842.8h0M754.5 828.4h0M760.5 812.2h0M752.1 839.4h0M784.6 829.9h0M772.4 825.3h0M754.4 845.9h0M737.4 814.4h0M761.8 819.3h0M793.3 817.7h0M786.5 818.1h0M734 816.9h0M752.4 843.2h0M759.6 837.9h0M755.5 814.3h0M736.8 830.8h0M741.6 848.7h0M763.8 822.9h0M775.6 832.7h0M775.3 846h0M772.5 830.2h0M772.6 815.8h0M730.2 819h0M743.6 820h0M751.1 816.3h0M746 846.7h0M754.4 821.4h0M755.1 812.7h0M751.3 831.4h0M730.4 817.6h0M784.8 819.4h0M790.6 852.2h0M768.9 827.9h0M747.1 821.7h0M758.4 811.7h0M787.8 832.3h0M767.9 852h0M774.1 830.1h0M774.3 827.2h0M792.1 822.7h0M771.4 819.5h0M736.6 830.9h0M761.9 832.6h0M788.4 813.4h0M737.9 855.2h0M733 824.1h0M732.9 824.3h0M734.2 840.7h0M740.1 813h0M778.8 834.7h0M767.9 824.8h0M776.3 816.8h0M765.1 811.8h0M752.2 814.2h0M779.8 823.5h0M740.5 841h0M752.6 821.2h0M756.1 838.4h0M773 834.6h0M778.2 818.1h0M765.8 825.8h0M768.4 815.2h0M747.6 829.2h0M767.5 815h0M783.4 814h0M757.7 812.1h0M777.6 826.4h0M762 847.1h0M762.4 817.2h0M768.4 830h0M738.6 835.6h0M743.4 812.5h0M740.9 819.8h0M763.8 821.3h0M772.3 830.9h0M774.7 856h0M743 813.9h0M750.9 847h0M739 826.6h0M771.3 837.4h0M756.5 812.3h0M747.1 839.4h0M744 833.6h0M790.1 823.7h0M760.4 828.3h0M792.8 826.2h0M750.2 817.6h0M743.4 815.2h0M775.3 845.3h0M787.8 819.1h0M740.1 840.6h0M784.6 851.2h0M767.1 814.6h0M787.3 844.6h0M789.9 822.4h0M756.9 827.7h0M789.6 854.4h0M741.2 828.2h0M758 819.5h0M757.9 854.1h0M745.3 816.6h0M760.5 813.9h0M777.6 846.3h0M736.6 838.4h0M760.3 819.3h0M763.2 815.5h0M742.2 853.8h0M770.6 827.7h0M745.8 828.9h0M766 823.9h0M766.1 812.1h0M777.4 817.7h0M789.2 828.4h0M788.7 812.3h0M761.7 842.6h0M746.4 817h0M745.1 823.8h0M779.8 821.2h0M778.1 859.9h0M780.3 827.6h0M782.8 829.2h0M765.7 815.4h0M786.8 827.8h0M771.5 816.9h0M769.9 850.2h0M783 817.8h0M771.2 820.2h0M778.6 823.5h0M788.9 827h0M754.9 827.5h0M777.5 845.4h0M748.7 820.4h0M760.7 824.3h0M785.3 841.6h0M791.7 849.1h0M790 821.9h0M777.9 811.6h0M783.7 814.2h0M786 823.3h0M768.5 817.9h0M745.2 825.6h0M730.8 842.6h0M778.2 816.5h0M778.1 843.3h0M776.2 834.3h0M766.6 821.7h0M771.6 823.2h0M775.4 813.9h0M763.6 853.9h0M771.6 811.9h0M744 820.1h0M763.7 847.1h0M769.7 823.2h0M765.9 825.3h0M746.1 813h0M737.8 817h0M771.4 826.4h0M736.9 842.9h0M780.3 832.3h0M741.3 820.8h0M778.8 814.9h0M752.3 835.8h0M787.1 821.2h0M744.1 822.3h0M739.7 817.9h0M800.3 805.2h0M800.7 810.9h0M799.5 817.3h0M800.9 812.7h0M800.9 807.9h0M801.1 818.5h0M799.8 833.6h0M799.8 818.8h0M800.9 822.7h0M800.3 824.6h0M799.9 812.5h0M799.5 819.8h0M799.8 808.4h0M800.6 804h0M800.7 811.5h0M800.1 810.1h0M801 830.3h0M800.3 827.6h0M800.3 824.2h0M816.4 819.7h0M801.7 817.8h0M829 825.5h0M820.1 808.8h0M812 820.5h0M823.9 826h0M823.8 828.7h0M821.1 805.5h0M807.9 819.1h0M803.8 823.7h0M825.5 813.3h0M826.4 811.3h0M811 829h0M812.2 805.5h0M812.6 800.6h0M809 830.7h0M827.9 813.3h0M816.3 827.3h0M821.3 829h0M818.4 822.5h0M803.7 823.6h0M803.2 811.9h0M805.4 811.9h0M815.3 799.4h0M819 813.4h0M829.5 815.5h0M826.8 826.5h0M822.2 829.3h0M812.1 815.2h0M811 812.5h0M821 804.7h0M811 824.6h0M822.9 830.4h0M821.9 805.9h0M804.6 813.8h0M824 829.5h0M803.8 808.6h0M810.2 831.2h0M828.9 811.3h0M819.7 821.6h0M825.5 807.5h0M827.5 822.5h0M808.7 804.2h0M823.8 810.2h0M811.8 796.8h0M803 810.8h0M804.2 836.4h0M804.8 803.8h0M819.1 811.4h0M819.4 809.2h0M825.3 807.2h0M809.6 823.9h0M822.9 806.1h0M808.8 821.6h0M810.1 831h0M819.8 820.5h0M812.3 825.6h0M829.5 824.1h0M810.2 805.1h0M807.9 819.1h0M826.2 829.1h0M826 816.7h0M805.8 831.4h0M810.8 828.2h0M815.7 812.1h0M803.1 838.9h0M811.7 814h0M823.1 813.6h0M823 812.8h0M805.4 830.9h0M809.8 825.4h0M808.8 813.5h0M820.6 805.9h0M804.9 809.2h0M829.2 806.1h0M804.5 812.9h0M816.2 817.1h0M821.2 817h0M828.1 828.7h0M818.6 819h0M825.5 812.2h0M816.3 827h0M807.5 815.3h0M813.1 813.2h0M818.4 827.7h0M816.3 801.9h0M823.4 826.8h0M816.5 802.8h0M812.1 828.7h0M815.8 813.6h0M816 798.7h0M801.5 804.2h0M810.5 815.9h0M817.5 829.2h0M821.4 818.3h0M813.3 815.3h0M822.4 836.8h0M815.5 826.5h0M811.7 800.5h0M808.1 820.7h0M823.9 819.5h0M827.4 819.3h0M821.9 817.1h0M807.5 809.9h0M821.2 817.1h0M815.5 836.7h0M827.5 827.8h0M801.4 828.2h0M823.2 805.6h0M814.4 819.6h0M825.5 815.6h0M818.4 805.5h0M801.4 822.7h0M820.8 813.4h0M816.3 803.9h0M808 795.4h0M804.6 837.5h0M812.5 821.4h0M817.1 833.1h0M814.8 812.8h0M801.7 826.4h0M805.4 810.9h0M820.5 823.1h0M816.7 821.1h0M822.3 805.2h0M813 826.3h0M808.5 818.5h0M823.9 817.2h0M807.4 820.5h0M802.9 822.6h0M811.7 819.9h0M814 817.7h0M807.1 831.1h0M828.3 810.3h0M807.8 819.9h0M804.7 834.1h0M820 830.7h0M805.3 805.8h0M809.1 832.3h0M812.9 821.4h0M809 805.9h0M819.8 829.8h0M805.2 832.6h0M819.5 829.3h0M804.5 805.8h0M817.7 836.3h0M829 802.7h0M823.5 832.1h0M828.1 819.1h0M816.7 806.3h0M805.7 818.7h0M811.7 821.1h0M823.2 822.4h0M804.9 824.9h0M820.1 790.4h0M810.3 829.8h0M827.3 813.4h0M811.1 816.1h0M810.4 799.2h0M808.9 827.1h0M816.5 839h0M828.3 799.5h0M816.5 822.1h0M822.3 813.5h0M816 819.7h0M803.5 813.7h0M817.9 809.4h0M818.1 807.6h0M818.1 829.2h0M809.7 809.8h0M808.8 829.5h0M810.5 808.2h0M802.1 832.5h0M805.8 808.5h0M809.3 810.6h0M815.7 834.9h0M827.1 810.4h0M821.1 814.2h0M815.8 828.9h0M821.6 809.5h0M813.8 807.3h0M802.5 820.8h0M820.7 800.6h0M821.2 825.9h0M819.8 822.2h0M825.4 815.1h0M823.4 819.1h0M824.7 808.8h0M802.5 831.9h0M829.6 807.4h0M817.9 810.6h0M818 811.8h0M818.6 819.7h0M808.9 822.9h0M809.8 811.2h0M826.1 819.2h0M818.2 829.6h0M828.5 806.1h0M807.1 798.2h0M817.8 827.9h0M818.2 820.3h0M802.2 823.8h0M819 812.8h0M812.1 812.7h0M813.4 820.6h0M806.5 816.9h0M818.1 824.2h0M820.3 808.4h0M826.5 812.5h0M825.1 828.9h0M829 814.3h0M828.9 816.9h0M821.1 805.7h0M809.2 826.8h0M816.5 820.1h0M803.6 810h0M817.3 829.2h0M809.9 811.9h0M816.4 821.5h0M822.5 822.8h0M802.9 806.9h0M826.1 817.3h0M802.3 817h0M815.1 820.9h0M807.4 817.6h0M802.3 807.9h0M814.8 824.7h0M808.6 818h0M803.5 826.8h0M824.6 807.3h0M808.2 816h0M827.8 811.7h0M818.5 806.7h0M811.3 828.6h0M802.9 805.5h0M825.5 815.5h0M804.3 805.2h0M823.2 829.3h0M816.2 811.7h0M814.1 812.4h0M803.5 818.1h0M813.1 804.8h0M801.7 816.1h0M822.9 838.8h0M821.3 809.4h0M805 810.3h0M815.7 812.7h0M806.2 812.3h0M821.4 834h0M806.6 825.8h0M806.1 828.3h0M809.3 815.2h0M828.8 811.6h0M824.4 812.7h0M812.6 804.1h0M823.8 827.3h0M811.5 827.5h0M806.5 817.4h0M826.7 831.6h0M802.2 823.6h0M823.7 825.9h0M828.5 824.7h0M803.6 809h0M825.6 820.3h0M823.4 813.6h0M802.4 798.3h0M813.8 825.2h0M808.6 802.3h0M812.1 808h0M812 809h0M812.4 808.4h0M801.5 812.5h0M808.9 835.7h0M809.4 826h0M819.6 817.6h0M821 817.6h0M822.5 813.9h0M819.3 813.2h0M826.6 833.7h0M817 825.2h0M810.1 820.5h0M802.3 817.1h0M821.8 816.9h0M817.2 822.6h0M805.8 826h0M815.7 815.9h0M828 800.9h0M818.4 820.6h0M810 802.2h0M824.1 836.2h0M812.4 828.4h0M801.6 818.5h0M803.5 812.5h0M828.5 808.7h0M803.8 811.7h0M823.4 802h0M802.1 826.2h0M813.2 831.4h0M809.2 823.9h0M811 814.5h0M803.8 830.1h0M812.6 833.1h0M822.8 809.3h0M816.1 801.6h0M804.9 797.9h0M824.1 822.3h0M825.9 823.5h0M814.1 807.6h0M811.4 796.4h0M801.7 824.5h0M803.2 803.5h0M811.9 813.1h0M804.4 826.8h0M828.7 818.1h0M819.5 836.5h0M810.1 821.5h0M817.8 812.9h0M806 803.7h0M827.3 818.9h0M815.4 809.3h0M821.1 814.1h0M806.4 818.5h0M814.6 810.1h0M821.5 824h0M812.2 814.5h0M803 826.9h0M814.5 806.6h0M824.6 832.6h0M814.3 811.7h0M829 807.6h0M817.1 835.9h0M826.3 812.5h0M802.1 823h0M819.1 820.6h0M815.7 811h0M811.4 812.5h0M826.8 817.2h0M803.8 819.1h0M815 828.3h0M809.9 832.3h0M828.5 813.8h0M823.4 805.1h0M806.9 830h0M804.8 798.3h0M801.9 821.8h0M806.3 813.5h0M827.6 826.5h0M826 800.8h0M823.9 812.6h0M812.6 806.2h0M814.9 821.5h0M817.5 825.8h0M824.2 814.4h0M801.3 828.9h0M806.3 802.5h0M817.7 818h0M805.2 806.5h0M827.8 825.3h0M802.5 809.9h0M828.9 835.9h0M807.3 830.1h0M806.7 813.9h0M813.2 821.3h0M819.3 814.8h0M829 824.9h0M814.7 823.4h0M826.7 816.8h0M826.5 830.2h0M829.2 825.5h0M811.4 798.8h0M814.7 814.7h0M801.8 816.1h0M812.1 802.7h0M811.2 805.8h0M804.7 819.1h0M824.8 808.4h0M809.1 823.9h0M804.9 817.2h0M804.5 822.8h0M801.9 819.6h0M822.6 811.2h0M816.3 838.4h0M816.1 814.4h0M812.9 822.9h0M828.6 808.1h0M811.9 808.4h0M814.7 815.8h0M820.8 835.1h0M827.6 811.9h0M825.6 818h0M826.2 799.3h0M806.4 811.9h0M828 810.6h0M824.6 815.7h0M810.6 830.9h0M824.1 810.8h0M828.3 805.2h0M822.3 809.1h0M822.2 810.4h0M825 820.8h0M826.2 806.3h0M823.4 812.9h0M803.4 826.8h0M807.1 816.3h0M804.6 800.5h0M814.4 810.8h0M803 806.7h0M816.8 832h0M827.5 802.9h0M829.1 802.1h0M802.2 821h0M820.6 799.7h0M805.2 820.6h0M825.7 816.8h0M802.1 829.9h0M804.1 819.3h0M810.4 806.7h0M801.3 803.7h0M820 827h0M807 810.1h0M821.6 817.1h0M828.2 819.7h0M814.6 808.4h0M814.5 812.2h0M829.5 827.8h0M810.1 827.2h0M826.4 810.8h0M821.5 809.2h0M801.4 831h0M809.6 822.8h0M821.7 837.1h0M802.5 803.2h0M825.6 834.4h0M827.1 802h0M822.8 820.2h0M824.2 811.3h0M818.2 813.6h0M824.2 824.1h0M814.5 826.7h0M812.8 824.7h0M821.2 823.6h0M814.4 834.1h0M810 825.2h0M808.7 810h0M813.6 808.1h0M812 819.4h0M822.6 814.1h0M823.5 794.8h0M823.9 806.6h0M825.2 818.6h0M811.5 827h0M811.7 797h0M825 824.8h0M806.3 819.5h0M821.1 809.7h0M816.1 807.9h0M820.1 810.7h0M821 805h0M820.2 821.6h0M807.9 807.4h0M801.9 817.5h0M828.3 822.8h0M826.7 811.6h0M815.5 814h0M820 804.5h0M803.8 809.7h0M814.2 815.5h0M817.9 812.3h0M821.1 810.6h0M807.4 829.1h0M803.8 816.4h0M828.5 812.2h0M825.3 819.8h0M806.3 824.4h0M824.6 836.2h0M824.3 810.5h0M806.3 825.1h0M824.1 808.4h0M812 805.4h0M810.7 805.6h0M805.7 812h0M818 802.9h0M818.6 818.7h0M815.7 800h0M804 816.5h0M823.8 829.6h0M810.2 810.8h0M808.7 823.6h0M819.4 798.8h0M806.4 836h0M827.1 803.9h0M819.6 833.4h0M823.6 811.3h0M810.9 820.7h0M813.4 809.8h0M808.3 829.4h0M808.3 812.2h0M813 804.2h0M823.6 834.1h0M815.5 808.6h0M824.9 836.5h0M804.4 809.1h0M809.4 806.6h0M802.2 836.8h0M827.1 804.5h0M803 825h0M816.6 834.3h0M820.3 806h0M807 822.2h0M829 822.6h0M829.1 825h0M808 798.8h0M805.2 796.5h0M819.6 814.3h0M815.8 812.1h0M818.4 813.1h0M818.7 809.6h0M828.4 829.9h0M823 804.3h0M810.1 802h0M822.4 821.6h0M814 826.3h0M828.9 800.6h0M814.8 819h0M801.5 827.1h0M827.2 806.1h0M809.1 815.3h0M824.5 813.6h0M818.6 820.8h0M822.3 808.8h0M822.2 828.1h0M826.9 810.2h0M824.9 815.8h0M819.5 800.7h0M810.5 810.1h0M815.2 814.9h0M809.1 819.8h0M810.8 809.3h0M814.3 819.5h0M813.2 807.7h0M809.4 816.7h0M809.8 828.8h0M810 820.9h0M806.6 801.1h0M817.7 832.6h0M803.8 812.9h0M808.2 803.2h0M806 817.8h0M821.3 841.5h0M809.1 819.8h0M804 815.5h0M824.5 810.6h0M813.6 813.6h0M824 809.6h0M810.3 817.8h0M811 804.2h0M817.1 806.3h0M803.2 832.1h0M828.9 812.7h0M805 805.8h0M827.1 809.8h0M819.9 803.9h0M822.9 820.5h0M807.2 822.3h0M826.5 811.4h0M816.4 824.7h0M812.9 804.1h0M806.7 819.4h0M806.1 809.3h0M825.7 802.5h0M828.7 804.8h0M813.1 816.5h0M821.7 813.1h0M821 813.7h0M815.2 781.6h0M814.8 813.1h0M816.9 811.4h0M811 799.7h0M822.4 812.6h0M813.1 783.3h0M815.5 787.8h0M806.4 808.5h0M828.9 777.3h0M803.4 797.8h0M821.6 791.4h0M820 812.1h0M811 780.5h0M828.9 813.3h0M802.2 801.5h0M808.9 809.5h0M810.8 812.7h0M819.4 817.2h0M818 777.8h0M821.4 804.5h0M825.6 788.7h0M801.7 797h0M817.1 787.7h0M812.6 816.4h0M820.8 789.6h0M816.2 798.7h0M811.1 789.7h0M801.4 804.6h0M810 802.7h0M813.9 804.5h0M810.8 809.9h0M812 787h0M819.7 791.1h0M810.7 789.8h0M825.4 805.7h0M811.5 782h0M813.5 808.7h0M813.5 793.7h0M826.9 816.7h0M818.4 806.2h0M828.6 801.2h0M801.3 796.7h0M828.3 803.8h0M806.7 815.4h0M826.7 791.4h0M802.4 797.4h0M825.5 804.3h0M819.2 800.7h0M820.7 803.3h0M812.3 777.1h0M812.2 807h0M805.6 809.5h0M805.2 792.4h0M818.9 794.9h0M810.9 811h0M802 780.5h0M806 796.6h0M806 802.3h0M806.7 816.8h0M814.1 786.6h0M827.1 795.1h0M817.7 809.6h0M822.2 810.7h0M804.2 808.4h0M820.9 801.6h0M825.8 795h0M829.5 793.9h0M821.4 814.4h0M818.4 813.8h0M828.5 797.2h0M804.9 800.7h0M823.7 805.2h0M821.6 816.6h0M821.8 796.8h0M811.3 802.4h0M803.4 783.6h0M805.2 830.2h0M820.4 838.1h0M810.1 824.9h0M828.2 845.9h0M804.6 828.3h0M824.3 832.1h0M814.7 819.7h0M809.5 827h0M808.4 844.5h0M811.2 843.1h0M811.6 818.2h0M807.6 827.5h0M807.4 857.4h0M828.8 820.7h0M813.2 826.8h0M818.9 818.2h0M821.2 840.9h0M810.6 838.2h0M827.8 845.6h0M809.5 829.7h0M806.6 850.3h0M802.4 863.5h0M808.7 821.2h0M802.9 822.4h0M819 820.5h0M817.5 836h0M801.8 826.1h0M828.2 849.6h0M821.9 818.4h0M816.8 827.2h0M828 833.8h0M816.2 839.5h0M806.2 829.7h0M823.3 819.7h0M828.3 818.2h0M802.9 821.7h0M815.5 818h0M807.6 847.8h0M826.9 828.8h0M803.9 846.1h0M824.1 850.1h0M807 833.9h0M819.4 821.9h0M820.9 836h0M822.8 829.4h0M802.7 843h0M814.9 820.8h0M804.8 824.3h0M804.8 824.3h0M805.8 828.9h0M805.4 841.3h0M827.8 828.8h0M817.1 836.5h0M808.4 828h0M815 837.6h0M802.7 842.3h0M807.3 823.8h0M819 841.4h0M820.9 831.2h0M818.7 829.4h0M829.2 819.1h0M829 854.6h0M824.9 848.7h0M814.4 828.2h0M822.7 820.2h0M808.3 824.3h0M825.8 822.4h0M808.1 845.8h0M829.3 819.9h0M801.6 851.4h0M823.8 825.2h0M815.4 842.9h0M824.4 827.6h0M816 828.7h0M824.9 828.4h0M821.3 817.8h0M819.3 828.4h0M828.2 853.8h0M804.5 839h0M827.5 829.6h0M832.1 815h0M830.8 813.9h0M832.6 805.4h0M829.7 821.2h0M831.7 813.3h0M831.2 802.9h0M832.4 810.5h0M829.7 813.8h0M830.6 821.4h0M831.1 815.7h0M829.8 813.6h0M831.6 821h0M832.2 828.3h0M832.4 812.4h0M830.1 821.8h0M831.2 817.8h0M832.7 825.9h0M829.8 814h0M831.8 811.5h0M830.5 800.1h0M832.4 808.5h0M831.5 809.9h0M832.4 780h0M829.8 801.2h0M831.5 815h0M830.9 806.4h0M829.9 813.2h0M830.9 801h0M831.9 804.3h0M831.4 802.6h0M831.4 819.3h0M830.5 819.8h0M831.2 824.7h0M831 817.5h0M832.4 830.8h0M832.3 831h0M831 819h0M831.2 836.8h0M873.5 821.1h0M875.4 822.1h0M880.6 822.8h0M882 810h0M872.2 814.2h0M880.8 829.2h0M879.6 820.6h0M872.9 818h0M873.7 823.9h0M881 821h0M874 811h0M881.4 815.4h0M877.6 822h0M882.2 826.7h0M877.2 822.7h0M873.4 820.6h0M878.3 811.8h0M876.6 817h0M872.8 809.9h0M880.5 808.4h0M881.3 819.6h0M882 822.7h0M878.7 821.8h0M878.1 820.9h0M874.1 813.5h0M882 811.9h0M879.6 815.1h0M878.9 822.1h0M879.2 812h0M880.7 822.6h0M875.6 816.4h0M873.2 824.2h0M882.3 812.8h0M872.4 812.1h0M874.8 823.9h0M877.1 821.1h0M872.5 824.2h0M875.2 822.4h0M881 813.4h0M878.5 820.8h0M878.1 816.7h0M872.2 822.6h0M876.4 812h0M873.3 813.2h0M876 822.5h0M876 817.2h0M876.4 814h0M875.3 810.2h0M880.1 813.9h0M876.8 824.3h0M881.4 821h0M875.6 821.3h0M873.5 816.4h0M875.7 825.6h0M881 819.6h0M875.7 803h0M880.5 817.2h0M879.2 812.5h0M874.7 830h0M874 820.7h0M873.2 828.1h0M876.7 825.6h0M879.2 831h0M875.1 838.4h0M881.9 826.4h0M872.2 828.4h0M899.4 817.6h0M899.8 828h0M899.4 805.9h0M901.8 822.6h0M898.7 818.3h0M892.8 826.9h0M891.7 825.7h0M884.2 826.1h0M882.6 822.4h0M901.8 822.7h0M885.7 818.2h0M902 811.9h0M891.4 824.3h0M883.7 818.8h0M901.2 828.6h0M898.6 824h0M905 818.2h0M894.7 823h0M903.5 813.3h0M893.8 817.7h0M888.3 821.9h0M891.5 816.2h0M897.3 818.3h0M902.6 814.9h0M900.9 814.8h0M903.5 826.5h0M894.5 819.1h0M892.8 815.9h0M894.3 823.8h0M903.5 814.3h0M890.7 826.7h0M883.7 820.9h0M891.2 828.5h0M897.1 819.4h0M901.3 825.5h0M903.8 820.3h0M898 814.7h0M900.8 820.1h0M900.8 810.6h0M900.7 817h0M896 823.6h0M903.8 825h0M902.6 825.7h0M882.5 810.5h0M885.1 814.6h0M904.9 819.6h0M897.5 812.3h0M885.5 810.5h0M903 817.2h0M884.4 809.4h0M894.6 815h0M891.1 813.6h0M888.9 817.8h0M887.8 820.4h0M884.3 823.8h0M890.9 828.9h0M884.6 817.4h0M896.5 825.6h0M889.6 813.8h0M899.8 812.6h0M903.6 830h0M902.5 818h0M899.1 817.1h0M900.1 820.4h0M884.4 823.7h0M904.4 816.3h0M895.4 823.2h0M894.7 816.3h0M897.7 818.4h0M886.6 813.8h0M893 822.4h0M885.1 823.5h0M903.2 833.6h0M893.7 824.8h0M885.4 833.8h0M904.4 812.7h0M895.5 823.9h0M899.5 822.8h0M900.6 822.4h0M898.2 813.3h0M892.4 818h0M888.7 822.8h0M883.5 815.5h0M896.5 819.7h0M884.8 828.3h0M890.7 824.1h0M902.5 820.1h0M902.9 827.6h0M901 813.3h0M886.7 823h0M903.7 831.3h0M885.5 819.2h0M903.2 823.3h0M899.4 821.9h0M904.4 822.9h0M904.7 819.5h0M894.3 812.4h0M889.4 821.6h0M903.2 813.6h0M889.5 820.8h0M889.9 819.6h0M895.3 823.6h0M885.6 825.1h0M892.7 825.1h0M885.5 815.7h0M892.6 813.2h0M903 814.6h0M903.2 831.1h0M904.1 810.4h0M898.8 822.6h0M899.3 819.6h0M892 808.7h0M902.7 815.3h0M885.4 817.3h0M886.1 825.6h0M885 822.8h0M891.6 820.9h0M883.7 816h0M898.3 831h0M886.5 827h0M898 817.8h0M895.1 817.6h0M898.1 816.3h0M898.3 822.6h0M900.2 808.1h0M893.2 823.5h0M895.3 828.2h0M888 815.5h0M893.7 820.9h0M884.4 824.6h0M904 812.5h0M903.4 809.3h0M884 821.1h0M882.6 816.8h0M891.3 811.6h0M894.3 824.5h0M893.2 821.6h0M890 824.1h0M896.5 820h0M891.4 822.6h0M891.6 813.8h0M883.1 824.9h0M895.8 828.4h0M884.2 819h0M901.8 822.1h0M893.2 817.1h0M890.4 819.5h0M897.4 820.8h0M902.5 811.9h0M886.2 822h0M891.5 830.5h0M904.5 830.4h0M902 815.6h0M891.2 818.8h0M890.6 816.5h0M900.9 821.6h0M884.3 816.8h0M885 827.8h0M895.3 813.2h0M895.3 819.2h0M895.3 825.9h0M899.7 823.2h0M902.4 812h0M891.4 817.1h0M889.7 821.1h0M901.6 809.3h0M887.9 833.1h0M902.2 826h0M898.4 823.6h0M901.6 820.6h0M896.8 822.3h0M884.8 823h0M898.6 820.8h0M893.6 817.9h0M886.5 828.3h0M884.7 822h0M888.3 823.1h0M885.2 825.3h0M885.4 818.9h0M901.5 828.7h0M903.9 827.1h0M904.9 823.4h0M895.1 821.7h0M895.2 813.5h0M883.7 820.9h0M885 808h0M899.8 827.5h0M895.3 824.1h0M895.2 816.8h0M899.5 823.4h0M900.8 824.8h0M898.5 816.1h0M882.6 814.8h0M894.7 810.4h0M901.3 821h0M901 815.1h0M903.9 829.5h0M894.1 815.1h0M894.2 821.4h0M882.9 814.6h0M894 824.8h0M895.2 817.1h0M903.2 820.2h0M902.4 816.4h0M883.8 814.9h0M885.6 812.4h0M891 811.9h0M900.1 833.3h0M886.1 816.4h0M899.9 813.9h0M895.8 833.2h0M902.3 822.9h0M890.1 817.3h0M891.5 822.9h0M883.7 822.6h0M894.1 828h0M899.9 816.3h0M894 827.5h0M894.2 827.5h0M903.1 815.2h0M899.8 802.1h0M889.5 816h0M903.8 811.1h0M898.8 823.3h0M889.2 824.4h0M887.1 820.9h0M897.7 817h0M893.9 822.7h0M895.9 812.3h0M885.3 823.9h0M899.7 792.3h0M901.9 801.3h0M891.9 813.6h0M889.3 814.1h0M904.5 817.1h0M904.5 834.8h0M885.2 835.1h0M894.6 823.2h0M892.3 820.6h0M888.7 836.1h0M894.1 834.2h0M897.5 826.7h0M890.7 832.9h0M889.3 827.5h0M902 829.3h0M897.3 829.7h0M889.3 852h0M885.9 825.7h0M891.1 821h0M903.7 832.5h0M901.2 849.5h0M887.1 834.7h0M896.1 839h0M882.5 821.3h0M902.9 825.5h0M903.7 824.7h0M887.3 836.2h0M890.1 825.4h0M889.2 834.5h0M886.6 823.7h0M908.7 814.2h0M907 819.1h0M908.6 828.2h0M907.1 823.8h0M907.8 815.9h0M908.2 815h0M909 808h0M906.7 802.6h0M908.8 833h0M906.4 827.3h0M915 807.6h0M935.9 823h0M916.9 824.6h0M911.2 819h0M920.6 808.3h0M946 821h0M939.6 817.5h0M933.4 816.7h0M920.6 815.7h0M931.2 812h0M911.1 806.3h0M925 821.4h0M931.8 807.8h0M914.7 804.6h0M936.2 806.5h0M930.1 805.4h0M913 817.1h0M917.1 806.6h0M932.2 805h0M950.2 818.1h0M913.1 807.8h0M935.4 809.7h0M923.2 809.4h0M927.8 812h0M951.3 822.1h0M938.4 809.1h0M923.2 822.9h0M930.5 818.4h0M953.9 823.9h0M948.9 817.6h0M929.4 821.8h0M934 812.3h0M930.8 817.7h0M917.3 813.4h0M953.3 824.3h0M920.7 816.5h0M920.3 816.7h0M915.5 818.1h0M952.1 810.2h0M950.9 830.6h0M938.7 816.7h0M933.9 819.8h0M936.2 808.5h0M927 821.7h0M949.8 809.6h0M935.2 815.7h0M948.3 810.9h0M941.2 820.8h0M940.6 808.4h0M940.2 825.6h0M944.8 814.8h0M946.5 816.8h0M940.7 803.5h0M924.8 816.6h0M922.2 808.5h0M919.3 808.4h0M948.4 823.5h0M932 817.6h0M910.7 812.9h0M937 811.6h0M948.7 816.1h0M951.1 814.4h0M952 816h0M948.9 829.1h0M918.4 823.4h0M933.4 818.5h0M941.8 825.2h0M939 815.2h0M926.4 809h0M912.3 808h0M950 814.6h0M944.9 816.1h0M948.8 804.7h0M927.6 825.7h0M921.6 812.2h0M947.8 816.7h0M939.5 810.1h0M940 818h0M912.2 824.2h0M915.4 810.3h0M944.5 815h0M949.6 816.8h0M926.2 805.6h0M949.1 823.5h0M918.5 821.9h0M936.2 811.4h0M926 811.6h0M934.2 830.7h0M919.3 820.2h0M927.5 815.4h0M931 814.1h0M936.2 801h0M919.7 812.8h0M937.3 809.7h0M920 820h0M953.6 816.8h0M921.3 802.6h0M915.5 814.6h0M922.6 821.4h0M935.7 818.4h0M930.3 822.2h0M939.7 822.4h0M915.5 810.8h0M928.8 812.8h0M935.1 822.7h0M953.6 816.9h0M949.7 814.7h0M935.8 817.9h0M923.9 813.4h0M915.7 805.4h0M938.5 816.1h0M935.5 818.3h0M931.5 805.6h0M942.4 814.4h0M931.1 812.9h0M945 829.1h0M923.4 816.7h0M925.1 831.3h0M950.8 801.5h0M936.2 818h0M952.7 810h0M913.3 819.3h0M951.4 811.1h0M913.2 818.4h0M943.6 806.8h0M936.2 811.6h0M916 829.5h0M924 806.3h0M931.8 817.9h0M935.2 814.3h0M932.1 807.7h0M911.8 817.9h0M954.5 804.8h0M926.2 802.5h0M942.5 813.9h0M951.6 813.3h0M953.6 823.6h0M918.7 819.5h0M949.9 808.4h0M933.2 816.1h0M939.5 829.5h0M921.5 818.5h0M917 809.7h0M936.2 811.6h0M950.4 817.9h0M929.1 808.3h0M952.6 817.4h0M941.7 818.5h0M911.5 813.5h0M951.8 816.4h0M915.6 817.7h0M920.4 814.7h0M935.4 824.5h0M952 810.9h0M916.6 816.2h0M923.8 805.8h0M912.6 820.1h0M914.5 822.4h0M929.6 815h0M936 819.2h0M933.2 813.4h0M912.7 819.5h0M929.5 820.6h0M930.2 824.1h0M951.8 815.6h0M925.1 812.6h0M938.6 818h0M932.1 814h0M944.9 817.5h0M937.3 819.9h0M954.4 818.4h0M938.7 830.1h0M925.7 820.2h0M929.2 812.5h0M948.4 805.1h0M926.9 816.7h0M951.5 825.8h0M930.1 813.5h0M952.2 829.4h0M917.3 816h0M945.2 824.9h0M930.2 806.9h0M920.6 825.2h0M936.6 804.3h0M913.3 823.4h0M919.4 803.8h0M948 812.4h0M933.7 812.5h0M925.5 817.9h0M917 820.7h0M917.7 812h0M920.8 819.1h0M930.9 816.6h0M911.5 817.1h0M919.7 813.7h0M929.5 831h0M949.5 810.1h0M948.8 824.1h0M951.8 821.8h0M920.6 817.1h0M916.1 801.8h0M948.1 803.5h0M941.4 813.7h0M921.5 813.3h0M929.7 797.9h0M951.4 811.7h0M946.6 809.4h0M951.9 796.1h0M932.4 811h0M919.1 815.2h0M934.4 805.6h0M915.6 812.4h0M915.8 803.9h0M914.6 800.2h0M921.7 815.6h0M917.9 808.7h0M922 808.1h0M941.3 801.2h0M940.3 813.9h0M911.8 800.3h0M948.5 790.5h0M946.8 792.6h0M952.2 799.8h0M920.2 798.9h0M942.8 811.6h0M935.2 835.6h0M941.8 829.7h0M950.4 829.7h0M914.2 819.6h0M947.7 830.4h0M948.5 817.7h0M939.1 826.2h0M928.3 846.9h0M934.5 835h0M916.8 825.6h0M943.5 828h0M934.9 818.7h0M936 818.6h0M941.9 818.1h0M915.1 824.7h0M912.7 827.7h0M915.9 817.6h0M914.2 822.9h0M946 817.1h0M916.5 827.1h0M927.2 834.4h0M939.6 843h0M922 822.7h0M950.8 824.4h0M950.9 827.1h0M725.5 809.3h0M725.7 808h0M725.5 812.4h0M725.9 811.1h0M725.8 806.1h0M725.5 817.1h0M725.2 814.4h0M725.4 812.1h0M725.4 810h0M725.3 800.5h0M725.7 807.3h0M725.8 804.4h0M725.8 816h0M725.2 811.7h0M725.2 809.7h0M725.7 812.3h0M835.5 814.2h0M836 826h0M835.9 820h0M837.4 818.8h0M834.5 829.6h0M836.1 827.2h0M836 817.7h0M834.8 825.8h0M836 814.3h0M837.5 822.8h0M834.6 817.1h0M835.3 812.6h0M836.6 825.7h0M836.3 812h0M837.1 816.1h0M835.6 816.8h0M834.9 814.9h0M835.7 824.4h0M837.3 825.9h0M836 816.4h0M835.8 817.5h0M837.2 825.6h0M836.5 819h0M834.9 818.9h0M835.8 827.9h0M837.6 812.9h0M834.5 820.9h0M837.1 816.2h0M835.5 819.7h0M837 826.6h0M835 827.4h0M836.7 818.9h0M837.4 828.6h0M834.7 820.5h0M837.8 819.6h0M834.8 779.2h0M834.5 816.2h0M837.3 807.9h0M836.2 854h0M834.6 830.6h0M836.7 824.4h0M836.2 825.8h0M837.9 835.3h0M861.8 819.2h0M860.1 810.3h0M862.3 817.8h0M862.3 825.4h0M862 810.7h0M862 820.9h0M861.6 819.5h0M860.9 820.9h0M862.3 827.5h0M860.4 822.4h0M861.7 832.5h0M860.3 823.6h0M862.1 811.1h0M861.4 811.9h0M861.8 823.9h0M860.5 823h0M861.2 817.5h0M861.9 822.3h0M861.3 819.8h0M862.1 815.4h0M860.2 802.1h0M861 805.3h0M860.3 855.2h0M862.1 845.6h0M694 531.8h0M836.7 575.7h0M772.5 662.6h0M772.5 665.1h0M814.5 693.3h0M828 691.4h0M905.4 699.1h0M932.4 706h0M932.4 707.5h0M943.7 718.5h0M933.8 730.5h0M694 716.3h0M727.8 723.9h0M753.8 709.7h0M808.3 721.4h0M860.5 716.6h0M688.1 744.4h0M719.2 753.9h0M673.9 756.4h0M675.1 755.3h0M694.3 757.9h0M753.8 756.1h0M772.8 753.2h0M783.8 757.2h0M803.5 750.2h0M804.7 749.1h0M818.6 749.9h0M819.6 752h0M828.2 746.6h0M828.2 753.9h0M828.2 757.2h0M836.7 740h0M691.7 881.5h0M765.9 872.1h0M768.4 879h0M769.4 882.4h0M772.1 878.6h0M803.5 873.5h0M814.6 872.8h0M831 872.8h0M808.4 888.9h0M803.5 895.4h0M803.5 900.2h0M828 896.9h0M836.7 892.5h0M836.7 905.7h0M753.8 920.3h0M803.5 921.4h0M814.6 920.3h0M828.2 941.1h0M808.4 945.1h0M808.4 946.9h0M872.9 949.1h0M940.8 970.3h0M935 880.8h0M932.4 895.8h0M947.4 897.6h0M934 776.2h0M937.4 777.5h0M913.7 779.3h0M943.7 779.4h0M941.4 782.5h0M943.7 790h0M944.8 791.1h0M936.2 791.5h0M943.7 791.8h0M943.7 792.2h0M875.1 794h0M931.4 794.9h0M920.1 795.8h0M735.5 862.6h0M742.1 861.1h0M749.4 862.6h0M770.3 861.1h0M782.9 861.8h0M802.1 861.8h0M815.8 866.2h0M830.5 864.3h0M835.9 865.1h0M919.9 866.6h0M933.8 865.9h0" stroke="#88b04b" stroke-width="4.6" stroke-linecap="round" fill="none"/>
<clipPath id="cBR"><rect x="625.2" y="530.5" width="375.30" height="441.80"/></clipPath>
<polyline clip-path="url(#cBR)" points="837.92,817.19 837.96,817.19 837.99,817.19 838.03,817.19 838.07,817.18 838.10,817.18 838.14,817.18 838.18,817.17 838.21,817.17 838.25,817.17 838.29,817.17 838.32,817.16 838.36,817.16 838.40,817.16 838.43,817.15 838.47,817.15 838.51,817.15 838.55,817.14 838.58,817.14 838.62,817.14 838.66,817.13 838.69,817.13 838.73,817.13 838.77,817.12 838.80,817.12 838.84,817.12 838.88,817.11 838.91,817.11 838.95,817.10 838.99,817.10 839.02,817.10 839.06,817.09 839.10,817.09 839.14,817.08 839.17,817.08 839.21,817.07 839.25,817.07 839.28,817.07 839.32,817.06 839.36,817.06 839.39,817.05 839.43,817.05 839.47,817.04 839.50,817.04 839.54,817.03 839.58,817.03 839.61,817.02 839.65,817.02 839.69,817.01 839.73,817.00 839.76,817.00 839.80,816.99 839.84,816.99 839.87,816.98 839.91,816.98 839.95,816.97 839.98,816.96 840.02,816.96 840.06,816.95 840.09,816.94 840.13,816.94 840.17,816.93 840.20,816.92 840.24,816.92 840.28,816.91 840.32,816.90 840.35,816.89 840.39,816.89 840.43,816.88 840.46,816.87 840.50,816.86 840.54,816.85 840.57,816.85 840.61,816.84 840.65,816.83 840.68,816.82 840.72,816.81 840.76,816.80 840.79,816.79 840.83,816.78 840.87,816.77 840.91,816.76 840.94,816.75 840.98,816.74 841.02,816.73 841.05,816.72 841.09,816.71 841.13,816.70 841.16,816.69 841.20,816.68 841.24,816.67 841.27,816.66 841.31,816.64 841.35,816.63 841.38,816.62 841.42,816.61 841.46,816.59 841.50,816.58 841.53,816.57 841.57,816.55 841.61,816.54 841.64,816.52 841.68,816.51 841.72,816.49 841.75,816.48 841.79,816.46 841.83,816.45 841.86,816.43 841.90,816.41 841.94,816.40 841.97,816.38 842.01,816.36 842.05,816.34 842.09,816.33 842.12,816.31 842.16,816.29 842.20,816.27 842.23,816.25 842.27,816.23 842.31,816.21 842.34,816.19 842.38,816.16 842.42,816.14 842.45,816.12 842.49,816.10 842.53,816.07 842.56,816.05 842.60,816.02 842.64,816.00 842.68,815.97 842.71,815.95 842.75,815.92 842.79,815.89 842.82,815.86 842.86,815.83 842.90,815.81 842.93,815.78 842.97,815.74 843.01,815.71 843.04,815.68 843.08,815.65 843.12,815.61 843.15,815.58 843.19,815.54 843.23,815.51 843.27,815.47 843.30,815.43 843.34,815.40 843.38,815.36 843.41,815.32 843.45,815.27 843.49,815.23 843.52,815.19 843.56,815.15 843.60,815.10 843.63,815.05 843.67,815.01 843.71,814.96 843.74,814.91 843.78,814.86 843.82,814.81 843.86,814.75 843.89,814.70 843.93,814.64 843.97,814.58 844.00,814.53 844.04,814.47 844.08,814.40 844.11,814.34 844.15,814.28 844.19,814.21 844.22,814.14 844.26,814.07 844.30,814.00 844.33,813.93 844.37,813.86 844.41,813.78 844.45,813.70 844.48,813.62 844.52,813.54 844.56,813.45 844.59,813.37 844.63,813.28 844.67,813.19 844.70,813.10 844.74,813.00 844.78,812.90 844.81,812.80 844.85,812.70 844.89,812.60 844.92,812.49 844.96,812.38 845.00,812.27 845.04,812.15 845.07,812.03 845.11,811.91 845.15,811.79 845.18,811.66 845.22,811.53 845.26,811.40 845.29,811.26 845.33,811.12 845.37,810.97 845.40,810.83 845.44,810.68 845.48,810.52 845.52,810.36 845.55,810.20 845.59,810.03 845.63,809.86 845.66,809.69 845.70,809.51 845.74,809.33 845.77,809.14 845.81,808.95 845.85,808.75 845.88,808.55 845.92,808.35 845.96,808.14 845.99,807.92 846.03,807.70 846.07,807.48 846.11,807.25 846.14,807.02 846.18,806.78 846.22,806.53 846.25,806.28 846.29,806.03 846.33,805.77 846.36,805.50 846.40,805.23 846.44,804.95 846.47,804.67 846.51,804.38 846.55,804.09 846.58,803.79 846.62,803.49 846.66,803.18 846.70,802.86 846.73,802.54 846.77,802.22 846.81,801.89 846.84,801.55 846.88,801.21 846.92,800.86 846.95,800.51 846.99,800.16 847.03,799.80 847.06,799.43 847.10,799.06 847.14,798.69 847.17,798.31 847.21,797.93 847.25,797.55 847.29,797.16 847.32,796.77 847.36,796.38 847.40,795.98 847.43,795.59 847.47,795.19 847.51,794.79 847.54,794.39 847.58,793.99 847.62,793.59 847.65,793.20 847.69,792.80 847.73,792.40 847.76,792.01 847.80,791.62 847.84,791.23 847.88,790.85 847.91,790.47 847.95,790.10 847.99,789.73 848.02,789.37 848.06,789.02 848.10,788.67 848.13,788.33 848.17,788.01 848.21,787.69 848.24,787.38 848.28,787.08 848.32,786.80 848.35,786.52 848.39,786.26 848.43,786.01 848.47,785.78 848.50,785.56 848.54,785.35 848.58,785.16 848.61,784.99 848.65,784.83 848.69,784.69 848.72,784.57 848.76,784.46 848.80,784.37 848.83,784.30 848.87,784.24 848.91,784.21 848.94,784.19 848.98,784.19 849.02,784.21 849.06,784.24 849.09,784.30 849.13,784.37 849.17,784.46 849.20,784.57 849.24,784.69 849.28,784.83 849.31,784.99 849.35,785.16 849.39,785.35 849.42,785.56 849.46,785.78 849.50,786.01 849.53,786.26 849.57,786.52 849.61,786.80 849.65,787.08 849.68,787.38 849.72,787.69 849.76,788.01 849.79,788.33 849.83,788.67 849.87,789.02 849.90,789.37 849.94,789.73 849.98,790.10 850.01,790.47 850.05,790.85 850.09,791.23 850.12,791.62 850.16,792.01 850.20,792.40 850.24,792.80 850.27,793.20 850.31,793.59 850.35,793.99 850.38,794.39 850.42,794.79 850.46,795.19 850.49,795.59 850.53,795.98 850.57,796.38 850.60,796.77 850.64,797.16 850.68,797.55 850.71,797.93 850.75,798.31 850.79,798.69 850.83,799.06 850.86,799.43 850.90,799.80 850.94,800.16 850.97,800.51 851.01,800.86 851.05,801.21 851.08,801.55 851.12,801.89 851.16,802.22 851.19,802.54 851.23,802.86 851.27,803.18 851.30,803.49 851.34,803.79 851.38,804.09 851.42,804.38 851.45,804.67 851.49,804.95 851.53,805.23 851.56,805.50 851.60,805.77 851.64,806.03 851.67,806.28 851.71,806.53 851.75,806.78 851.78,807.02 851.82,807.25 851.86,807.48 851.89,807.70 851.93,807.92 851.97,808.14 852.01,808.35 852.04,808.55 852.08,808.75 852.12,808.95 852.15,809.14 852.19,809.33 852.23,809.51 852.26,809.69 852.30,809.86 852.34,810.03 852.37,810.20 852.41,810.36 852.45,810.52 852.48,810.68 852.52,810.83 852.56,810.97 852.60,811.12 852.63,811.26 852.67,811.40 852.71,811.53 852.74,811.66 852.78,811.79 852.82,811.91 852.85,812.03 852.89,812.15 852.93,812.27 852.96,812.38 853.00,812.49 853.04,812.60 853.07,812.70 853.11,812.80 853.15,812.90 853.19,813.00 853.22,813.10 853.26,813.19 853.30,813.28 853.33,813.37 853.37,813.45 853.41,813.54 853.44,813.62 853.48,813.70 853.52,813.78 853.55,813.86 853.59,813.93 853.63,814.00 853.67,814.07 853.70,814.14 853.74,814.21 853.78,814.28 853.81,814.34 853.85,814.40 853.89,814.47 853.92,814.53 853.96,814.58 854.00,814.64 854.03,814.70 854.07,814.75 854.11,814.81 854.14,814.86 854.18,814.91 854.22,814.96 854.26,815.01 854.29,815.05 854.33,815.10 854.37,815.15 854.40,815.19 854.44,815.23 854.48,815.27 854.51,815.32 854.55,815.36 854.59,815.40 854.62,815.43 854.66,815.47 854.70,815.51 854.73,815.54 854.77,815.58 854.81,815.61 854.85,815.65 854.88,815.68 854.92,815.71 854.96,815.74 854.99,815.78 855.03,815.81 855.07,815.83 855.10,815.86 855.14,815.89 855.18,815.92 855.21,815.95 855.25,815.97 855.29,816.00 855.32,816.02 855.36,816.05 855.40,816.07 855.44,816.10 855.47,816.12 855.51,816.14 855.55,816.16 855.58,816.19 855.62,816.21 855.66,816.23 855.69,816.25 855.73,816.27 855.77,816.29 855.80,816.31 855.84,816.33 855.88,816.34 855.91,816.36 855.95,816.38 855.99,816.40 856.03,816.41 856.06,816.43 856.10,816.45 856.14,816.46 856.17,816.48 856.21,816.49 856.25,816.51 856.28,816.52 856.32,816.54 856.36,816.55 856.39,816.57 856.43,816.58 856.47,816.59 856.50,816.61 856.54,816.62 856.58,816.63 856.62,816.64 856.65,816.66 856.69,816.67 856.73,816.68 856.76,816.69 856.80,816.70 856.84,816.71 856.87,816.72 856.91,816.73 856.95,816.74 856.98,816.75 857.02,816.76 857.06,816.77 857.09,816.78 857.13,816.79 857.17,816.80 857.21,816.81 857.24,816.82 857.28,816.83 857.32,816.84 857.35,816.85 857.39,816.85 857.43,816.86 857.46,816.87 857.50,816.88 857.54,816.89 857.57,816.89 857.61,816.90 857.65,816.91 857.68,816.92 857.72,816.92 857.76,816.93 857.80,816.94 857.83,816.94 857.87,816.95 857.91,816.96 857.94,816.96 857.98,816.97 858.02,816.98 858.05,816.98 858.09,816.99 858.13,816.99 858.16,817.00 858.20,817.00 858.24,817.01 858.27,817.02 858.31,817.02 858.35,817.03 858.39,817.03 858.42,817.04 858.46,817.04 858.50,817.05 858.53,817.05 858.57,817.06 858.61,817.06 858.64,817.07 858.68,817.07 858.72,817.07 858.75,817.08 858.79,817.08 858.83,817.09 858.86,817.09 858.90,817.10 858.94,817.10 858.98,817.10 859.01,817.11 859.05,817.11 859.09,817.12 859.12,817.12 859.16,817.12 859.20,817.13 859.23,817.13 859.27,817.13 859.31,817.14 859.34,817.14 859.38,817.14 859.42,817.15 859.45,817.15 859.49,817.15 859.53,817.16 859.57,817.16 859.60,817.16 859.64,817.17 859.68,817.17 859.71,817.17 859.75,817.17 859.79,817.18 859.82,817.18 859.86,817.18 859.90,817.19 859.93,817.19 859.97,817.19 860.01,817.19" fill="none" stroke="#000" stroke-width="3" stroke-dasharray="4.5 2.5"/>
<text x="628.70" y="992.8" text-anchor="middle">7050</text>
<text x="690.75" y="992.8" text-anchor="middle">7100</text>
<text x="752.80" y="992.8" text-anchor="middle">7150</text>
<text x="814.85" y="992.8" text-anchor="middle">7200</text>
<text x="876.90" y="992.8" text-anchor="middle">7250</text>
<text x="938.95" y="992.8" text-anchor="middle">7300</text>
<text x="1001.00" y="992.8" text-anchor="middle">7350</text>
<text x="616.40" y="930.14" text-anchor="end">-10000</text>
<text x="616.40" y="875.17" text-anchor="end">-5000</text>
<text x="616.40" y="820.20" text-anchor="end">0</text>
<text x="616.40" y="765.23" text-anchor="end">5000</text>
<text x="616.40" y="710.26" text-anchor="end">10000</text>
<text x="616.40" y="655.29" text-anchor="end">15000</text>
<text x="616.40" y="600.32" text-anchor="end">20000</text>
<text x="616.40" y="545.35" text-anchor="end">25000</text>
<text x="309.2" y="30.1" text-anchor="middle">BLG01K2002.2745</text>
<text x="812.7" y="30.1" text-anchor="middle" xml:space="preserve" style="white-space:pre">533  20.27  0.42  830</text>
<text transform="translate(38.9 264.3) rotate(-90)" text-anchor="middle">d flux</text>
<text transform="translate(38.9 751.3) rotate(-90)" text-anchor="middle">d flux</text>
<text x="308.7" y="1017.9" text-anchor="middle">time (HJD-2450000)</text>
<text x="812.7" y="1017.9" text-anchor="middle">time (HJD-2450000)</text>
</svg></body></html>
